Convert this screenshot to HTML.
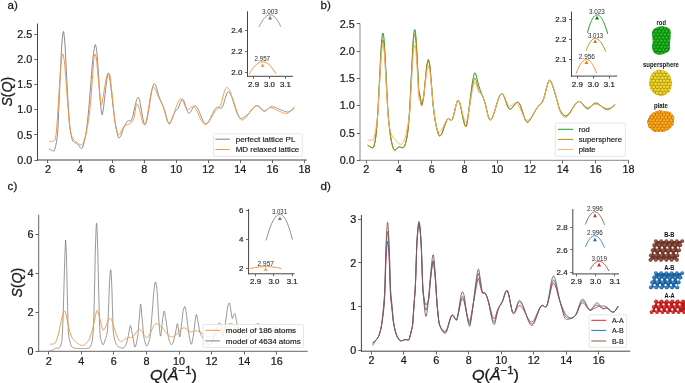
<!DOCTYPE html>
<html><head><meta charset="utf-8"><title>S(Q)</title>
<style>html,body{margin:0;padding:0;background:#fff;width:685px;height:383px;overflow:hidden}svg{display:block;opacity:0.999;will-change:transform}</style>
</head><body>
<svg width="685" height="383" viewBox="0 0 685 383" font-family='"Liberation Sans", sans-serif'>
<rect width="685" height="383" fill="#fff"/>
<text x="7.60" y="9.10" font-size="11.60" text-anchor="start" fill="#1a1a1a" font-weight="normal" font-style="normal" stroke="#1a1a1a" stroke-width="0.255">a)</text>
<text x="320.60" y="9.00" font-size="11.60" text-anchor="start" fill="#1a1a1a" font-weight="normal" font-style="normal" stroke="#1a1a1a" stroke-width="0.255">b)</text>
<text x="7.60" y="189.60" font-size="11.60" text-anchor="start" fill="#1a1a1a" font-weight="normal" font-style="normal" stroke="#1a1a1a" stroke-width="0.255">c)</text>
<text x="320.60" y="189.60" font-size="11.60" text-anchor="start" fill="#1a1a1a" font-weight="normal" font-style="normal" stroke="#1a1a1a" stroke-width="0.255">d)</text>
<line x1="37.50" y1="23.50" x2="37.50" y2="160.50" stroke="#444" stroke-width="1.00"/>
<line x1="37.00" y1="160.00" x2="306.80" y2="160.00" stroke="#444" stroke-width="1.00"/>
<line x1="47.50" y1="160.00" x2="47.50" y2="163.20" stroke="#555" stroke-width="0.90"/>
<text x="47.90" y="173.34" font-size="10.80" text-anchor="middle" fill="#1a1a1a" font-weight="normal" font-style="normal" stroke="#1a1a1a" stroke-width="0.238">2</text>
<line x1="79.50" y1="160.00" x2="79.50" y2="163.20" stroke="#555" stroke-width="0.90"/>
<text x="79.98" y="173.34" font-size="10.80" text-anchor="middle" fill="#1a1a1a" font-weight="normal" font-style="normal" stroke="#1a1a1a" stroke-width="0.238">4</text>
<line x1="112.50" y1="160.00" x2="112.50" y2="163.20" stroke="#555" stroke-width="0.90"/>
<text x="112.06" y="173.34" font-size="10.80" text-anchor="middle" fill="#1a1a1a" font-weight="normal" font-style="normal" stroke="#1a1a1a" stroke-width="0.238">6</text>
<line x1="144.50" y1="160.00" x2="144.50" y2="163.20" stroke="#555" stroke-width="0.90"/>
<text x="144.14" y="173.34" font-size="10.80" text-anchor="middle" fill="#1a1a1a" font-weight="normal" font-style="normal" stroke="#1a1a1a" stroke-width="0.238">8</text>
<line x1="176.50" y1="160.00" x2="176.50" y2="163.20" stroke="#555" stroke-width="0.90"/>
<text x="176.22" y="173.34" font-size="10.80" text-anchor="middle" fill="#1a1a1a" font-weight="normal" font-style="normal" stroke="#1a1a1a" stroke-width="0.238">10</text>
<line x1="208.50" y1="160.00" x2="208.50" y2="163.20" stroke="#555" stroke-width="0.90"/>
<text x="208.30" y="173.34" font-size="10.80" text-anchor="middle" fill="#1a1a1a" font-weight="normal" font-style="normal" stroke="#1a1a1a" stroke-width="0.238">12</text>
<line x1="240.50" y1="160.00" x2="240.50" y2="163.20" stroke="#555" stroke-width="0.90"/>
<text x="240.38" y="173.34" font-size="10.80" text-anchor="middle" fill="#1a1a1a" font-weight="normal" font-style="normal" stroke="#1a1a1a" stroke-width="0.238">14</text>
<line x1="272.50" y1="160.00" x2="272.50" y2="163.20" stroke="#555" stroke-width="0.90"/>
<text x="272.46" y="173.34" font-size="10.80" text-anchor="middle" fill="#1a1a1a" font-weight="normal" font-style="normal" stroke="#1a1a1a" stroke-width="0.238">16</text>
<line x1="304.50" y1="160.00" x2="304.50" y2="163.20" stroke="#555" stroke-width="0.90"/>
<text x="304.54" y="173.34" font-size="10.80" text-anchor="middle" fill="#1a1a1a" font-weight="normal" font-style="normal" stroke="#1a1a1a" stroke-width="0.238">18</text>
<line x1="34.30" y1="160.50" x2="37.50" y2="160.50" stroke="#555" stroke-width="0.90"/>
<text x="32.30" y="163.77" font-size="10.80" text-anchor="end" fill="#1a1a1a" font-weight="normal" font-style="normal" stroke="#1a1a1a" stroke-width="0.238">0.0</text>
<line x1="34.30" y1="134.50" x2="37.50" y2="134.50" stroke="#555" stroke-width="0.90"/>
<text x="32.30" y="138.62" font-size="10.80" text-anchor="end" fill="#1a1a1a" font-weight="normal" font-style="normal" stroke="#1a1a1a" stroke-width="0.238">0.5</text>
<line x1="34.30" y1="109.50" x2="37.50" y2="109.50" stroke="#555" stroke-width="0.90"/>
<text x="32.30" y="113.47" font-size="10.80" text-anchor="end" fill="#1a1a1a" font-weight="normal" font-style="normal" stroke="#1a1a1a" stroke-width="0.238">1.0</text>
<line x1="34.30" y1="84.50" x2="37.50" y2="84.50" stroke="#555" stroke-width="0.90"/>
<text x="32.30" y="88.32" font-size="10.80" text-anchor="end" fill="#1a1a1a" font-weight="normal" font-style="normal" stroke="#1a1a1a" stroke-width="0.238">1.5</text>
<line x1="34.30" y1="59.50" x2="37.50" y2="59.50" stroke="#555" stroke-width="0.90"/>
<text x="32.30" y="63.17" font-size="10.80" text-anchor="end" fill="#1a1a1a" font-weight="normal" font-style="normal" stroke="#1a1a1a" stroke-width="0.238">2.0</text>
<line x1="34.30" y1="34.50" x2="37.50" y2="34.50" stroke="#555" stroke-width="0.90"/>
<text x="32.30" y="38.02" font-size="10.80" text-anchor="end" fill="#1a1a1a" font-weight="normal" font-style="normal" stroke="#1a1a1a" stroke-width="0.238">2.5</text>
<path d="M49.50,149.08 L49.90,149.25 L50.30,149.46 L50.70,149.70 L51.10,149.95 L51.50,150.20 L51.90,150.45 L52.30,150.69 L52.70,150.92 L53.10,151.08 L53.50,151.10 L53.90,151.05 L54.30,150.66 L54.70,149.57 L55.10,148.21 L55.50,146.66 L55.90,144.88 L56.30,142.84 L56.70,140.53 L57.10,137.81 L57.50,134.20 L57.90,128.62 L58.30,120.65 L58.70,111.19 L59.10,102.39 L59.50,93.23 L59.90,84.08 L60.30,74.75 L60.70,66.21 L61.10,57.21 L61.50,49.34 L61.90,43.16 L62.30,38.76 L62.70,34.82 L63.10,32.11 L63.50,31.48 L63.90,33.26 L64.30,36.70 L64.70,40.92 L65.10,46.04 L65.50,53.37 L65.90,62.09 L66.30,69.77 L66.70,77.51 L67.10,85.09 L67.50,92.61 L67.90,99.82 L68.30,106.07 L68.70,112.13 L69.10,118.11 L69.50,123.33 L69.90,127.24 L70.30,129.65 L70.70,132.27 L71.10,134.68 L71.50,136.77 L71.90,138.53 L72.30,139.89 L72.70,140.80 L73.10,141.37 L73.50,141.83 L73.90,142.14 L74.30,142.38 L74.70,142.56 L75.10,142.73 L75.50,142.88 L75.90,143.03 L76.30,143.21 L76.70,143.42 L77.10,143.68 L77.50,144.01 L77.90,144.42 L78.30,144.91 L78.70,145.46 L79.10,146.05 L79.50,146.65 L79.90,147.22 L80.30,147.73 L80.70,148.14 L81.10,148.40 L81.50,148.47 L81.90,148.38 L82.30,147.85 L82.70,146.95 L83.10,145.87 L83.50,144.61 L83.90,143.19 L84.30,141.62 L84.70,139.89 L85.10,137.97 L85.50,135.84 L85.90,133.50 L86.30,130.92 L86.70,128.16 L87.10,125.01 L87.50,121.49 L87.90,117.72 L88.30,113.72 L88.70,109.48 L89.10,104.98 L89.50,100.27 L89.90,95.38 L90.30,90.32 L90.70,85.14 L91.10,79.87 L91.50,74.65 L91.90,69.36 L92.30,64.42 L92.70,60.49 L93.10,56.88 L93.50,53.66 L93.90,51.01 L94.30,48.75 L94.70,46.24 L95.10,44.80 L95.50,44.78 L95.90,46.08 L96.30,48.18 L96.70,50.68 L97.10,54.60 L97.50,60.12 L97.90,66.13 L98.30,71.88 L98.70,78.14 L99.10,84.31 L99.50,91.16 L99.90,96.81 L100.30,100.86 L100.70,105.35 L101.10,109.72 L101.50,112.86 L101.90,114.65 L102.30,114.72 L102.70,113.40 L103.10,110.87 L103.50,107.67 L103.90,104.62 L104.30,101.40 L104.70,98.00 L105.10,94.45 L105.50,90.85 L105.90,87.24 L106.30,83.82 L106.70,81.14 L107.10,78.55 L107.50,76.03 L107.90,73.85 L108.30,72.94 L108.70,73.26 L109.10,74.80 L109.50,77.28 L109.90,79.81 L110.30,82.44 L110.70,85.38 L111.10,88.86 L111.50,92.38 L111.90,95.97 L112.30,99.56 L112.70,103.08 L113.10,106.52 L113.50,109.87 L113.90,113.14 L114.30,116.30 L114.70,119.33 L115.10,122.18 L115.50,124.82 L115.90,127.12 L116.30,129.24 L116.70,131.18 L117.10,132.95 L117.50,134.53 L117.90,135.92 L118.30,137.02 L118.70,137.69 L119.10,137.85 L119.50,137.69 L119.90,137.34 L120.30,136.77 L120.70,136.02 L121.10,135.12 L121.50,134.12 L121.90,133.04 L122.30,131.91 L122.70,130.77 L123.10,129.64 L123.50,128.56 L123.90,127.56 L124.30,126.63 L124.70,125.79 L125.10,125.00 L125.50,124.26 L125.90,123.54 L126.30,122.85 L126.70,122.21 L127.10,121.65 L127.50,121.20 L127.90,120.87 L128.30,120.70 L128.70,120.67 L129.10,120.78 L129.50,120.94 L129.90,121.10 L130.30,121.14 L130.70,121.03 L131.10,120.64 L131.50,119.94 L131.90,118.96 L132.30,117.76 L132.70,116.34 L133.10,114.75 L133.50,113.04 L133.90,111.23 L134.30,109.38 L134.70,107.53 L135.10,105.71 L135.50,103.96 L135.90,102.34 L136.30,100.88 L136.70,99.62 L137.10,98.59 L137.50,97.82 L137.90,97.36 L138.30,97.25 L138.70,97.68 L139.10,98.64 L139.50,100.02 L139.90,101.75 L140.30,103.72 L140.70,105.88 L141.10,108.20 L141.50,110.60 L141.90,113.01 L142.30,115.35 L142.70,117.56 L143.10,119.57 L143.50,121.38 L143.90,122.85 L144.30,123.93 L144.70,124.51 L145.10,124.50 L145.50,124.06 L145.90,123.23 L146.30,122.06 L146.70,120.58 L147.10,118.83 L147.50,116.86 L147.90,114.69 L148.30,112.36 L148.70,109.90 L149.10,107.35 L149.50,104.75 L149.90,102.15 L150.30,99.57 L150.70,97.06 L151.10,94.66 L151.50,92.40 L151.90,90.32 L152.30,88.47 L152.70,86.85 L153.10,85.51 L153.50,84.51 L153.90,83.87 L154.30,83.65 L154.70,83.81 L155.10,84.26 L155.50,84.97 L155.90,85.89 L156.30,87.01 L156.70,88.28 L157.10,89.65 L157.50,91.10 L157.90,92.57 L158.30,94.03 L158.70,95.44 L159.10,96.76 L159.50,97.99 L159.90,99.11 L160.30,100.14 L160.70,101.12 L161.10,102.05 L161.50,102.96 L161.90,103.86 L162.30,104.75 L162.70,105.63 L163.10,106.52 L163.50,107.43 L163.90,108.41 L164.30,109.48 L164.70,110.66 L165.10,111.97 L165.50,113.40 L165.90,114.89 L166.30,116.43 L166.70,117.94 L167.10,119.39 L167.50,120.73 L167.90,121.90 L168.30,122.86 L168.70,123.60 L169.10,124.04 L169.50,124.13 L169.90,123.80 L170.30,123.11 L170.70,122.24 L171.10,121.21 L171.50,120.08 L171.90,118.94 L172.30,117.84 L172.70,116.79 L173.10,115.81 L173.50,114.87 L173.90,114.00 L174.30,113.20 L174.70,112.49 L175.10,111.86 L175.50,111.30 L175.90,110.81 L176.30,110.36 L176.70,109.95 L177.10,109.54 L177.50,109.11 L177.90,108.60 L178.30,107.96 L178.70,107.15 L179.10,106.17 L179.50,105.09 L179.90,103.97 L180.30,102.89 L180.70,101.89 L181.10,100.98 L181.50,100.20 L181.90,99.60 L182.30,99.20 L182.70,99.18 L183.10,99.50 L183.50,100.08 L183.90,100.89 L184.30,101.89 L184.70,103.05 L185.10,104.31 L185.50,105.64 L185.90,106.99 L186.30,108.31 L186.70,109.55 L187.10,110.68 L187.50,111.64 L187.90,112.39 L188.30,112.92 L188.70,113.19 L189.10,113.23 L189.50,113.07 L189.90,112.73 L190.30,112.26 L190.70,111.69 L191.10,111.04 L191.50,110.33 L191.90,109.60 L192.30,108.87 L192.70,108.16 L193.10,107.51 L193.50,106.94 L193.90,106.46 L194.30,106.11 L194.70,105.90 L195.10,105.84 L195.50,105.92 L195.90,106.14 L196.30,106.49 L196.70,106.95 L197.10,107.52 L197.50,108.17 L197.90,108.90 L198.30,109.71 L198.70,110.57 L199.10,111.48 L199.50,112.42 L199.90,113.39 L200.30,114.38 L200.70,115.37 L201.10,116.35 L201.50,117.32 L201.90,118.26 L202.30,119.15 L202.70,120.00 L203.10,120.79 L203.50,121.50 L203.90,122.13 L204.30,122.67 L204.70,123.11 L205.10,123.43 L205.50,123.63 L205.90,123.71 L206.30,123.67 L206.70,123.52 L207.10,123.26 L207.50,122.91 L207.90,122.47 L208.30,121.95 L208.70,121.36 L209.10,120.72 L209.50,120.01 L209.90,119.27 L210.30,118.48 L210.70,117.67 L211.10,116.83 L211.50,115.98 L211.90,115.13 L212.30,114.28 L212.70,113.44 L213.10,112.62 L213.50,111.83 L213.90,111.07 L214.30,110.35 L214.70,109.69 L215.10,109.09 L215.50,108.55 L215.90,108.10 L216.30,107.72 L216.70,107.44 L217.10,107.25 L217.50,107.16 L217.90,107.16 L218.30,107.24 L218.70,107.38 L219.10,107.57 L219.50,107.78 L219.90,107.98 L220.30,108.15 L220.70,108.26 L221.10,108.26 L221.50,108.10 L221.90,107.75 L222.30,107.18 L222.70,106.39 L223.10,105.40 L223.50,104.25 L223.90,102.98 L224.30,101.63 L224.70,100.23 L225.10,98.82 L225.50,97.45 L225.90,96.16 L226.30,94.97 L226.70,93.94 L227.10,93.10 L227.50,92.48 L227.90,92.09 L228.30,91.94 L228.70,91.99 L229.10,92.24 L229.50,92.63 L229.90,93.17 L230.30,93.83 L230.70,94.60 L231.10,95.48 L231.50,96.44 L231.90,97.48 L232.30,98.59 L232.70,99.76 L233.10,100.97 L233.50,102.22 L233.90,103.49 L234.30,104.78 L234.70,106.07 L235.10,107.35 L235.50,108.61 L235.90,109.84 L236.30,111.03 L236.70,112.17 L237.10,113.25 L237.50,114.25 L237.90,115.17 L238.30,116.00 L238.70,116.71 L239.10,117.32 L239.50,117.79 L239.90,118.14 L240.30,118.36 L240.70,118.46 L241.10,118.48 L241.50,118.42 L241.90,118.32 L242.30,118.17 L242.70,118.00 L243.10,117.80 L243.50,117.58 L243.90,117.34 L244.30,117.09 L244.70,116.83 L245.10,116.56 L245.50,116.29 L245.90,116.02 L246.30,115.75 L246.70,115.46 L247.10,115.14 L247.50,114.80 L247.90,114.43 L248.30,114.03 L248.70,113.61 L249.10,113.16 L249.50,112.70 L249.90,112.22 L250.30,111.73 L250.70,111.23 L251.10,110.74 L251.50,110.24 L251.90,109.75 L252.30,109.27 L252.70,108.80 L253.10,108.34 L253.50,107.91 L253.90,107.51 L254.30,107.13 L254.70,106.78 L255.10,106.47 L255.50,106.20 L255.90,105.98 L256.30,105.80 L256.70,105.68 L257.10,105.62 L257.50,105.63 L257.90,105.70 L258.30,105.86 L258.70,106.09 L259.10,106.38 L259.50,106.73 L259.90,107.13 L260.30,107.55 L260.70,108.00 L261.10,108.46 L261.50,108.91 L261.90,109.36 L262.30,109.78 L262.70,110.16 L263.10,110.50 L263.50,110.77 L263.90,110.98 L264.30,111.11 L264.70,111.16 L265.10,111.12 L265.50,110.99 L265.90,110.79 L266.30,110.52 L266.70,110.20 L267.10,109.84 L267.50,109.46 L267.90,109.05 L268.30,108.64 L268.70,108.25 L269.10,107.87 L269.50,107.53 L269.90,107.24 L270.30,107.00 L270.70,106.82 L271.10,106.72 L271.50,106.67 L271.90,106.67 L272.30,106.70 L272.70,106.75 L273.10,106.83 L273.50,106.92 L273.90,107.02 L274.30,107.14 L274.70,107.27 L275.10,107.42 L275.50,107.57 L275.90,107.73 L276.30,107.89 L276.70,108.06 L277.10,108.24 L277.50,108.42 L277.90,108.60 L278.30,108.78 L278.70,108.96 L279.10,109.14 L279.50,109.31 L279.90,109.48 L280.30,109.65 L280.70,109.80 L281.10,109.95 L281.50,110.10 L281.90,110.25 L282.30,110.41 L282.70,110.56 L283.10,110.73 L283.50,110.90 L283.90,111.06 L284.30,111.22 L284.70,111.38 L285.10,111.52 L285.50,111.65 L285.90,111.76 L286.30,111.84 L286.70,111.91 L287.10,111.94 L287.50,111.95 L287.90,111.93 L288.30,111.88 L288.70,111.80 L289.10,111.69 L289.50,111.55 L289.90,111.39 L290.30,111.20 L290.70,110.99 L291.10,110.75 L291.50,110.49 L291.90,110.21 L292.30,109.90 L292.70,109.58 L293.10,109.26 L293.50,108.96 L293.90,108.72 L294.00,108.55" fill="none" stroke="#7f7f7f" stroke-width="0.90" stroke-opacity="1.00" stroke-linejoin="round" stroke-linecap="round"/>
<path d="M49.50,141.50 L49.90,141.49 L50.30,141.48 L50.70,141.46 L51.10,141.43 L51.50,141.40 L51.90,141.36 L52.30,141.31 L52.70,141.24 L53.10,141.16 L53.50,141.05 L53.90,140.87 L54.30,140.51 L54.70,140.39 L55.10,139.58 L55.50,137.70 L55.90,135.61 L56.30,132.55 L56.70,127.95 L57.10,122.83 L57.50,116.98 L57.90,110.85 L58.30,104.60 L58.70,98.15 L59.10,91.64 L59.50,85.09 L59.90,78.99 L60.30,72.98 L60.70,67.16 L61.10,62.83 L61.50,59.88 L61.90,56.83 L62.30,54.72 L62.70,53.90 L63.10,54.51 L63.50,56.22 L63.90,58.50 L64.30,60.65 L64.70,64.27 L65.10,69.41 L65.50,74.46 L65.90,79.50 L66.30,84.74 L66.70,90.10 L67.10,95.50 L67.50,100.86 L67.90,106.11 L68.30,111.17 L68.70,116.24 L69.10,121.12 L69.50,124.70 L69.90,127.54 L70.30,130.25 L70.70,132.59 L71.10,134.37 L71.50,135.50 L71.90,136.54 L72.30,137.40 L72.70,138.14 L73.10,138.77 L73.50,139.34 L73.90,139.85 L74.30,140.31 L74.70,140.73 L75.10,141.11 L75.50,141.47 L75.90,141.81 L76.30,142.14 L76.70,142.46 L77.10,142.77 L77.50,143.08 L77.90,143.39 L78.30,143.68 L78.70,143.96 L79.10,144.22 L79.50,144.46 L79.90,144.66 L80.30,144.84 L80.70,144.96 L81.10,145.03 L81.50,145.00 L81.90,144.83 L82.30,144.48 L82.70,143.93 L83.10,143.18 L83.50,142.26 L83.90,141.21 L84.30,140.06 L84.70,138.82 L85.10,137.49 L85.50,136.04 L85.90,134.44 L86.30,132.68 L86.70,130.76 L87.10,128.68 L87.50,126.46 L87.90,124.11 L88.30,121.59 L88.70,118.88 L89.10,115.95 L89.50,112.77 L89.90,109.29 L90.30,105.56 L90.70,101.38 L91.10,96.25 L91.50,90.85 L91.90,85.42 L92.30,79.87 L92.70,74.37 L93.10,68.35 L93.50,62.83 L93.90,59.27 L94.30,56.47 L94.70,54.45 L95.10,53.94 L95.50,54.70 L95.90,56.40 L96.30,58.00 L96.70,60.72 L97.10,65.05 L97.50,69.63 L97.90,73.99 L98.30,78.50 L98.70,83.02 L99.10,87.49 L99.50,91.88 L99.90,95.37 L100.30,98.84 L100.70,102.37 L101.10,104.53 L101.50,105.06 L101.90,104.16 L102.30,101.99 L102.70,99.58 L103.10,97.34 L103.50,94.91 L103.90,92.38 L104.30,89.79 L104.70,87.20 L105.10,84.68 L105.50,82.29 L105.90,80.11 L106.30,78.10 L106.70,76.35 L107.10,75.22 L107.50,74.34 L107.90,73.69 L108.30,73.37 L108.70,73.47 L109.10,73.97 L109.50,74.73 L109.90,75.30 L110.30,77.40 L110.70,80.94 L111.10,84.68 L111.50,88.39 L111.90,92.34 L112.30,96.46 L112.70,100.61 L113.10,104.68 L113.50,108.60 L113.90,112.33 L114.30,115.86 L114.70,119.20 L115.10,122.16 L115.50,124.58 L115.90,126.84 L116.30,128.88 L116.70,130.68 L117.10,132.30 L117.50,133.59 L117.90,134.38 L118.30,134.55 L118.70,134.53 L119.10,134.34 L119.50,133.96 L119.90,133.46 L120.30,132.85 L120.70,132.17 L121.10,131.44 L121.50,130.67 L121.90,129.89 L122.30,129.11 L122.70,128.37 L123.10,127.67 L123.50,127.04 L123.90,126.50 L124.30,126.05 L124.70,125.70 L125.10,125.44 L125.50,125.24 L125.90,125.08 L126.30,124.94 L126.70,124.82 L127.10,124.71 L127.50,124.60 L127.90,124.48 L128.30,124.34 L128.70,124.19 L129.10,124.01 L129.50,123.80 L129.90,123.57 L130.30,123.31 L130.70,123.01 L131.10,122.68 L131.50,122.31 L131.90,121.89 L132.30,121.41 L132.70,120.84 L133.10,120.13 L133.50,119.32 L133.90,118.46 L134.30,116.47 L134.70,113.94 L135.10,111.54 L135.50,109.14 L135.90,106.54 L136.30,104.36 L136.70,103.52 L137.10,103.92 L137.50,104.35 L137.90,105.02 L138.30,105.91 L138.70,107.02 L139.10,108.31 L139.50,109.75 L139.90,111.30 L140.30,112.91 L140.70,114.56 L141.10,116.20 L141.50,117.80 L141.90,119.32 L142.30,120.73 L142.70,121.98 L143.10,123.05 L143.50,123.89 L143.90,124.49 L144.30,124.81 L144.70,124.79 L145.10,124.33 L145.50,123.47 L145.90,122.24 L146.30,120.69 L146.70,118.89 L147.10,116.86 L147.50,114.64 L147.90,112.27 L148.30,109.78 L148.70,107.24 L149.10,104.66 L149.50,102.12 L149.90,99.63 L150.30,97.26 L150.70,95.04 L151.10,93.01 L151.50,91.21 L151.90,89.66 L152.30,88.43 L152.70,87.57 L153.10,87.11 L153.50,87.05 L153.90,87.22 L154.30,87.61 L154.70,88.19 L155.10,88.93 L155.50,89.78 L155.90,90.72 L156.30,91.71 L156.70,92.73 L157.10,93.74 L157.50,94.72 L157.90,95.64 L158.30,96.48 L158.70,97.25 L159.10,97.97 L159.50,98.65 L159.90,99.33 L160.30,100.03 L160.70,100.76 L161.10,101.54 L161.50,102.36 L161.90,103.23 L162.30,104.16 L162.70,105.16 L163.10,106.27 L163.50,107.48 L163.90,108.80 L164.30,110.22 L164.70,111.70 L165.10,113.21 L165.50,114.71 L165.90,116.19 L166.30,117.59 L166.70,118.88 L167.10,120.04 L167.50,121.02 L167.90,121.80 L168.30,122.36 L168.70,122.68 L169.10,122.78 L169.50,122.68 L169.90,122.41 L170.30,121.99 L170.70,121.44 L171.10,120.78 L171.50,120.01 L171.90,119.16 L172.30,118.22 L172.70,117.21 L173.10,116.13 L173.50,115.01 L173.90,113.85 L174.30,112.66 L174.70,111.46 L175.10,110.25 L175.50,109.04 L175.90,107.84 L176.30,106.67 L176.70,105.54 L177.10,104.46 L177.50,103.43 L177.90,102.47 L178.30,101.59 L178.70,100.80 L179.10,100.11 L179.50,99.54 L179.90,99.08 L180.30,98.77 L180.70,98.60 L181.10,98.61 L181.50,98.80 L181.90,99.17 L182.30,99.72 L182.70,100.42 L183.10,101.24 L183.50,102.16 L183.90,103.14 L184.30,104.15 L184.70,105.16 L185.10,106.14 L185.50,107.06 L185.90,107.88 L186.30,108.58 L186.70,109.13 L187.10,109.51 L187.50,109.71 L187.90,109.75 L188.30,109.65 L188.70,109.44 L189.10,109.14 L189.50,108.79 L189.90,108.40 L190.30,108.00 L190.70,107.61 L191.10,107.24 L191.50,106.93 L191.90,106.68 L192.30,106.53 L192.70,106.47 L193.10,106.52 L193.50,106.67 L193.90,106.91 L194.30,107.25 L194.70,107.67 L195.10,108.17 L195.50,108.74 L195.90,109.37 L196.30,110.05 L196.70,110.78 L197.10,111.56 L197.50,112.36 L197.90,113.19 L198.30,114.05 L198.70,114.91 L199.10,115.78 L199.50,116.64 L199.90,117.49 L200.30,118.33 L200.70,119.14 L201.10,119.93 L201.50,120.67 L201.90,121.37 L202.30,122.01 L202.70,122.59 L203.10,123.11 L203.50,123.55 L203.90,123.91 L204.30,124.18 L204.70,124.36 L205.10,124.45 L205.50,124.45 L205.90,124.36 L206.30,124.20 L206.70,123.96 L207.10,123.66 L207.50,123.30 L207.90,122.88 L208.30,122.41 L208.70,121.90 L209.10,121.34 L209.50,120.75 L209.90,120.13 L210.30,119.48 L210.70,118.82 L211.10,118.13 L211.50,117.43 L211.90,116.73 L212.30,116.02 L212.70,115.32 L213.10,114.62 L213.50,113.93 L213.90,113.27 L214.30,112.62 L214.70,112.00 L215.10,111.41 L215.50,110.86 L215.90,110.35 L216.30,109.89 L216.70,109.47 L217.10,109.10 L217.50,108.78 L217.90,108.48 L218.30,108.19 L218.70,107.89 L219.10,107.55 L219.50,107.13 L219.90,106.58 L220.30,105.85 L220.70,104.93 L221.10,103.82 L221.50,102.53 L221.90,101.09 L222.30,99.56 L222.70,97.97 L223.10,96.35 L223.50,94.76 L223.90,93.23 L224.30,91.81 L224.70,90.53 L225.10,89.43 L225.50,88.56 L225.90,87.91 L226.30,87.55 L226.70,87.41 L227.10,87.46 L227.50,87.68 L227.90,88.03 L228.30,88.49 L228.70,89.05 L229.10,89.71 L229.50,90.45 L229.90,91.28 L230.30,92.18 L230.70,93.15 L231.10,94.18 L231.50,95.26 L231.90,96.39 L232.30,97.55 L232.70,98.76 L233.10,99.98 L233.50,101.23 L233.90,102.49 L234.30,103.76 L234.70,105.02 L235.10,106.28 L235.50,107.52 L235.90,108.75 L236.30,109.94 L236.70,111.10 L237.10,112.22 L237.50,113.29 L237.90,114.30 L238.30,115.25 L238.70,116.13 L239.10,116.94 L239.50,117.66 L239.90,118.30 L240.30,118.84 L240.70,119.28 L241.10,119.61 L241.50,119.83 L241.90,119.94 L242.30,119.97 L242.70,119.91 L243.10,119.78 L243.50,119.60 L243.90,119.36 L244.30,119.07 L244.70,118.74 L245.10,118.37 L245.50,117.96 L245.90,117.52 L246.30,117.04 L246.70,116.54 L247.10,116.02 L247.50,115.47 L247.90,114.91 L248.30,114.34 L248.70,113.76 L249.10,113.17 L249.50,112.58 L249.90,111.99 L250.30,111.41 L250.70,110.83 L251.10,110.27 L251.50,109.72 L251.90,109.19 L252.30,108.68 L252.70,108.20 L253.10,107.75 L253.50,107.33 L253.90,106.95 L254.30,106.61 L254.70,106.31 L255.10,106.06 L255.50,105.86 L255.90,105.72 L256.30,105.63 L256.70,105.62 L257.10,105.67 L257.50,105.80 L257.90,106.00 L258.30,106.26 L258.70,106.58 L259.10,106.94 L259.50,107.34 L259.90,107.76 L260.30,108.20 L260.70,108.63 L261.10,109.05 L261.50,109.46 L261.90,109.83 L262.30,110.16 L262.70,110.44 L263.10,110.66 L263.50,110.80 L263.90,110.88 L264.30,110.88 L264.70,110.81 L265.10,110.68 L265.50,110.51 L265.90,110.29 L266.30,110.04 L266.70,109.77 L267.10,109.49 L267.50,109.21 L267.90,108.93 L268.30,108.66 L268.70,108.41 L269.10,108.19 L269.50,108.02 L269.90,107.89 L270.30,107.80 L270.70,107.77 L271.10,107.78 L271.50,107.83 L271.90,107.91 L272.30,108.02 L272.70,108.15 L273.10,108.30 L273.50,108.47 L273.90,108.65 L274.30,108.84 L274.70,109.04 L275.10,109.25 L275.50,109.45 L275.90,109.66 L276.30,109.86 L276.70,110.06 L277.10,110.25 L277.50,110.42 L277.90,110.60 L278.30,110.77 L278.70,110.94 L279.10,111.12 L279.50,111.30 L279.90,111.48 L280.30,111.67 L280.70,111.86 L281.10,112.05 L281.50,112.24 L281.90,112.42 L282.30,112.59 L282.70,112.75 L283.10,112.90 L283.50,113.04 L283.90,113.16 L284.30,113.26 L284.70,113.35 L285.10,113.41 L285.50,113.44 L285.90,113.45 L286.30,113.42 L286.70,113.36 L287.10,113.25 L287.50,113.11 L287.90,112.93 L288.30,112.72 L288.70,112.47 L289.10,112.19 L289.50,111.88 L289.90,111.53 L290.30,111.16 L290.70,110.76 L291.10,110.33 L291.50,109.88 L291.90,109.40 L292.30,108.91 L292.70,108.40 L293.10,107.90 L293.50,107.44 L293.90,107.07 L294.00,106.82" fill="none" stroke="#f2984a" stroke-width="1.00" stroke-opacity="1.00" stroke-linejoin="round" stroke-linecap="round"/>
<rect x="213.4" y="133.8" width="88.9" height="22.6" rx="0.8" fill="#fff" fill-opacity="0.8" stroke="#e0e0e0" stroke-width="0.8"/>
<line x1="215.40" y1="139.20" x2="229.80" y2="139.20" stroke="#7f7f7f" stroke-width="1.00"/>
<line x1="215.40" y1="149.50" x2="229.80" y2="149.50" stroke="#f2984a" stroke-width="1.00"/>
<text x="235.70" y="141.90" font-size="7.60" text-anchor="start" fill="#1a1a1a" font-weight="normal" font-style="normal" textLength="59.70" lengthAdjust="spacingAndGlyphs" stroke="#1a1a1a" stroke-width="0.167">perfect lattice PL</text>
<text x="235.70" y="152.20" font-size="7.60" text-anchor="start" fill="#1a1a1a" font-weight="normal" font-style="normal" textLength="63.60" lengthAdjust="spacingAndGlyphs" stroke="#1a1a1a" stroke-width="0.167">MD relaxed lattice</text>
<line x1="247.50" y1="11.30" x2="247.50" y2="76.80" stroke="#444" stroke-width="1.00"/>
<line x1="247.00" y1="76.30" x2="292.90" y2="76.30" stroke="#444" stroke-width="1.00"/>
<line x1="253.50" y1="76.30" x2="253.50" y2="78.80" stroke="#555" stroke-width="0.90"/>
<text x="253.60" y="86.81" font-size="7.90" text-anchor="middle" fill="#1a1a1a" font-weight="normal" font-style="normal" stroke="#1a1a1a" stroke-width="0.174">2.9</text>
<line x1="269.50" y1="76.30" x2="269.50" y2="78.80" stroke="#555" stroke-width="0.90"/>
<text x="269.50" y="86.81" font-size="7.90" text-anchor="middle" fill="#1a1a1a" font-weight="normal" font-style="normal" stroke="#1a1a1a" stroke-width="0.174">3.0</text>
<line x1="285.50" y1="76.30" x2="285.50" y2="78.80" stroke="#555" stroke-width="0.90"/>
<text x="285.40" y="86.81" font-size="7.90" text-anchor="middle" fill="#1a1a1a" font-weight="normal" font-style="normal" stroke="#1a1a1a" stroke-width="0.174">3.1</text>
<line x1="245.00" y1="72.50" x2="247.50" y2="72.50" stroke="#555" stroke-width="0.90"/>
<text x="242.30" y="75.36" font-size="7.90" text-anchor="end" fill="#1a1a1a" font-weight="normal" font-style="normal" stroke="#1a1a1a" stroke-width="0.174">2.0</text>
<line x1="245.00" y1="51.50" x2="247.50" y2="51.50" stroke="#555" stroke-width="0.90"/>
<text x="242.30" y="54.26" font-size="7.90" text-anchor="end" fill="#1a1a1a" font-weight="normal" font-style="normal" stroke="#1a1a1a" stroke-width="0.174">2.2</text>
<line x1="245.00" y1="30.50" x2="247.50" y2="30.50" stroke="#555" stroke-width="0.90"/>
<text x="242.30" y="33.16" font-size="7.90" text-anchor="end" fill="#1a1a1a" font-weight="normal" font-style="normal" stroke="#1a1a1a" stroke-width="0.174">2.4</text>
<path d="M259.10,26.90 L259.65,25.72 L260.20,24.60 L260.75,23.54 L261.30,22.54 L261.85,21.61 L262.40,20.73 L262.95,19.91 L263.50,19.16 L264.05,18.46 L264.60,17.82 L265.15,17.25 L265.70,16.74 L266.25,16.28 L266.80,15.89 L267.35,15.56 L267.90,15.28 L268.45,15.07 L269.00,14.92 L269.55,14.83 L270.10,14.80 L270.64,14.83 L271.17,14.92 L271.71,15.07 L272.24,15.27 L272.78,15.54 L273.31,15.86 L273.85,16.25 L274.38,16.69 L274.92,17.19 L275.45,17.75 L275.99,18.37 L276.52,19.05 L277.06,19.79 L277.59,20.58 L278.12,21.44 L278.66,22.35 L279.19,23.33 L279.73,24.36 L280.26,25.45 L280.80,26.60" fill="none" stroke="#7f7f7f" stroke-width="0.90" stroke-linejoin="round"/>
<path d="M249.40,73.80 L250.06,72.64 L250.72,71.54 L251.38,70.50 L252.04,69.52 L252.70,68.59 L253.36,67.73 L254.02,66.93 L254.68,66.18 L255.34,65.50 L256.00,64.88 L256.66,64.31 L257.32,63.80 L257.98,63.36 L258.64,62.97 L259.30,62.64 L259.96,62.38 L260.62,62.17 L261.28,62.02 L261.94,61.93 L262.60,61.90 L263.26,61.93 L263.92,62.02 L264.58,62.17 L265.24,62.38 L265.90,62.64 L266.56,62.97 L267.22,63.36 L267.88,63.80 L268.54,64.31 L269.20,64.88 L269.86,65.50 L270.52,66.18 L271.18,66.93 L271.84,67.73 L272.50,68.59 L273.16,69.52 L273.82,70.50 L274.48,71.54 L275.14,72.64 L275.80,73.80" fill="none" stroke="#f08a30" stroke-width="1.00" stroke-linejoin="round"/>
<path d="M270.10,15.80 L272.10,19.40 L268.10,19.40 Z" fill="#777"/>
<path d="M262.60,63.50 L264.60,67.10 L260.60,67.10 Z" fill="#f2984a"/>
<text x="262.00" y="13.70" font-size="6.60" text-anchor="start" fill="#2a2a2a" font-weight="normal" font-style="normal" textLength="15.90" lengthAdjust="spacingAndGlyphs">3.003</text>
<text x="254.50" y="60.60" font-size="6.60" text-anchor="start" fill="#2a2a2a" font-weight="normal" font-style="normal" textLength="15.60" lengthAdjust="spacingAndGlyphs">2.957</text>
<line x1="360.00" y1="23.50" x2="360.00" y2="160.80" stroke="#888" stroke-width="1.00"/>
<line x1="359.50" y1="160.30" x2="628.70" y2="160.30" stroke="#888" stroke-width="1.00"/>
<line x1="366.50" y1="160.30" x2="366.50" y2="163.50" stroke="#555" stroke-width="0.90"/>
<text x="366.20" y="172.84" font-size="10.80" text-anchor="middle" fill="#1a1a1a" font-weight="normal" font-style="normal" stroke="#1a1a1a" stroke-width="0.238">2</text>
<line x1="398.50" y1="160.30" x2="398.50" y2="163.50" stroke="#555" stroke-width="0.90"/>
<text x="398.98" y="172.84" font-size="10.80" text-anchor="middle" fill="#1a1a1a" font-weight="normal" font-style="normal" stroke="#1a1a1a" stroke-width="0.238">4</text>
<line x1="431.50" y1="160.30" x2="431.50" y2="163.50" stroke="#555" stroke-width="0.90"/>
<text x="431.76" y="172.84" font-size="10.80" text-anchor="middle" fill="#1a1a1a" font-weight="normal" font-style="normal" stroke="#1a1a1a" stroke-width="0.238">6</text>
<line x1="464.50" y1="160.30" x2="464.50" y2="163.50" stroke="#555" stroke-width="0.90"/>
<text x="464.54" y="172.84" font-size="10.80" text-anchor="middle" fill="#1a1a1a" font-weight="normal" font-style="normal" stroke="#1a1a1a" stroke-width="0.238">8</text>
<line x1="497.50" y1="160.30" x2="497.50" y2="163.50" stroke="#555" stroke-width="0.90"/>
<text x="497.32" y="172.84" font-size="10.80" text-anchor="middle" fill="#1a1a1a" font-weight="normal" font-style="normal" stroke="#1a1a1a" stroke-width="0.238">10</text>
<line x1="530.50" y1="160.30" x2="530.50" y2="163.50" stroke="#555" stroke-width="0.90"/>
<text x="530.10" y="172.84" font-size="10.80" text-anchor="middle" fill="#1a1a1a" font-weight="normal" font-style="normal" stroke="#1a1a1a" stroke-width="0.238">12</text>
<line x1="562.50" y1="160.30" x2="562.50" y2="163.50" stroke="#555" stroke-width="0.90"/>
<text x="562.88" y="172.84" font-size="10.80" text-anchor="middle" fill="#1a1a1a" font-weight="normal" font-style="normal" stroke="#1a1a1a" stroke-width="0.238">14</text>
<line x1="595.50" y1="160.30" x2="595.50" y2="163.50" stroke="#555" stroke-width="0.90"/>
<text x="595.66" y="172.84" font-size="10.80" text-anchor="middle" fill="#1a1a1a" font-weight="normal" font-style="normal" stroke="#1a1a1a" stroke-width="0.238">16</text>
<line x1="628.50" y1="160.30" x2="628.50" y2="163.50" stroke="#555" stroke-width="0.90"/>
<text x="628.44" y="172.84" font-size="10.80" text-anchor="middle" fill="#1a1a1a" font-weight="normal" font-style="normal" stroke="#1a1a1a" stroke-width="0.238">18</text>
<line x1="356.80" y1="160.50" x2="360.00" y2="160.50" stroke="#555" stroke-width="0.90"/>
<text x="354.80" y="164.07" font-size="10.80" text-anchor="end" fill="#1a1a1a" font-weight="normal" font-style="normal" stroke="#1a1a1a" stroke-width="0.238">0.0</text>
<line x1="356.80" y1="133.50" x2="360.00" y2="133.50" stroke="#555" stroke-width="0.90"/>
<text x="354.80" y="136.77" font-size="10.80" text-anchor="end" fill="#1a1a1a" font-weight="normal" font-style="normal" stroke="#1a1a1a" stroke-width="0.238">0.5</text>
<line x1="356.80" y1="105.50" x2="360.00" y2="105.50" stroke="#555" stroke-width="0.90"/>
<text x="354.80" y="109.47" font-size="10.80" text-anchor="end" fill="#1a1a1a" font-weight="normal" font-style="normal" stroke="#1a1a1a" stroke-width="0.238">1.0</text>
<line x1="356.80" y1="78.50" x2="360.00" y2="78.50" stroke="#555" stroke-width="0.90"/>
<text x="354.80" y="82.17" font-size="10.80" text-anchor="end" fill="#1a1a1a" font-weight="normal" font-style="normal" stroke="#1a1a1a" stroke-width="0.238">1.5</text>
<line x1="356.80" y1="51.50" x2="360.00" y2="51.50" stroke="#555" stroke-width="0.90"/>
<text x="354.80" y="54.87" font-size="10.80" text-anchor="end" fill="#1a1a1a" font-weight="normal" font-style="normal" stroke="#1a1a1a" stroke-width="0.238">2.0</text>
<line x1="356.80" y1="23.50" x2="360.00" y2="23.50" stroke="#555" stroke-width="0.90"/>
<text x="354.80" y="27.57" font-size="10.80" text-anchor="end" fill="#1a1a1a" font-weight="normal" font-style="normal" stroke="#1a1a1a" stroke-width="0.238">2.5</text>
<path d="M368.00,145.42 L368.40,145.62 L368.80,145.87 L369.20,146.15 L369.60,146.42 L370.00,146.68 L370.40,146.93 L370.80,147.15 L371.20,147.37 L371.60,147.56 L372.00,147.73 L372.40,147.82 L372.80,147.77 L373.20,147.65 L373.60,147.26 L374.00,146.05 L374.40,144.40 L374.80,142.52 L375.20,140.54 L375.60,138.00 L376.00,134.87 L376.40,131.13 L376.80,126.22 L377.20,120.61 L377.60,114.63 L378.00,108.50 L378.40,100.85 L378.80,93.01 L379.20,85.06 L379.60,77.07 L380.00,69.12 L380.40,61.08 L380.80,53.30 L381.20,46.73 L381.60,41.25 L382.00,37.05 L382.40,34.26 L382.80,33.07 L383.20,33.55 L383.60,35.39 L384.00,38.93 L384.40,43.85 L384.80,49.93 L385.20,57.12 L385.60,65.08 L386.00,73.09 L386.40,81.06 L386.80,89.00 L387.20,97.00 L387.60,105.12 L388.00,111.73 L388.40,116.87 L388.80,120.99 L389.20,124.85 L389.60,128.45 L390.00,131.85 L390.40,134.98 L390.80,137.79 L391.20,140.11 L391.60,142.04 L392.00,143.84 L392.40,145.44 L392.80,146.84 L393.20,148.03 L393.60,148.99 L394.00,149.63 L394.40,149.90 L394.80,149.99 L395.20,149.90 L395.60,149.68 L396.00,149.38 L396.40,149.03 L396.80,148.65 L397.20,148.26 L397.60,147.88 L398.00,147.54 L398.40,147.25 L398.80,147.03 L399.20,146.92 L399.60,146.90 L400.00,146.99 L400.40,147.16 L400.80,147.35 L401.20,147.53 L401.60,147.65 L402.00,147.70 L402.40,147.70 L402.80,147.64 L403.20,147.52 L403.60,147.31 L404.00,146.95 L404.40,146.41 L404.80,145.54 L405.20,144.47 L405.60,143.18 L406.00,141.69 L406.40,139.99 L406.80,138.04 L407.20,135.75 L407.60,133.13 L408.00,129.84 L408.40,125.78 L408.80,121.11 L409.20,116.01 L409.60,110.58 L410.00,103.74 L410.40,95.38 L410.80,87.14 L411.20,78.94 L411.60,70.72 L412.00,62.44 L412.40,54.22 L412.80,46.85 L413.20,40.58 L413.60,35.52 L414.00,31.87 L414.40,29.96 L414.80,29.47 L415.20,30.70 L415.60,33.57 L416.00,37.90 L416.40,43.56 L416.80,50.33 L417.20,58.33 L417.60,66.48 L418.00,74.26 L418.40,83.91 L418.80,90.34 L419.20,92.30 L419.60,93.28 L420.00,95.45 L420.40,97.75 L420.80,99.90 L421.20,102.93 L421.60,104.33 L422.00,104.14 L422.40,102.85 L422.80,101.08 L423.20,99.12 L423.60,97.30 L424.00,94.19 L424.40,89.78 L424.80,85.53 L425.20,81.34 L425.60,77.17 L426.00,73.18 L426.40,68.93 L426.80,65.21 L427.20,63.28 L427.60,61.33 L428.00,59.84 L428.40,59.54 L428.80,60.38 L429.20,62.22 L429.60,64.00 L430.00,66.88 L430.40,71.31 L430.80,76.32 L431.20,81.10 L431.60,86.10 L432.00,91.19 L432.40,96.35 L432.80,101.63 L433.20,105.52 L433.60,108.97 L434.00,112.26 L434.40,115.29 L434.80,118.04 L435.20,120.52 L435.60,122.74 L436.00,124.77 L436.40,126.64 L436.80,128.38 L437.20,130.02 L437.60,131.54 L438.00,132.90 L438.40,134.06 L438.80,135.00 L439.20,135.65 L439.60,135.96 L440.00,135.97 L440.40,135.77 L440.80,135.36 L441.20,134.77 L441.60,134.04 L442.00,133.17 L442.40,132.20 L442.80,131.14 L443.20,130.02 L443.60,128.85 L444.00,127.65 L444.40,126.45 L444.80,125.26 L445.20,124.11 L445.60,123.02 L446.00,122.00 L446.40,121.08 L446.80,120.28 L447.20,119.61 L447.60,119.10 L448.00,118.77 L448.40,118.63 L448.80,118.68 L449.20,118.90 L449.60,119.24 L450.00,119.65 L450.40,120.04 L450.80,120.34 L451.20,120.46 L451.60,120.41 L452.00,120.00 L452.40,119.25 L452.80,118.21 L453.20,116.95 L453.60,115.49 L454.00,113.88 L454.40,112.17 L454.80,110.40 L455.20,108.63 L455.60,106.92 L456.00,105.31 L456.40,103.85 L456.80,102.60 L457.20,101.56 L457.60,100.81 L458.00,100.40 L458.40,100.40 L458.80,100.81 L459.20,101.58 L459.60,102.67 L460.00,103.99 L460.40,105.54 L460.80,107.27 L461.20,109.15 L461.60,111.12 L462.00,113.15 L462.40,115.17 L462.80,117.16 L463.20,119.07 L463.60,120.84 L464.00,122.44 L464.40,123.82 L464.80,124.97 L465.20,125.82 L465.60,126.36 L466.00,126.61 L466.40,126.02 L466.80,124.49 L467.20,122.28 L467.60,119.62 L468.00,116.64 L468.40,113.53 L468.80,110.27 L469.20,106.97 L469.60,103.70 L470.00,100.50 L470.40,97.34 L470.80,94.19 L471.20,91.06 L471.60,88.00 L472.00,85.06 L472.40,82.38 L472.80,80.18 L473.20,78.12 L473.60,76.32 L474.00,74.68 L474.40,73.37 L474.80,72.72 L475.20,72.95 L475.60,73.72 L476.00,74.88 L476.40,76.28 L476.80,77.83 L477.20,79.51 L477.60,81.21 L478.00,82.84 L478.40,84.35 L478.80,85.73 L479.20,87.00 L479.60,88.18 L480.00,89.32 L480.40,90.42 L480.80,91.50 L481.20,92.57 L481.60,93.63 L482.00,94.67 L482.40,95.70 L482.80,96.73 L483.20,97.74 L483.60,98.78 L484.00,99.85 L484.40,101.00 L484.80,102.26 L485.20,103.66 L485.60,105.19 L486.00,106.83 L486.40,108.56 L486.80,110.32 L487.20,112.07 L487.60,113.75 L488.00,115.32 L488.40,116.72 L488.80,117.91 L489.20,118.88 L489.60,119.54 L490.00,119.86 L490.40,119.90 L490.80,119.74 L491.20,119.39 L491.60,118.87 L492.00,118.20 L492.40,117.40 L492.80,116.49 L493.20,115.48 L493.60,114.38 L494.00,113.20 L494.40,111.96 L494.80,110.67 L495.20,109.34 L495.60,107.99 L496.00,106.63 L496.40,105.27 L496.80,103.92 L497.20,102.60 L497.60,101.32 L498.00,100.10 L498.40,98.94 L498.80,97.86 L499.20,96.87 L499.60,95.99 L500.00,95.22 L500.40,94.59 L500.80,94.10 L501.20,93.77 L501.60,93.61 L502.00,93.64 L502.40,93.86 L502.80,94.27 L503.20,94.85 L503.60,95.58 L504.00,96.45 L504.40,97.43 L504.80,98.49 L505.20,99.61 L505.60,100.77 L506.00,101.93 L506.40,103.09 L506.80,104.21 L507.20,105.27 L507.60,106.25 L508.00,107.12 L508.40,107.85 L508.80,108.44 L509.20,108.85 L509.60,109.10 L510.00,109.18 L510.40,109.13 L510.80,108.96 L511.20,108.70 L511.60,108.37 L512.00,107.98 L512.40,107.54 L512.80,107.06 L513.20,106.56 L513.60,106.03 L514.00,105.50 L514.40,104.97 L514.80,104.46 L515.20,103.97 L515.60,103.52 L516.00,103.12 L516.40,102.77 L516.80,102.50 L517.20,102.30 L517.60,102.21 L518.00,102.25 L518.40,102.44 L518.80,102.78 L519.20,103.29 L519.60,103.95 L520.00,104.75 L520.40,105.67 L520.80,106.69 L521.20,107.80 L521.60,108.98 L522.00,110.20 L522.40,111.46 L522.80,112.72 L523.20,113.98 L523.60,115.22 L524.00,116.41 L524.40,117.54 L524.80,118.58 L525.20,119.53 L525.60,120.36 L526.00,121.06 L526.40,121.61 L526.80,121.99 L527.20,122.19 L527.60,122.23 L528.00,122.11 L528.40,121.85 L528.80,121.47 L529.20,120.99 L529.60,120.43 L530.00,119.82 L530.40,119.17 L530.80,118.50 L531.20,117.83 L531.60,117.16 L532.00,116.50 L532.40,115.83 L532.80,115.15 L533.20,114.45 L533.60,113.73 L534.00,113.00 L534.40,112.27 L534.80,111.55 L535.20,110.86 L535.60,110.19 L536.00,109.55 L536.40,108.94 L536.80,108.36 L537.20,107.80 L537.60,107.26 L538.00,106.74 L538.40,106.25 L538.80,105.78 L539.20,105.35 L539.60,104.96 L540.00,104.59 L540.40,104.24 L540.80,103.89 L541.20,103.50 L541.60,103.06 L542.00,102.52 L542.40,101.86 L542.80,101.04 L543.20,100.05 L543.60,98.91 L544.00,97.65 L544.40,96.29 L544.80,94.83 L545.20,93.29 L545.60,91.67 L546.00,90.02 L546.40,88.42 L546.80,86.90 L547.20,85.49 L547.60,84.19 L548.00,83.00 L548.40,81.96 L548.80,81.11 L549.20,80.48 L549.60,80.25 L550.00,80.42 L550.40,80.85 L550.80,81.47 L551.20,82.25 L551.60,83.13 L552.00,84.08 L552.40,85.11 L552.80,86.21 L553.20,87.38 L553.60,88.63 L554.00,89.92 L554.40,91.24 L554.80,92.58 L555.20,93.94 L555.60,95.32 L556.00,96.71 L556.40,98.12 L556.80,99.54 L557.20,100.97 L557.60,102.42 L558.00,103.89 L558.40,105.35 L558.80,106.77 L559.20,108.09 L559.60,109.24 L560.00,110.21 L560.40,111.02 L560.80,111.71 L561.20,112.32 L561.60,112.89 L562.00,113.41 L562.40,113.89 L562.80,114.33 L563.20,114.72 L563.60,115.07 L564.00,115.35 L564.40,115.59 L564.80,115.75 L565.20,115.86 L565.60,115.89 L566.00,115.86 L566.40,115.75 L566.80,115.58 L567.20,115.35 L567.60,115.06 L568.00,114.72 L568.40,114.33 L568.80,113.89 L569.20,113.42 L569.60,112.91 L570.00,112.36 L570.40,111.79 L570.80,111.20 L571.20,110.59 L571.60,109.97 L572.00,109.34 L572.40,108.70 L572.80,108.06 L573.20,107.43 L573.60,106.81 L574.00,106.20 L574.40,105.61 L574.80,105.04 L575.20,104.49 L575.60,103.98 L576.00,103.51 L576.40,103.07 L576.80,102.68 L577.20,102.34 L577.60,102.05 L578.00,101.82 L578.40,101.65 L578.80,101.55 L579.20,101.53 L579.60,101.59 L580.00,101.73 L580.40,101.95 L580.80,102.24 L581.20,102.60 L581.60,103.01 L582.00,103.46 L582.40,103.96 L582.80,104.47 L583.20,105.00 L583.60,105.53 L584.00,106.06 L584.40,106.57 L584.80,107.05 L585.20,107.50 L585.60,107.90 L586.00,108.24 L586.40,108.52 L586.80,108.72 L587.20,108.83 L587.60,108.86 L588.00,108.81 L588.40,108.68 L588.80,108.49 L589.20,108.23 L589.60,107.92 L590.00,107.56 L590.40,107.18 L590.80,106.76 L591.20,106.33 L591.60,105.90 L592.00,105.46 L592.40,105.03 L592.80,104.62 L593.20,104.24 L593.60,103.90 L594.00,103.60 L594.40,103.36 L594.80,103.17 L595.20,103.05 L595.60,103.00 L596.00,103.00 L596.40,103.06 L596.80,103.16 L597.20,103.30 L597.60,103.48 L598.00,103.68 L598.40,103.92 L598.80,104.18 L599.20,104.46 L599.60,104.76 L600.00,105.08 L600.40,105.41 L600.80,105.74 L601.20,106.09 L601.60,106.43 L602.00,106.77 L602.40,107.11 L602.80,107.44 L603.20,107.76 L603.60,108.06 L604.00,108.35 L604.40,108.62 L604.80,108.86 L605.20,109.07 L605.60,109.26 L606.00,109.41 L606.40,109.52 L606.80,109.60 L607.20,109.63 L607.60,109.63 L608.00,109.58 L608.40,109.50 L608.80,109.38 L609.20,109.23 L609.60,109.04 L610.00,108.83 L610.40,108.58 L610.80,108.31 L611.20,108.01 L611.60,107.68 L612.00,107.33 L612.40,106.96 L612.80,106.57 L613.20,106.16 L613.60,105.75 L614.00,105.37 L614.40,105.05 L614.60,104.82" fill="none" stroke="#229a22" stroke-width="1.00" stroke-opacity="1.00" stroke-linejoin="round" stroke-linecap="round"/>
<path d="M368.00,145.42 L368.40,145.62 L368.80,145.87 L369.20,146.15 L369.60,146.42 L370.00,146.68 L370.40,146.93 L370.80,147.15 L371.20,147.37 L371.60,147.56 L372.00,147.73 L372.40,147.82 L372.80,147.77 L373.20,147.65 L373.60,147.26 L374.00,146.03 L374.40,144.39 L374.80,142.53 L375.20,140.54 L375.60,138.09 L376.00,135.10 L376.40,131.53 L376.80,126.96 L377.20,121.74 L377.60,116.15 L378.00,110.38 L378.40,103.25 L378.80,95.91 L379.20,88.48 L379.60,80.98 L380.00,73.54 L380.40,66.04 L380.80,58.73 L381.20,52.54 L381.60,47.39 L382.00,43.45 L382.40,40.84 L382.80,39.72 L383.20,40.17 L383.60,41.90 L384.00,45.22 L384.40,49.83 L384.80,55.53 L385.20,62.36 L385.60,69.77 L386.00,77.25 L386.40,84.73 L386.80,92.17 L387.20,99.64 L387.60,107.29 L388.00,113.48 L388.40,118.20 L388.80,122.11 L389.20,125.76 L389.60,129.16 L390.00,132.35 L390.40,135.29 L390.80,137.92 L391.20,140.15 L391.60,142.07 L392.00,143.84 L392.40,145.42 L392.80,146.82 L393.20,148.01 L393.60,148.98 L394.00,149.62 L394.40,149.89 L394.80,149.99 L395.20,149.90 L395.60,149.68 L396.00,149.38 L396.40,149.03 L396.80,148.65 L397.20,148.26 L397.60,147.88 L398.00,147.54 L398.40,147.25 L398.80,147.03 L399.20,146.92 L399.60,146.90 L400.00,146.99 L400.40,147.16 L400.80,147.35 L401.20,147.53 L401.60,147.65 L402.00,147.70 L402.40,147.70 L402.80,147.64 L403.20,147.52 L403.60,147.31 L404.00,146.95 L404.40,146.41 L404.80,145.54 L405.20,144.47 L405.60,143.18 L406.00,141.68 L406.40,139.99 L406.80,138.02 L407.20,135.72 L407.60,133.08 L408.00,129.89 L408.40,126.06 L408.80,121.68 L409.20,116.88 L409.60,111.75 L410.00,105.19 L410.40,97.14 L410.80,89.25 L411.20,81.39 L411.60,73.50 L412.00,65.58 L412.40,57.71 L412.80,50.58 L413.20,44.57 L413.60,39.70 L414.00,36.20 L414.40,34.37 L414.80,33.90 L415.20,35.08 L415.60,37.84 L416.00,41.99 L416.40,47.42 L416.80,53.92 L417.20,61.64 L417.60,69.43 L418.00,76.87 L418.40,86.16 L418.80,92.33 L419.20,94.21 L419.60,95.15 L420.00,97.25 L420.40,99.44 L420.80,101.49 L421.20,104.41 L421.60,105.76 L422.00,105.50 L422.40,104.07 L422.80,101.77 L423.20,99.38 L423.60,97.00 L424.00,93.79 L424.40,89.71 L424.80,85.68 L425.20,81.60 L425.60,77.54 L426.00,73.65 L426.40,69.50 L426.80,65.82 L427.20,63.94 L427.60,62.02 L428.00,60.54 L428.40,60.24 L428.80,61.07 L429.20,62.90 L429.60,64.63 L430.00,67.47 L430.40,71.85 L430.80,76.76 L431.20,81.46 L431.60,86.38 L432.00,91.39 L432.40,96.45 L432.80,101.62 L433.20,105.50 L433.60,108.95 L434.00,112.24 L434.40,115.27 L434.80,118.02 L435.20,120.51 L435.60,122.74 L436.00,124.77 L436.40,126.63 L436.80,128.38 L437.20,130.02 L437.60,131.54 L438.00,132.90 L438.40,134.06 L438.80,135.00 L439.20,135.65 L439.60,135.96 L440.00,135.97 L440.40,135.77 L440.80,135.36 L441.20,134.77 L441.60,134.04 L442.00,133.17 L442.40,132.20 L442.80,131.14 L443.20,130.02 L443.60,128.85 L444.00,127.65 L444.40,126.45 L444.80,125.26 L445.20,124.11 L445.60,123.02 L446.00,122.00 L446.40,121.08 L446.80,120.28 L447.20,119.61 L447.60,119.10 L448.00,118.77 L448.40,118.63 L448.80,118.68 L449.20,118.90 L449.60,119.24 L450.00,119.65 L450.40,120.04 L450.80,120.34 L451.20,120.46 L451.60,120.41 L452.00,120.00 L452.40,119.25 L452.80,118.21 L453.20,116.95 L453.60,115.49 L454.00,113.88 L454.40,112.17 L454.80,110.40 L455.20,108.63 L455.60,106.92 L456.00,105.31 L456.40,103.85 L456.80,102.60 L457.20,101.56 L457.60,100.81 L458.00,100.40 L458.40,100.40 L458.80,100.81 L459.20,101.58 L459.60,102.67 L460.00,103.99 L460.40,105.54 L460.80,107.27 L461.20,109.15 L461.60,111.12 L462.00,113.15 L462.40,115.17 L462.80,117.16 L463.20,119.07 L463.60,120.84 L464.00,122.44 L464.40,123.82 L464.80,124.97 L465.20,125.82 L465.60,126.35 L466.00,126.55 L466.40,125.99 L466.80,124.62 L467.20,122.65 L467.60,120.27 L468.00,117.61 L468.40,114.80 L468.80,111.86 L469.20,108.87 L469.60,105.92 L470.00,103.03 L470.40,100.17 L470.80,97.33 L471.20,94.51 L471.60,91.76 L472.00,89.13 L472.40,86.73 L472.80,84.71 L473.20,82.85 L473.60,81.25 L474.00,79.81 L474.40,78.66 L474.80,78.07 L475.20,78.27 L475.60,79.01 L476.00,80.12 L476.40,81.42 L476.80,82.87 L477.20,84.40 L477.60,85.89 L478.00,87.27 L478.40,88.46 L478.80,89.45 L479.20,90.28 L479.60,90.98 L480.00,91.61 L480.40,92.20 L480.80,92.79 L481.20,93.41 L481.60,94.09 L482.00,94.84 L482.40,95.68 L482.80,96.59 L483.20,97.58 L483.60,98.64 L484.00,99.76 L484.40,100.95 L484.80,102.24 L485.20,103.65 L485.60,105.18 L486.00,106.83 L486.40,108.56 L486.80,110.32 L487.20,112.07 L487.60,113.75 L488.00,115.32 L488.40,116.72 L488.80,117.91 L489.20,118.88 L489.60,119.54 L490.00,119.86 L490.40,119.90 L490.80,119.74 L491.20,119.39 L491.60,118.87 L492.00,118.20 L492.40,117.40 L492.80,116.49 L493.20,115.48 L493.60,114.38 L494.00,113.20 L494.40,111.96 L494.80,110.67 L495.20,109.34 L495.60,107.99 L496.00,106.63 L496.40,105.27 L496.80,103.92 L497.20,102.60 L497.60,101.32 L498.00,100.10 L498.40,98.94 L498.80,97.86 L499.20,96.87 L499.60,95.99 L500.00,95.22 L500.40,94.59 L500.80,94.10 L501.20,93.77 L501.60,93.61 L502.00,93.64 L502.40,93.86 L502.80,94.27 L503.20,94.85 L503.60,95.58 L504.00,96.45 L504.40,97.43 L504.80,98.49 L505.20,99.61 L505.60,100.77 L506.00,101.93 L506.40,103.09 L506.80,104.21 L507.20,105.27 L507.60,106.25 L508.00,107.12 L508.40,107.85 L508.80,108.44 L509.20,108.85 L509.60,109.10 L510.00,109.18 L510.40,109.13 L510.80,108.96 L511.20,108.70 L511.60,108.37 L512.00,107.98 L512.40,107.54 L512.80,107.06 L513.20,106.56 L513.60,106.03 L514.00,105.50 L514.40,104.97 L514.80,104.46 L515.20,103.97 L515.60,103.52 L516.00,103.12 L516.40,102.77 L516.80,102.50 L517.20,102.30 L517.60,102.21 L518.00,102.25 L518.40,102.44 L518.80,102.78 L519.20,103.29 L519.60,103.95 L520.00,104.75 L520.40,105.67 L520.80,106.69 L521.20,107.80 L521.60,108.98 L522.00,110.20 L522.40,111.46 L522.80,112.72 L523.20,113.98 L523.60,115.22 L524.00,116.41 L524.40,117.54 L524.80,118.58 L525.20,119.53 L525.60,120.36 L526.00,121.06 L526.40,121.61 L526.80,121.99 L527.20,122.19 L527.60,122.23 L528.00,122.11 L528.40,121.85 L528.80,121.47 L529.20,120.99 L529.60,120.43 L530.00,119.82 L530.40,119.17 L530.80,118.50 L531.20,117.83 L531.60,117.16 L532.00,116.50 L532.40,115.83 L532.80,115.15 L533.20,114.45 L533.60,113.73 L534.00,113.00 L534.40,112.27 L534.80,111.55 L535.20,110.86 L535.60,110.19 L536.00,109.55 L536.40,108.94 L536.80,108.36 L537.20,107.80 L537.60,107.26 L538.00,106.74 L538.40,106.25 L538.80,105.78 L539.20,105.35 L539.60,104.96 L540.00,104.59 L540.40,104.24 L540.80,103.89 L541.20,103.50 L541.60,103.06 L542.00,102.52 L542.40,101.86 L542.80,101.04 L543.20,100.05 L543.60,98.91 L544.00,97.65 L544.40,96.29 L544.80,94.83 L545.20,93.29 L545.60,91.67 L546.00,90.02 L546.40,88.42 L546.80,86.90 L547.20,85.49 L547.60,84.19 L548.00,83.00 L548.40,81.96 L548.80,81.11 L549.20,80.48 L549.60,80.25 L550.00,80.42 L550.40,80.85 L550.80,81.47 L551.20,82.25 L551.60,83.13 L552.00,84.08 L552.40,85.11 L552.80,86.21 L553.20,87.38 L553.60,88.63 L554.00,89.92 L554.40,91.24 L554.80,92.58 L555.20,93.94 L555.60,95.32 L556.00,96.71 L556.40,98.12 L556.80,99.54 L557.20,100.97 L557.60,102.42 L558.00,103.89 L558.40,105.35 L558.80,106.77 L559.20,108.09 L559.60,109.24 L560.00,110.21 L560.40,111.02 L560.80,111.71 L561.20,112.32 L561.60,112.89 L562.00,113.41 L562.40,113.89 L562.80,114.33 L563.20,114.72 L563.60,115.07 L564.00,115.35 L564.40,115.59 L564.80,115.75 L565.20,115.86 L565.60,115.89 L566.00,115.86 L566.40,115.75 L566.80,115.58 L567.20,115.35 L567.60,115.06 L568.00,114.72 L568.40,114.33 L568.80,113.89 L569.20,113.42 L569.60,112.91 L570.00,112.36 L570.40,111.79 L570.80,111.20 L571.20,110.59 L571.60,109.97 L572.00,109.34 L572.40,108.70 L572.80,108.06 L573.20,107.43 L573.60,106.81 L574.00,106.20 L574.40,105.61 L574.80,105.04 L575.20,104.49 L575.60,103.98 L576.00,103.51 L576.40,103.07 L576.80,102.68 L577.20,102.34 L577.60,102.05 L578.00,101.82 L578.40,101.65 L578.80,101.55 L579.20,101.52 L579.60,101.57 L580.00,101.69 L580.40,101.89 L580.80,102.15 L581.20,102.47 L581.60,102.84 L582.00,103.25 L582.40,103.69 L582.80,104.15 L583.20,104.62 L583.60,105.10 L584.00,105.57 L584.40,106.03 L584.80,106.46 L585.20,106.86 L585.60,107.22 L586.00,107.52 L586.40,107.77 L586.80,107.95 L587.20,108.05 L587.60,108.09 L588.00,108.06 L588.40,107.96 L588.80,107.81 L589.20,107.62 L589.60,107.38 L590.00,107.12 L590.40,106.82 L590.80,106.51 L591.20,106.19 L591.60,105.86 L592.00,105.53 L592.40,105.21 L592.80,104.90 L593.20,104.61 L593.60,104.35 L594.00,104.13 L594.40,103.94 L594.80,103.81 L595.20,103.72 L595.60,103.67 L596.00,103.68 L596.40,103.72 L596.80,103.81 L597.20,103.92 L597.60,104.06 L598.00,104.22 L598.40,104.41 L598.80,104.62 L599.20,104.84 L599.60,105.08 L600.00,105.33 L600.40,105.59 L600.80,105.86 L601.20,106.13 L601.60,106.40 L602.00,106.67 L602.40,106.94 L602.80,107.20 L603.20,107.46 L603.60,107.70 L604.00,107.93 L604.40,108.14 L604.80,108.33 L605.20,108.50 L605.60,108.65 L606.00,108.77 L606.40,108.86 L606.80,108.92 L607.20,108.95 L607.60,108.94 L608.00,108.91 L608.40,108.84 L608.80,108.75 L609.20,108.63 L609.60,108.49 L610.00,108.32 L610.40,108.12 L610.80,107.91 L611.20,107.67 L611.60,107.42 L612.00,107.14 L612.40,106.85 L612.80,106.54 L613.20,106.23 L613.60,105.91 L614.00,105.61 L614.40,105.36 L614.60,105.18" fill="none" stroke="#b8860b" stroke-width="1.00" stroke-opacity="1.00" stroke-linejoin="round" stroke-linecap="round"/>
<path d="M368.00,140.10 L368.40,140.10 L368.80,140.10 L369.20,140.10 L369.60,140.10 L370.00,140.10 L370.40,140.10 L370.80,140.10 L371.20,140.10 L371.60,140.10 L372.00,140.08 L372.40,140.03 L372.80,139.87 L373.20,139.65 L373.60,139.27 L374.00,137.97 L374.40,136.18 L374.80,134.31 L375.20,132.30 L375.60,130.14 L376.00,127.86 L376.40,125.39 L376.80,122.75 L377.20,119.90 L377.60,116.64 L378.00,112.33 L378.40,105.33 L378.80,98.13 L379.20,91.10 L379.60,84.00 L380.00,76.96 L380.40,69.87 L380.80,62.98 L381.20,57.02 L381.60,52.14 L382.00,48.40 L382.40,45.92 L382.80,44.86 L383.20,45.28 L383.60,46.93 L384.00,50.08 L384.40,54.45 L384.80,59.86 L385.20,66.40 L385.60,73.40 L386.00,80.47 L386.40,87.56 L386.80,94.60 L387.20,101.70 L387.60,109.07 L388.00,114.64 L388.40,118.43 L388.80,121.75 L389.20,124.84 L389.60,127.51 L390.00,129.71 L390.40,131.41 L390.80,132.65 L391.20,133.78 L391.60,134.71 L392.00,135.51 L392.40,136.20 L392.80,136.82 L393.20,137.38 L393.60,137.89 L394.00,138.37 L394.40,138.83 L394.80,139.28 L395.20,139.74 L395.60,140.19 L396.00,140.65 L396.40,141.11 L396.80,141.56 L397.20,142.00 L397.60,142.43 L398.00,142.82 L398.40,143.19 L398.80,143.52 L399.20,143.81 L399.60,144.04 L400.00,144.22 L400.40,144.32 L400.80,144.35 L401.20,144.27 L401.60,144.09 L402.00,143.80 L402.40,143.39 L402.80,142.89 L403.20,142.30 L403.60,141.61 L404.00,140.82 L404.40,139.88 L404.80,138.80 L405.20,137.38 L405.60,135.71 L406.00,133.89 L406.40,131.97 L406.80,130.04 L407.20,128.12 L407.60,126.21 L408.00,124.23 L408.40,122.11 L408.80,119.92 L409.20,117.62 L409.60,114.35 L410.00,108.98 L410.40,101.63 L410.80,94.50 L411.20,87.50 L411.60,80.44 L412.00,73.40 L412.40,66.43 L412.80,59.91 L413.20,54.53 L413.60,50.17 L414.00,47.03 L414.40,45.40 L414.80,44.97 L415.20,46.03 L415.60,48.50 L416.00,52.22 L416.40,57.08 L416.80,63.02 L417.20,69.90 L417.60,76.81 L418.00,83.42 L418.40,91.78 L418.80,97.34 L419.20,99.46 L419.60,100.81 L420.00,100.89 L420.40,101.07 L420.80,101.26 L421.20,101.28 L421.60,101.15 L422.00,100.86 L422.40,100.34 L422.80,99.50 L423.20,98.44 L423.60,97.59 L424.00,95.32 L424.40,91.58 L424.80,87.97 L425.20,84.47 L425.60,80.97 L426.00,77.62 L426.40,74.19 L426.80,71.11 L427.20,69.43 L427.60,67.83 L428.00,66.49 L428.40,66.13 L428.80,67.07 L429.20,68.57 L429.60,70.07 L430.00,72.32 L430.40,76.16 L430.80,80.27 L431.20,84.32 L431.60,88.61 L432.00,93.01 L432.40,97.42 L432.80,101.91 L433.20,105.34 L433.60,108.66 L434.00,111.86 L434.40,114.87 L434.80,117.71 L435.20,120.37 L435.60,122.82 L436.00,125.04 L436.40,126.98 L436.80,128.59 L437.20,129.82 L437.60,130.65 L438.00,131.27 L438.40,131.70 L438.80,131.94 L439.20,132.01 L439.60,131.92 L440.00,131.68 L440.40,131.31 L440.80,130.86 L441.20,130.35 L441.60,129.80 L442.00,129.20 L442.40,128.53 L442.80,127.81 L443.20,127.02 L443.60,126.19 L444.00,125.33 L444.40,124.45 L444.80,123.57 L445.20,122.72 L445.60,121.90 L446.00,121.13 L446.40,120.43 L446.80,119.82 L447.20,119.31 L447.60,118.92 L448.00,118.68 L448.40,118.59 L448.80,118.66 L449.20,118.89 L449.60,119.24 L450.00,119.65 L450.40,120.04 L450.80,120.34 L451.20,120.46 L451.60,120.41 L452.00,120.00 L452.40,119.25 L452.80,118.21 L453.20,116.95 L453.60,115.49 L454.00,113.88 L454.40,112.17 L454.80,110.40 L455.20,108.63 L455.60,106.92 L456.00,105.31 L456.40,103.85 L456.80,102.60 L457.20,101.56 L457.60,100.81 L458.00,100.40 L458.40,100.39 L458.80,100.72 L459.20,101.35 L459.60,102.23 L460.00,103.33 L460.40,104.62 L460.80,106.07 L461.20,107.64 L461.60,109.29 L462.00,110.99 L462.40,112.69 L462.80,114.35 L463.20,115.95 L463.60,117.43 L464.00,118.77 L464.40,119.92 L464.80,120.85 L465.20,121.54 L465.60,121.95 L466.00,122.04 L466.40,121.61 L466.80,120.65 L467.20,119.26 L467.60,117.54 L468.00,115.61 L468.40,113.49 L468.80,111.24 L469.20,108.93 L469.60,106.60 L470.00,104.25 L470.40,101.86 L470.80,99.40 L471.20,96.89 L471.60,94.40 L472.00,92.03 L472.40,89.82 L472.80,87.95 L473.20,86.27 L473.60,84.82 L474.00,83.54 L474.40,82.53 L474.80,82.01 L475.20,82.18 L475.60,82.91 L476.00,83.98 L476.40,85.20 L476.80,86.56 L477.20,87.95 L477.60,89.28 L478.00,90.45 L478.40,91.38 L478.80,92.03 L479.20,92.53 L479.60,92.90 L480.00,93.20 L480.40,93.46 L480.80,93.74 L481.20,94.05 L481.60,94.45 L482.00,94.96 L482.40,95.62 L482.80,96.44 L483.20,97.40 L483.60,98.48 L484.00,99.65 L484.40,100.89 L484.80,102.21 L485.20,103.64 L485.60,105.18 L486.00,106.83 L486.40,108.56 L486.80,110.32 L487.20,112.07 L487.60,113.75 L488.00,115.32 L488.40,116.72 L488.80,117.91 L489.20,118.88 L489.60,119.54 L490.00,119.86 L490.40,119.90 L490.80,119.74 L491.20,119.39 L491.60,118.87 L492.00,118.20 L492.40,117.40 L492.80,116.49 L493.20,115.48 L493.60,114.38 L494.00,113.20 L494.40,111.96 L494.80,110.67 L495.20,109.34 L495.60,107.99 L496.00,106.63 L496.40,105.27 L496.80,103.92 L497.20,102.60 L497.60,101.32 L498.00,100.10 L498.40,98.94 L498.80,97.86 L499.20,96.87 L499.60,95.99 L500.00,95.22 L500.40,94.59 L500.80,94.10 L501.20,93.76 L501.60,93.59 L502.00,93.59 L502.40,93.76 L502.80,94.09 L503.20,94.57 L503.60,95.17 L504.00,95.88 L504.40,96.68 L504.80,97.55 L505.20,98.47 L505.60,99.42 L506.00,100.38 L506.40,101.33 L506.80,102.25 L507.20,103.12 L507.60,103.92 L508.00,104.63 L508.40,105.23 L508.80,105.71 L509.20,106.05 L509.60,106.24 L510.00,106.30 L510.40,106.24 L510.80,106.08 L511.20,105.84 L511.60,105.54 L512.00,105.20 L512.40,104.83 L512.80,104.46 L513.20,104.08 L513.60,103.72 L514.00,103.40 L514.40,103.13 L514.80,102.93 L515.20,102.80 L515.60,102.76 L516.00,102.83 L516.40,103.00 L516.80,103.27 L517.20,103.64 L517.60,104.09 L518.00,104.63 L518.40,105.24 L518.80,105.92 L519.20,106.66 L519.60,107.44 L520.00,108.26 L520.40,109.11 L520.80,109.99 L521.20,110.88 L521.60,111.77 L522.00,112.67 L522.40,113.55 L522.80,114.42 L523.20,115.26 L523.60,116.06 L524.00,116.82 L524.40,117.52 L524.80,118.17 L525.20,118.75 L525.60,119.25 L526.00,119.66 L526.40,119.98 L526.80,120.20 L527.20,120.32 L527.60,120.34 L528.00,120.26 L528.40,120.10 L528.80,119.86 L529.20,119.56 L529.60,119.21 L530.00,118.81 L530.40,118.38 L530.80,117.92 L531.20,117.45 L531.60,116.95 L532.00,116.43 L532.40,115.88 L532.80,115.27 L533.20,114.60 L533.60,113.89 L534.00,113.15 L534.40,112.39 L534.80,111.64 L535.20,110.91 L535.60,110.22 L536.00,109.56 L536.40,108.95 L536.80,108.36 L537.20,107.80 L537.60,107.26 L538.00,106.74 L538.40,106.25 L538.80,105.78 L539.20,105.35 L539.60,104.96 L540.00,104.59 L540.40,104.24 L540.80,103.89 L541.20,103.50 L541.60,103.06 L542.00,102.52 L542.40,101.86 L542.80,101.04 L543.20,100.05 L543.60,98.91 L544.00,97.65 L544.40,96.29 L544.80,94.83 L545.20,93.29 L545.60,91.67 L546.00,90.02 L546.40,88.42 L546.80,86.90 L547.20,85.49 L547.60,84.19 L548.00,83.00 L548.40,81.96 L548.80,81.11 L549.20,80.48 L549.60,80.25 L550.00,80.42 L550.40,80.85 L550.80,81.47 L551.20,82.25 L551.60,83.13 L552.00,84.08 L552.40,85.11 L552.80,86.21 L553.20,87.38 L553.60,88.63 L554.00,89.92 L554.40,91.24 L554.80,92.57 L555.20,93.92 L555.60,95.27 L556.00,96.65 L556.40,98.06 L556.80,99.51 L557.20,101.00 L557.60,102.57 L558.00,104.22 L558.40,105.91 L558.80,107.57 L559.20,109.12 L559.60,110.52 L560.00,111.60 L560.40,112.49 L560.80,113.22 L561.20,113.86 L561.60,114.43 L562.00,114.95 L562.40,115.44 L562.80,115.87 L563.20,116.26 L563.60,116.60 L564.00,116.88 L564.40,117.10 L564.80,117.26 L565.20,117.36 L565.60,117.39 L566.00,117.34 L566.40,117.23 L566.80,117.04 L567.20,116.79 L567.60,116.47 L568.00,116.09 L568.40,115.66 L568.80,115.18 L569.20,114.65 L569.60,114.09 L570.00,113.49 L570.40,112.86 L570.80,112.21 L571.20,111.54 L571.60,110.85 L572.00,110.15 L572.40,109.45 L572.80,108.75 L573.20,108.05 L573.60,107.36 L574.00,106.69 L574.40,106.04 L574.80,105.41 L575.20,104.81 L575.60,104.25 L576.00,103.72 L576.40,103.24 L576.80,102.81 L577.20,102.43 L577.60,102.11 L578.00,101.86 L578.40,101.67 L578.80,101.56 L579.20,101.52 L579.60,101.55 L580.00,101.66 L580.40,101.83 L580.80,102.06 L581.20,102.34 L581.60,102.67 L582.00,103.03 L582.40,103.42 L582.80,103.82 L583.20,104.24 L583.60,104.66 L584.00,105.08 L584.40,105.48 L584.80,105.86 L585.20,106.22 L585.60,106.53 L586.00,106.80 L586.40,107.02 L586.80,107.18 L587.20,107.28 L587.60,107.31 L588.00,107.30 L588.40,107.23 L588.80,107.13 L589.20,106.99 L589.60,106.83 L590.00,106.65 L590.40,106.44 L590.80,106.23 L591.20,106.00 L591.60,105.77 L592.00,105.54 L592.40,105.32 L592.80,105.10 L593.20,104.91 L593.60,104.73 L594.00,104.57 L594.40,104.44 L594.80,104.34 L595.20,104.28 L595.60,104.25 L596.00,104.26 L596.40,104.29 L596.80,104.36 L597.20,104.44 L597.60,104.55 L598.00,104.67 L598.40,104.82 L598.80,104.97 L599.20,105.14 L599.60,105.32 L600.00,105.51 L600.40,105.71 L600.80,105.91 L601.20,106.12 L601.60,106.33 L602.00,106.53 L602.40,106.74 L602.80,106.94 L603.20,107.13 L603.60,107.31 L604.00,107.49 L604.40,107.65 L604.80,107.79 L605.20,107.92 L605.60,108.03 L606.00,108.13 L606.40,108.19 L606.80,108.24 L607.20,108.26 L607.60,108.26 L608.00,108.24 L608.40,108.20 L608.80,108.14 L609.20,108.06 L609.60,107.96 L610.00,107.85 L610.40,107.72 L610.80,107.58 L611.20,107.42 L611.60,107.25 L612.00,107.06 L612.40,106.86 L612.80,106.66 L613.20,106.44 L613.60,106.22 L614.00,106.02 L614.40,105.84 L614.60,105.72" fill="none" stroke="#f7ad6a" stroke-width="1.00" stroke-opacity="1.00" stroke-linejoin="round" stroke-linecap="round"/>
<rect x="555.4" y="123.1" width="69.9" height="33.2" rx="0.8" fill="#fff" fill-opacity="0.8" stroke="#e0e0e0" stroke-width="0.8"/>
<line x1="558.00" y1="129.30" x2="573.10" y2="129.30" stroke="#229a22" stroke-width="1.00"/>
<line x1="558.00" y1="139.40" x2="573.10" y2="139.40" stroke="#b8860b" stroke-width="1.00"/>
<line x1="558.00" y1="149.40" x2="573.10" y2="149.40" stroke="#f7ad6a" stroke-width="1.00"/>
<text x="578.70" y="132.00" font-size="7.60" text-anchor="start" fill="#1a1a1a" font-weight="normal" font-style="normal" textLength="11.00" lengthAdjust="spacingAndGlyphs" stroke="#1a1a1a" stroke-width="0.167">rod</text>
<text x="578.70" y="142.10" font-size="7.60" text-anchor="start" fill="#1a1a1a" font-weight="normal" font-style="normal" textLength="43.30" lengthAdjust="spacingAndGlyphs" stroke="#1a1a1a" stroke-width="0.167">supersphere</text>
<text x="578.70" y="152.10" font-size="7.60" text-anchor="start" fill="#1a1a1a" font-weight="normal" font-style="normal" textLength="17.00" lengthAdjust="spacingAndGlyphs" stroke="#1a1a1a" stroke-width="0.167">plate</text>
<line x1="571.50" y1="11.50" x2="571.50" y2="76.60" stroke="#444" stroke-width="1.00"/>
<line x1="571.00" y1="76.10" x2="617.30" y2="76.10" stroke="#444" stroke-width="1.00"/>
<line x1="577.50" y1="76.10" x2="577.50" y2="78.60" stroke="#555" stroke-width="0.90"/>
<text x="577.30" y="86.61" font-size="7.90" text-anchor="middle" fill="#1a1a1a" font-weight="normal" font-style="normal" stroke="#1a1a1a" stroke-width="0.174">2.9</text>
<line x1="593.50" y1="76.10" x2="593.50" y2="78.60" stroke="#555" stroke-width="0.90"/>
<text x="593.30" y="86.61" font-size="7.90" text-anchor="middle" fill="#1a1a1a" font-weight="normal" font-style="normal" stroke="#1a1a1a" stroke-width="0.174">3.0</text>
<line x1="609.50" y1="76.10" x2="609.50" y2="78.60" stroke="#555" stroke-width="0.90"/>
<text x="609.30" y="86.61" font-size="7.90" text-anchor="middle" fill="#1a1a1a" font-weight="normal" font-style="normal" stroke="#1a1a1a" stroke-width="0.174">3.1</text>
<line x1="569.00" y1="59.50" x2="571.50" y2="59.50" stroke="#555" stroke-width="0.90"/>
<text x="566.30" y="62.16" font-size="7.90" text-anchor="end" fill="#1a1a1a" font-weight="normal" font-style="normal" stroke="#1a1a1a" stroke-width="0.174">2.1</text>
<line x1="569.00" y1="39.50" x2="571.50" y2="39.50" stroke="#555" stroke-width="0.90"/>
<text x="566.30" y="42.16" font-size="7.90" text-anchor="end" fill="#1a1a1a" font-weight="normal" font-style="normal" stroke="#1a1a1a" stroke-width="0.174">2.2</text>
<line x1="569.00" y1="19.50" x2="571.50" y2="19.50" stroke="#555" stroke-width="0.90"/>
<text x="566.30" y="22.16" font-size="7.90" text-anchor="end" fill="#1a1a1a" font-weight="normal" font-style="normal" stroke="#1a1a1a" stroke-width="0.174">2.3</text>
<path d="M587.40,32.80 L587.88,31.04 L588.36,29.38 L588.84,27.80 L589.32,26.32 L589.80,24.92 L590.28,23.62 L590.76,22.41 L591.24,21.28 L591.72,20.25 L592.20,19.30 L592.68,18.45 L593.16,17.68 L593.64,17.00 L594.12,16.42 L594.60,15.93 L595.08,15.52 L595.56,15.21 L596.04,14.98 L596.52,14.85 L597.00,14.80 L597.53,14.85 L598.07,14.99 L598.61,15.23 L599.14,15.56 L599.67,15.99 L600.21,16.51 L600.75,17.13 L601.28,17.84 L601.82,18.65 L602.35,19.55 L602.88,20.55 L603.42,21.64 L603.96,22.83 L604.49,24.11 L605.03,25.49 L605.56,26.96 L606.10,28.53 L606.63,30.19 L607.17,31.95 L607.70,33.80" fill="none" stroke="#229a22" stroke-width="1.00" stroke-linejoin="round"/>
<path d="M586.10,50.70 L586.55,49.51 L587.00,48.38 L587.45,47.31 L587.90,46.31 L588.35,45.36 L588.80,44.48 L589.25,43.65 L589.70,42.89 L590.15,42.19 L590.60,41.55 L591.05,40.97 L591.50,40.45 L591.95,39.99 L592.40,39.60 L592.85,39.26 L593.30,38.99 L593.75,38.77 L594.20,38.62 L594.65,38.53 L595.10,38.50 L595.63,38.53 L596.17,38.63 L596.71,38.79 L597.24,39.02 L597.77,39.31 L598.31,39.67 L598.85,40.09 L599.38,40.58 L599.91,41.13 L600.45,41.75 L600.99,42.43 L601.52,43.18 L602.05,43.99 L602.59,44.87 L603.12,45.81 L603.66,46.82 L604.19,47.89 L604.73,49.03 L605.26,50.23 L605.80,51.50" fill="none" stroke="#b8860b" stroke-width="1.00" stroke-linejoin="round"/>
<path d="M576.30,73.20 L576.80,71.85 L577.31,70.58 L577.81,69.37 L578.32,68.23 L578.82,67.16 L579.33,66.16 L579.83,65.23 L580.34,64.37 L580.84,63.57 L581.35,62.85 L581.86,62.19 L582.36,61.61 L582.87,61.09 L583.37,60.64 L583.88,60.26 L584.38,59.95 L584.88,59.71 L585.39,59.54 L585.89,59.43 L586.40,59.40 L586.91,59.43 L587.42,59.54 L587.93,59.71 L588.44,59.95 L588.95,60.26 L589.46,60.64 L589.97,61.09 L590.48,61.61 L590.99,62.19 L591.50,62.85 L592.01,63.57 L592.52,64.37 L593.03,65.23 L593.54,66.16 L594.05,67.16 L594.56,68.23 L595.07,69.37 L595.58,70.58 L596.09,71.85 L596.60,73.20" fill="none" stroke="#f58a2a" stroke-width="1.00" stroke-linejoin="round"/>
<path d="M597.00,15.80 L599.00,19.40 L595.00,19.40 Z" fill="#0a7a0a"/>
<path d="M595.20,39.40 L597.20,43.00 L593.20,43.00 Z" fill="#b8860b"/>
<path d="M586.40,60.30 L588.40,63.90 L584.40,63.90 Z" fill="#f57d10"/>
<text x="589.10" y="13.50" font-size="6.60" text-anchor="start" fill="#2a2a2a" font-weight="normal" font-style="normal" textLength="15.80" lengthAdjust="spacingAndGlyphs">3.023</text>
<text x="587.90" y="37.50" font-size="6.60" text-anchor="start" fill="#2a2a2a" font-weight="normal" font-style="normal" textLength="15.40" lengthAdjust="spacingAndGlyphs">3.013</text>
<text x="578.80" y="58.70" font-size="6.60" text-anchor="start" fill="#2a2a2a" font-weight="normal" font-style="normal" textLength="16.10" lengthAdjust="spacingAndGlyphs">2.956</text>
<line x1="38.70" y1="214.80" x2="38.70" y2="351.80" stroke="#666" stroke-width="1.00"/>
<line x1="38.20" y1="351.30" x2="307.70" y2="351.30" stroke="#666" stroke-width="1.00"/>
<line x1="48.50" y1="351.30" x2="48.50" y2="354.50" stroke="#555" stroke-width="0.90"/>
<text x="48.70" y="364.64" font-size="10.80" text-anchor="middle" fill="#1a1a1a" font-weight="normal" font-style="normal" stroke="#1a1a1a" stroke-width="0.238">2</text>
<line x1="81.50" y1="351.30" x2="81.50" y2="354.50" stroke="#555" stroke-width="0.90"/>
<text x="81.28" y="364.64" font-size="10.80" text-anchor="middle" fill="#1a1a1a" font-weight="normal" font-style="normal" stroke="#1a1a1a" stroke-width="0.238">4</text>
<line x1="113.50" y1="351.30" x2="113.50" y2="354.50" stroke="#555" stroke-width="0.90"/>
<text x="113.86" y="364.64" font-size="10.80" text-anchor="middle" fill="#1a1a1a" font-weight="normal" font-style="normal" stroke="#1a1a1a" stroke-width="0.238">6</text>
<line x1="146.50" y1="351.30" x2="146.50" y2="354.50" stroke="#555" stroke-width="0.90"/>
<text x="146.44" y="364.64" font-size="10.80" text-anchor="middle" fill="#1a1a1a" font-weight="normal" font-style="normal" stroke="#1a1a1a" stroke-width="0.238">8</text>
<line x1="179.50" y1="351.30" x2="179.50" y2="354.50" stroke="#555" stroke-width="0.90"/>
<text x="179.02" y="364.64" font-size="10.80" text-anchor="middle" fill="#1a1a1a" font-weight="normal" font-style="normal" stroke="#1a1a1a" stroke-width="0.238">10</text>
<line x1="211.50" y1="351.30" x2="211.50" y2="354.50" stroke="#555" stroke-width="0.90"/>
<text x="211.60" y="364.64" font-size="10.80" text-anchor="middle" fill="#1a1a1a" font-weight="normal" font-style="normal" stroke="#1a1a1a" stroke-width="0.238">12</text>
<line x1="244.50" y1="351.30" x2="244.50" y2="354.50" stroke="#555" stroke-width="0.90"/>
<text x="244.18" y="364.64" font-size="10.80" text-anchor="middle" fill="#1a1a1a" font-weight="normal" font-style="normal" stroke="#1a1a1a" stroke-width="0.238">14</text>
<line x1="276.50" y1="351.30" x2="276.50" y2="354.50" stroke="#555" stroke-width="0.90"/>
<text x="276.76" y="364.64" font-size="10.80" text-anchor="middle" fill="#1a1a1a" font-weight="normal" font-style="normal" stroke="#1a1a1a" stroke-width="0.238">16</text>
<line x1="35.50" y1="351.50" x2="38.70" y2="351.50" stroke="#555" stroke-width="0.90"/>
<text x="33.50" y="355.07" font-size="10.80" text-anchor="end" fill="#1a1a1a" font-weight="normal" font-style="normal" stroke="#1a1a1a" stroke-width="0.238">0</text>
<line x1="35.50" y1="312.50" x2="38.70" y2="312.50" stroke="#555" stroke-width="0.90"/>
<text x="33.50" y="316.17" font-size="10.80" text-anchor="end" fill="#1a1a1a" font-weight="normal" font-style="normal" stroke="#1a1a1a" stroke-width="0.238">2</text>
<line x1="35.50" y1="273.50" x2="38.70" y2="273.50" stroke="#555" stroke-width="0.90"/>
<text x="33.50" y="277.27" font-size="10.80" text-anchor="end" fill="#1a1a1a" font-weight="normal" font-style="normal" stroke="#1a1a1a" stroke-width="0.238">4</text>
<line x1="35.50" y1="234.50" x2="38.70" y2="234.50" stroke="#555" stroke-width="0.90"/>
<text x="33.50" y="238.37" font-size="10.80" text-anchor="end" fill="#1a1a1a" font-weight="normal" font-style="normal" stroke="#1a1a1a" stroke-width="0.238">6</text>
<path d="M48.80,351.14 L49.20,351.08 L49.60,350.99 L50.00,350.89 L50.40,350.78 L50.80,350.65 L51.20,350.52 L51.60,350.37 L52.00,350.21 L52.40,350.04 L52.80,349.86 L53.20,349.65 L53.60,349.41 L54.00,349.15 L54.40,348.88 L54.80,348.62 L55.20,348.40 L55.60,348.23 L56.00,348.13 L56.40,348.10 L56.80,348.12 L57.20,348.18 L57.60,348.26 L58.00,348.32 L58.40,348.33 L58.80,348.25 L59.20,348.02 L59.60,347.55 L60.00,346.89 L60.40,345.99 L60.80,344.85 L61.20,343.99 L61.60,342.55 L62.00,340.10 L62.40,334.00 L62.80,324.95 L63.20,314.28 L63.60,299.84 L64.00,285.45 L64.40,270.84 L64.80,257.47 L65.20,246.72 L65.60,240.00 L66.00,244.93 L66.40,254.82 L66.80,271.87 L67.20,289.70 L67.60,306.23 L68.00,321.82 L68.40,332.30 L68.80,336.14 L69.20,338.59 L69.60,339.93 L70.00,341.79 L70.40,343.44 L70.80,344.93 L71.20,346.08 L71.60,346.56 L72.00,347.04 L72.40,347.36 L72.80,347.58 L73.20,347.74 L73.60,347.88 L74.00,347.99 L74.40,348.07 L74.80,348.14 L75.20,348.20 L75.60,348.25 L76.00,348.29 L76.40,348.32 L76.80,348.36 L77.20,348.39 L77.60,348.41 L78.00,348.44 L78.40,348.46 L78.80,348.47 L79.20,348.48 L79.60,348.49 L80.00,348.50 L80.40,348.50 L80.80,348.50 L81.20,348.50 L81.60,348.50 L82.00,348.50 L82.40,348.50 L82.80,348.50 L83.20,348.50 L83.60,348.50 L84.00,348.50 L84.40,348.50 L84.80,348.50 L85.20,348.49 L85.60,348.48 L86.00,348.47 L86.40,348.45 L86.80,348.42 L87.20,348.39 L87.60,348.35 L88.00,348.30 L88.40,348.23 L88.80,348.15 L89.20,348.01 L89.60,347.77 L90.00,347.38 L90.40,346.74 L90.80,345.80 L91.20,344.58 L91.60,343.20 L92.00,341.66 L92.40,339.37 L92.80,336.06 L93.20,331.76 L93.60,325.15 L94.00,311.18 L94.40,294.09 L94.80,276.22 L95.20,256.43 L95.60,242.09 L96.00,230.79 L96.40,223.15 L96.80,223.45 L97.20,232.68 L97.60,245.00 L98.00,259.85 L98.40,277.51 L98.80,293.76 L99.20,310.23 L99.60,325.03 L100.00,333.60 L100.40,336.95 L100.80,339.34 L101.20,340.66 L101.60,341.87 L102.00,343.04 L102.40,343.94 L102.80,344.60 L103.20,344.94 L103.60,344.46 L104.00,343.27 L104.40,342.09 L104.80,340.85 L105.20,339.61 L105.60,338.39 L106.00,337.10 L106.40,335.80 L106.80,334.77 L107.20,332.80 L107.60,328.93 L108.00,321.36 L108.40,312.25 L108.80,301.56 L109.20,289.99 L109.60,281.25 L110.00,274.42 L110.40,269.80 L110.80,269.75 L111.20,274.19 L111.60,281.12 L112.00,291.70 L112.40,306.76 L112.80,319.36 L113.20,330.21 L113.60,334.42 L114.00,336.93 L114.40,338.66 L114.80,340.30 L115.20,341.71 L115.60,342.87 L116.00,343.81 L116.40,344.55 L116.80,345.15 L117.20,345.63 L117.60,346.03 L118.00,346.37 L118.40,346.67 L118.80,346.92 L119.20,347.13 L119.60,347.32 L120.00,347.47 L120.40,347.61 L120.80,347.74 L121.20,347.85 L121.60,347.95 L122.00,348.03 L122.40,348.09 L122.80,348.10 L123.20,348.05 L123.60,347.91 L124.00,347.64 L124.40,347.23 L124.80,346.69 L125.20,346.02 L125.60,345.25 L126.00,344.36 L126.40,343.31 L126.80,342.07 L127.20,340.62 L127.60,338.97 L128.00,337.15 L128.40,335.19 L128.80,333.11 L129.20,331.04 L129.60,328.69 L130.00,326.38 L130.40,325.60 L130.80,326.21 L131.20,328.12 L131.60,330.34 L132.00,332.35 L132.40,334.52 L132.80,336.78 L133.20,339.05 L133.60,341.26 L134.00,343.52 L134.40,345.70 L134.80,346.95 L135.20,346.84 L135.60,346.02 L136.00,344.81 L136.40,343.23 L136.80,341.34 L137.20,339.24 L137.60,337.38 L138.00,333.83 L138.40,328.69 L138.80,323.65 L139.20,318.89 L139.60,314.29 L140.00,308.51 L140.40,304.36 L140.80,304.26 L141.20,307.87 L141.60,313.24 L142.00,317.42 L142.40,321.83 L142.80,326.24 L143.20,331.03 L143.60,335.26 L144.00,337.79 L144.40,339.49 L144.80,341.35 L145.20,342.96 L145.60,344.29 L146.00,345.29 L146.40,345.91 L146.80,346.04 L147.20,345.80 L147.60,345.26 L148.00,344.47 L148.40,343.45 L148.80,342.16 L149.20,340.67 L149.60,339.45 L150.00,337.07 L150.40,333.32 L150.80,328.78 L151.20,324.19 L151.60,319.53 L152.00,314.65 L152.40,309.62 L152.80,304.52 L153.20,299.22 L153.60,293.80 L154.00,290.09 L154.40,287.21 L154.80,284.19 L155.20,282.29 L155.60,281.85 L156.00,283.02 L156.40,285.36 L156.80,288.38 L157.20,292.08 L157.60,298.38 L158.00,306.25 L158.40,313.93 L158.80,320.00 L159.20,324.71 L159.60,329.69 L160.00,333.64 L160.40,335.97 L160.80,335.92 L161.20,333.30 L161.60,328.71 L162.00,324.99 L162.40,321.06 L162.80,318.38 L163.20,315.47 L163.60,312.68 L164.00,311.21 L164.40,311.19 L164.80,312.55 L165.20,315.24 L165.60,317.73 L166.00,320.30 L166.40,323.10 L166.80,326.08 L167.20,329.10 L167.60,332.11 L168.00,335.05 L168.40,337.19 L168.80,338.69 L169.20,340.22 L169.60,341.51 L170.00,342.61 L170.40,343.49 L170.80,344.16 L171.20,344.56 L171.60,344.65 L172.00,344.38 L172.40,343.83 L172.80,343.07 L173.20,342.10 L173.60,340.95 L174.00,339.60 L174.40,338.08 L174.80,336.21 L175.20,334.21 L175.60,332.11 L176.00,330.01 L176.40,328.07 L176.80,325.38 L177.20,323.74 L177.60,323.81 L178.00,325.83 L178.40,329.09 L178.80,331.35 L179.20,335.12 L179.60,337.00 L180.00,336.11 L180.40,333.81 L180.80,330.25 L181.20,327.15 L181.60,323.90 L182.00,320.53 L182.40,317.18 L182.80,313.35 L183.20,310.50 L183.60,309.23 L184.00,307.83 L184.40,306.69 L184.80,306.34 L185.20,307.33 L185.60,309.28 L186.00,311.39 L186.40,313.47 L186.80,316.78 L187.20,320.54 L187.60,324.06 L188.00,327.76 L188.40,330.94 L188.80,333.47 L189.20,336.00 L189.60,338.25 L190.00,340.33 L190.40,342.14 L190.80,343.53 L191.20,344.29 L191.60,344.04 L192.00,342.73 L192.40,340.87 L192.80,338.72 L193.20,336.35 L193.60,333.99 L194.00,330.59 L194.40,327.10 L194.80,323.50 L195.20,320.34 L195.60,317.68 L196.00,315.32 L196.40,314.40 L196.80,315.13 L197.20,317.28 L197.60,319.37 L198.00,321.45 L198.40,323.81 L198.80,326.23 L199.20,328.64 L199.60,331.04 L200.00,332.58 L200.40,333.54 L200.80,334.49 L201.20,335.26 L201.60,335.93 L202.00,336.57 L202.40,337.22 L202.80,337.87 L203.20,338.54 L203.60,339.21 L204.00,339.86 L204.40,340.48 L204.80,341.05 L205.20,341.58 L205.60,342.06 L206.00,342.51 L206.40,342.93 L206.80,343.33 L207.20,343.71 L207.60,344.06 L208.00,344.36 L208.40,344.62 L208.80,344.80 L209.20,344.90 L209.60,344.88 L210.00,344.74 L210.40,344.44 L210.80,344.01 L211.20,343.44 L211.60,342.77 L212.00,342.02 L212.40,341.20 L212.80,340.30 L213.20,339.30 L213.60,338.18 L214.00,336.94 L214.40,335.59 L214.80,334.19 L215.20,332.78 L215.60,331.42 L216.00,330.12 L216.40,328.89 L216.80,327.74 L217.20,326.65 L217.60,325.66 L218.00,324.77 L218.40,324.01 L218.80,323.43 L219.20,323.00 L219.60,322.87 L220.00,323.20 L220.40,323.82 L220.80,324.27 L221.20,326.69 L221.60,329.50 L222.00,332.48 L222.40,334.97 L222.80,335.57 L223.20,334.84 L223.60,333.35 L224.00,331.76 L224.40,329.99 L224.80,328.00 L225.20,325.15 L225.60,322.09 L226.00,319.01 L226.40,315.91 L226.80,312.93 L227.20,310.03 L227.60,307.02 L228.00,305.28 L228.40,304.38 L228.80,303.52 L229.20,302.78 L229.60,303.16 L230.00,305.14 L230.40,307.41 L230.80,309.62 L231.20,312.22 L231.60,315.51 L232.00,318.03 L232.40,318.64 L232.80,317.19 L233.20,316.02 L233.60,315.21 L234.00,314.47 L234.40,313.84 L234.80,313.41 L235.20,314.64 L235.60,316.55 L236.00,318.26 L236.40,320.17 L236.80,322.23 L237.20,324.36 L237.60,326.51 L238.00,328.65 L238.40,330.76 L238.80,332.76 L239.20,334.61 L239.60,336.28 L240.00,337.67 L240.40,338.90 L240.80,339.98 L241.20,340.97 L241.60,341.86 L242.00,342.67 L242.40,343.36 L242.80,343.93 L243.20,344.36 L243.60,344.63 L244.00,344.73 L244.40,344.67 L244.80,344.46 L245.20,344.12 L245.60,343.67 L246.00,343.14 L246.40,342.55 L246.80,341.92 L247.20,341.28 L247.60,340.65 L248.00,340.01 L248.40,339.39 L248.80,338.75 L249.20,338.10 L249.60,337.43 L250.00,336.74 L250.40,336.03 L250.80,335.29 L251.20,334.53 L251.60,333.73 L252.00,332.89 L252.40,331.99 L252.80,331.03 L253.20,330.03 L253.60,329.04 L254.00,328.10 L254.40,327.24 L254.80,326.50 L255.20,325.86 L255.60,325.30 L256.00,324.81 L256.40,324.38 L256.80,324.01 L257.20,323.72 L257.60,323.53 L258.00,323.47 L258.40,323.58 L258.80,323.88 L259.20,324.37 L259.60,325.03 L260.00,325.81 L260.40,326.68 L260.80,327.62 L261.20,328.63 L261.60,329.72 L262.00,330.89 L262.40,332.12 L262.80,333.38 L263.20,334.61 L263.60,335.80 L264.00,336.93 L264.40,338.01 L264.80,339.04 L265.20,340.02 L265.60,340.91 L266.00,341.66 L266.40,342.22 L266.80,342.56 L267.20,342.68 L267.60,342.60 L268.00,342.37 L268.40,342.02 L268.80,341.58 L269.20,341.06 L269.60,340.46 L270.00,339.74 L270.40,338.86 L270.80,337.79 L271.20,336.53 L271.60,335.11 L272.00,333.61 L272.40,332.09 L272.80,330.63 L273.20,329.30 L273.60,328.16 L274.00,327.25 L274.40,326.69 L274.80,326.56 L275.20,326.82 L275.60,327.29 L276.00,327.95 L276.40,328.77 L276.80,329.72 L277.20,330.78 L277.60,331.95 L278.00,333.17 L278.40,334.33 L278.80,335.44 L279.20,336.16 L279.60,336.25 L280.00,336.21 L280.40,335.99 L280.80,335.63 L281.20,335.18 L281.60,334.69 L282.00,334.19 L282.40,333.71 L282.80,333.26 L283.20,332.84 L283.60,332.44 L284.00,332.04 L284.40,331.66 L284.80,331.29 L285.20,330.95 L285.60,330.66 L286.00,330.42 L286.40,330.27 L286.80,330.23 L287.20,330.32 L287.60,330.56 L288.00,330.96 L288.40,331.49 L288.80,332.10 L289.20,332.74 L289.60,333.37 L290.00,333.92 L290.40,334.35 L290.80,334.65 L291.20,334.79 L291.60,334.80 L292.00,334.70 L292.40,334.51 L292.80,334.24 L293.20,333.93 L293.60,333.60 L294.00,333.33" fill="none" stroke="#7f7f7f" stroke-width="0.80" stroke-opacity="1.00" stroke-linejoin="round" stroke-linecap="round"/>
<path d="M50.50,344.19 L50.90,344.18 L51.30,344.16 L51.70,344.13 L52.10,344.09 L52.50,344.04 L52.90,343.98 L53.30,343.90 L53.70,343.80 L54.10,343.66 L54.50,343.44 L54.90,343.10 L55.30,342.59 L55.70,341.92 L56.10,341.11 L56.50,340.17 L56.90,339.14 L57.30,338.02 L57.70,336.79 L58.10,335.45 L58.50,333.97 L58.90,332.34 L59.30,330.56 L59.70,328.61 L60.10,326.54 L60.50,324.42 L60.90,322.33 L61.30,320.38 L61.70,318.59 L62.10,316.97 L62.50,315.51 L62.90,314.19 L63.30,313.03 L63.70,312.06 L64.10,311.32 L64.50,310.91 L64.90,311.11 L65.30,312.15 L65.70,313.50 L66.10,314.98 L66.50,316.71 L66.90,318.65 L67.30,320.67 L67.70,322.66 L68.10,324.58 L68.50,326.40 L68.90,328.13 L69.30,329.77 L69.70,331.31 L70.10,332.73 L70.50,334.01 L70.90,335.12 L71.30,336.07 L71.70,336.88 L72.10,337.59 L72.50,338.21 L72.90,338.78 L73.30,339.31 L73.70,339.79 L74.10,340.24 L74.50,340.66 L74.90,341.05 L75.30,341.41 L75.70,341.75 L76.10,342.08 L76.50,342.39 L76.90,342.70 L77.30,343.00 L77.70,343.30 L78.10,343.60 L78.50,343.89 L78.90,344.16 L79.30,344.43 L79.70,344.67 L80.10,344.89 L80.50,345.08 L80.90,345.24 L81.30,345.37 L81.70,345.47 L82.10,345.51 L82.50,345.52 L82.90,345.47 L83.30,345.36 L83.70,345.21 L84.10,345.00 L84.50,344.75 L84.90,344.45 L85.30,344.12 L85.70,343.75 L86.10,343.35 L86.50,342.92 L86.90,342.47 L87.30,341.99 L87.70,341.49 L88.10,340.94 L88.50,340.33 L88.90,339.64 L89.30,338.84 L89.70,337.95 L90.10,336.96 L90.50,335.88 L90.90,334.72 L91.30,333.49 L91.70,332.19 L92.10,330.81 L92.50,329.33 L92.90,327.70 L93.30,325.92 L93.70,324.01 L94.10,322.01 L94.50,320.01 L94.90,318.07 L95.30,316.22 L95.70,314.52 L96.10,312.96 L96.50,311.35 L96.90,310.43 L97.30,310.73 L97.70,311.45 L98.10,312.47 L98.50,313.65 L98.90,315.00 L99.30,316.45 L99.70,317.96 L100.10,319.52 L100.50,321.16 L100.90,322.88 L101.30,324.63 L101.70,326.31 L102.10,327.87 L102.50,329.22 L102.90,330.08 L103.30,330.24 L103.70,330.11 L104.10,329.80 L104.50,329.28 L104.90,328.59 L105.30,327.76 L105.70,326.83 L106.10,325.83 L106.50,324.78 L106.90,323.72 L107.30,322.67 L107.70,321.67 L108.10,320.74 L108.50,319.91 L108.90,319.21 L109.30,318.67 L109.70,318.33 L110.10,318.20 L110.50,318.30 L110.90,318.67 L111.30,319.27 L111.70,320.09 L112.10,321.10 L112.50,322.26 L112.90,323.54 L113.30,324.90 L113.70,326.30 L114.10,327.70 L114.50,329.07 L114.90,330.38 L115.30,331.60 L115.70,332.72 L116.10,333.76 L116.50,334.76 L116.90,335.73 L117.30,336.69 L117.70,337.62 L118.10,338.51 L118.50,339.33 L118.90,340.05 L119.30,340.64 L119.70,341.08 L120.10,341.37 L120.50,341.51 L120.90,341.53 L121.30,341.46 L121.70,341.32 L122.10,341.14 L122.50,340.92 L122.90,340.66 L123.30,340.39 L123.70,340.09 L124.10,339.79 L124.50,339.49 L124.90,339.19 L125.30,338.90 L125.70,338.63 L126.10,338.38 L126.50,338.17 L126.90,337.99 L127.30,337.85 L127.70,337.75 L128.10,337.67 L128.50,337.62 L128.90,337.58 L129.30,337.55 L129.70,337.52 L130.10,337.49 L130.50,337.46 L130.90,337.43 L131.30,337.38 L131.70,337.31 L132.10,337.20 L132.50,337.03 L132.90,336.77 L133.30,336.43 L133.70,336.01 L134.10,335.52 L134.50,334.96 L134.90,334.36 L135.30,333.73 L135.70,333.09 L136.10,332.45 L136.50,331.83 L136.90,331.24 L137.30,330.69 L137.70,330.21 L138.10,329.81 L138.50,329.50 L138.90,329.29 L139.30,329.21 L139.70,329.25 L140.10,329.42 L140.50,329.71 L140.90,330.10 L141.30,330.59 L141.70,331.16 L142.10,331.78 L142.50,332.45 L142.90,333.14 L143.30,333.83 L143.70,334.52 L144.10,335.18 L144.50,335.79 L144.90,336.34 L145.30,336.80 L145.70,337.17 L146.10,337.43 L146.50,337.57 L146.90,337.57 L147.30,337.44 L147.70,337.17 L148.10,336.80 L148.50,336.31 L148.90,335.73 L149.30,335.07 L149.70,334.34 L150.10,333.55 L150.50,332.72 L150.90,331.86 L151.30,330.98 L151.70,330.10 L152.10,329.22 L152.50,328.37 L152.90,327.55 L153.30,326.77 L153.70,326.06 L154.10,325.42 L154.50,324.86 L154.90,324.40 L155.30,324.04 L155.70,323.80 L156.10,323.66 L156.50,323.62 L156.90,323.65 L157.30,323.75 L157.70,323.89 L158.10,324.08 L158.50,324.30 L158.90,324.56 L159.30,324.86 L159.70,325.18 L160.10,325.53 L160.50,325.91 L160.90,326.31 L161.30,326.73 L161.70,327.17 L162.10,327.63 L162.50,328.10 L162.90,328.58 L163.30,329.07 L163.70,329.56 L164.10,330.06 L164.50,330.56 L164.90,331.06 L165.30,331.55 L165.70,332.04 L166.10,332.52 L166.50,332.98 L166.90,333.44 L167.30,333.87 L167.70,334.29 L168.10,334.69 L168.50,335.06 L168.90,335.40 L169.30,335.72 L169.70,336.01 L170.10,336.26 L170.50,336.47 L170.90,336.65 L171.30,336.78 L171.70,336.87 L172.10,336.92 L172.50,336.91 L172.90,336.84 L173.30,336.73 L173.70,336.56 L174.10,336.35 L174.50,336.08 L174.90,335.78 L175.30,335.45 L175.70,335.08 L176.10,334.68 L176.50,334.27 L176.90,333.83 L177.30,333.38 L177.70,332.92 L178.10,332.46 L178.50,331.99 L178.90,331.53 L179.30,331.08 L179.70,330.64 L180.10,330.22 L180.50,329.82 L180.90,329.44 L181.30,329.10 L181.70,328.79 L182.10,328.52 L182.50,328.29 L182.90,328.11 L183.30,327.98 L183.70,327.92 L184.10,327.91 L184.50,327.98 L184.90,328.11 L185.30,328.30 L185.70,328.54 L186.10,328.83 L186.50,329.15 L186.90,329.50 L187.30,329.85 L187.70,330.20 L188.10,330.55 L188.50,330.87 L188.90,331.16 L189.30,331.40 L189.70,331.60 L190.10,331.73 L190.50,331.81 L190.90,331.83 L191.30,331.81 L191.70,331.77 L192.10,331.69 L192.50,331.61 L192.90,331.51 L193.30,331.40 L193.70,331.30 L194.10,331.19 L194.50,331.09 L194.90,331.01 L195.30,330.93 L195.70,330.88 L196.10,330.85 L196.50,330.85 L196.90,330.87 L197.30,330.93 L197.70,331.01 L198.10,331.12 L198.50,331.26 L198.90,331.42 L199.30,331.60 L199.70,331.79 L200.10,332.01 L200.50,332.24 L200.90,332.49 L201.30,332.74 L201.70,333.01 L202.10,333.28 L202.50,333.55 L202.90,333.83 L203.30,334.11 L203.70,334.39 L204.10,334.66 L204.50,334.93 L204.90,335.19 L205.30,335.44 L205.70,335.67 L206.10,335.90 L206.50,336.11 L206.90,336.30 L207.30,336.47 L207.70,336.61 L208.10,336.74 L208.50,336.83 L208.90,336.90 L209.30,336.94 L209.70,336.95 L210.10,336.93 L210.50,336.87 L210.90,336.79 L211.30,336.68 L211.70,336.54 L212.10,336.38 L212.50,336.20 L212.90,336.01 L213.30,335.80 L213.70,335.57 L214.10,335.34 L214.50,335.10 L214.90,334.85 L215.30,334.60 L215.70,334.35 L216.10,334.10 L216.50,333.86 L216.90,333.62 L217.30,333.39 L217.70,333.17 L218.10,332.96 L218.50,332.76 L218.90,332.56 L219.30,332.36 L219.70,332.16 L220.10,331.97 L220.50,331.76 L220.90,331.55 L221.30,331.33 L221.70,331.10 L222.10,330.86 L222.50,330.59 L222.90,330.29 L223.30,329.96 L223.70,329.58 L224.10,329.17 L224.50,328.72 L224.90,328.24 L225.30,327.75 L225.70,327.24 L226.10,326.73 L226.50,326.23 L226.90,325.75 L227.30,325.29 L227.70,324.86 L228.10,324.47 L228.50,324.13 L228.90,323.85 L229.30,323.63 L229.70,323.49 L230.10,323.41 L230.50,323.40 L230.90,323.45 L231.30,323.55 L231.70,323.70 L232.10,323.89 L232.50,324.12 L232.90,324.38 L233.30,324.68 L233.70,325.00 L234.10,325.36 L234.50,325.74 L234.90,326.14 L235.30,326.56 L235.70,327.00 L236.10,327.45 L236.50,327.91 L236.90,328.38 L237.30,328.86 L237.70,329.34 L238.10,329.82 L238.50,330.30 L238.90,330.77 L239.30,331.24 L239.70,331.69 L240.10,332.13 L240.50,332.56 L240.90,332.96 L241.30,333.35 L241.70,333.71 L242.10,334.04 L242.50,334.35 L242.90,334.62 L243.30,334.86 L243.70,335.06 L244.10,335.22 L244.50,335.33 L244.90,335.40 L245.30,335.43 L245.70,335.42 L246.10,335.37 L246.50,335.28 L246.90,335.16 L247.30,335.01 L247.70,334.83 L248.10,334.63 L248.50,334.41 L248.90,334.17 L249.30,333.91 L249.70,333.64 L250.10,333.36 L250.50,333.07 L250.90,332.78 L251.30,332.49 L251.70,332.20 L252.10,331.91 L252.50,331.63 L252.90,331.36 L253.30,331.10 L253.70,330.85 L254.10,330.62 L254.50,330.42 L254.90,330.23 L255.30,330.08 L255.70,329.95 L256.10,329.85 L256.50,329.78 L256.90,329.74 L257.30,329.72 L257.70,329.72 L258.10,329.73 L258.50,329.74 L258.90,329.76 L259.30,329.78 L259.70,329.81 L260.10,329.83 L260.50,329.86 L260.90,329.88 L261.30,329.91 L261.70,329.93 L262.10,329.96 L262.50,329.97 L262.90,329.99 L263.30,330.01 L263.70,330.02 L264.10,330.03 L264.50,330.04 L264.90,330.06 L265.30,330.06 L265.70,330.07 L266.10,330.08 L266.50,330.09 L266.90,330.10 L267.30,330.11 L267.70,330.11 L268.10,330.12 L268.50,330.13 L268.90,330.14 L269.30,330.14 L269.70,330.15 L270.10,330.16 L270.50,330.17 L270.90,330.18 L271.30,330.19 L271.70,330.20 L272.10,330.21 L272.50,330.22 L272.90,330.23 L273.30,330.25 L273.70,330.26 L274.10,330.28 L274.50,330.30 L274.90,330.32 L275.30,330.36 L275.70,330.40 L276.10,330.46 L276.50,330.52 L276.90,330.59 L277.30,330.67 L277.70,330.76 L278.10,330.86 L278.50,330.96 L278.90,331.06 L279.30,331.17 L279.70,331.28 L280.10,331.39 L280.50,331.50 L280.90,331.61 L281.30,331.72 L281.70,331.83 L282.10,331.93 L282.50,332.03 L282.90,332.13 L283.30,332.22 L283.70,332.30 L284.10,332.37 L284.50,332.43 L284.90,332.49 L285.30,332.53 L285.70,332.56 L286.10,332.58 L286.50,332.58 L286.90,332.58 L287.30,332.57 L287.70,332.55 L288.10,332.53 L288.50,332.49 L288.90,332.45 L289.30,332.41 L289.70,332.35 L290.10,332.29 L290.50,332.23 L290.90,332.16 L291.30,332.08 L291.70,331.99 L292.10,331.90 L292.50,331.81 L292.90,331.70 L293.30,331.60 L293.70,331.48 L294.10,331.36 L294.50,331.24 L294.90,331.12 L295.30,331.01 L295.70,330.92 L295.80,330.85" fill="none" stroke="#f2984a" stroke-width="1.00" stroke-opacity="1.00" stroke-linejoin="round" stroke-linecap="round"/>
<rect x="203.2" y="324.5" width="100.3" height="22.9" rx="0.8" fill="#fff" fill-opacity="0.8" stroke="#e0e0e0" stroke-width="0.8"/>
<line x1="205.40" y1="330.30" x2="220.10" y2="330.30" stroke="#f2984a" stroke-width="1.00"/>
<line x1="205.40" y1="340.90" x2="220.10" y2="340.90" stroke="#7f7f7f" stroke-width="1.00"/>
<text x="225.80" y="333.00" font-size="7.60" text-anchor="start" fill="#1a1a1a" font-weight="normal" font-style="normal" textLength="70.30" lengthAdjust="spacingAndGlyphs" stroke="#1a1a1a" stroke-width="0.167">model of 186 atoms</text>
<text x="225.80" y="343.60" font-size="7.60" text-anchor="start" fill="#1a1a1a" font-weight="normal" font-style="normal" textLength="74.90" lengthAdjust="spacingAndGlyphs" stroke="#1a1a1a" stroke-width="0.167">model of 4634 atoms</text>
<line x1="248.60" y1="209.00" x2="248.60" y2="274.30" stroke="#444" stroke-width="1.00"/>
<line x1="248.10" y1="273.80" x2="294.60" y2="273.80" stroke="#444" stroke-width="1.00"/>
<line x1="255.50" y1="273.80" x2="255.50" y2="276.30" stroke="#555" stroke-width="0.90"/>
<text x="255.60" y="284.31" font-size="7.90" text-anchor="middle" fill="#1a1a1a" font-weight="normal" font-style="normal" stroke="#1a1a1a" stroke-width="0.174">2.9</text>
<line x1="273.50" y1="273.80" x2="273.50" y2="276.30" stroke="#555" stroke-width="0.90"/>
<text x="273.90" y="284.31" font-size="7.90" text-anchor="middle" fill="#1a1a1a" font-weight="normal" font-style="normal" stroke="#1a1a1a" stroke-width="0.174">3.0</text>
<line x1="292.50" y1="273.80" x2="292.50" y2="276.30" stroke="#555" stroke-width="0.90"/>
<text x="292.20" y="284.31" font-size="7.90" text-anchor="middle" fill="#1a1a1a" font-weight="normal" font-style="normal" stroke="#1a1a1a" stroke-width="0.174">3.1</text>
<line x1="246.10" y1="268.50" x2="248.60" y2="268.50" stroke="#555" stroke-width="0.90"/>
<text x="243.40" y="271.36" font-size="7.90" text-anchor="end" fill="#1a1a1a" font-weight="normal" font-style="normal" stroke="#1a1a1a" stroke-width="0.174">2</text>
<line x1="246.10" y1="239.50" x2="248.60" y2="239.50" stroke="#555" stroke-width="0.90"/>
<text x="243.40" y="242.16" font-size="7.90" text-anchor="end" fill="#1a1a1a" font-weight="normal" font-style="normal" stroke="#1a1a1a" stroke-width="0.174">4</text>
<line x1="246.10" y1="210.50" x2="248.60" y2="210.50" stroke="#555" stroke-width="0.90"/>
<text x="243.40" y="212.96" font-size="7.90" text-anchor="end" fill="#1a1a1a" font-weight="normal" font-style="normal" stroke="#1a1a1a" stroke-width="0.174">6</text>
<path d="M266.10,240.40 L266.79,237.87 L267.48,235.46 L268.17,233.19 L268.86,231.04 L269.55,229.03 L270.24,227.14 L270.93,225.39 L271.62,223.76 L272.31,222.27 L273.00,220.90 L273.69,219.66 L274.38,218.56 L275.07,217.59 L275.76,216.74 L276.45,216.03 L277.14,215.44 L277.83,214.99 L278.52,214.66 L279.21,214.47 L279.90,214.40 L280.52,214.46 L281.15,214.65 L281.77,214.96 L282.40,215.40 L283.02,215.97 L283.65,216.66 L284.27,217.47 L284.90,218.42 L285.52,219.48 L286.15,220.68 L286.77,221.99 L287.40,223.44 L288.02,225.00 L288.65,226.70 L289.27,228.52 L289.90,230.46 L290.52,232.53 L291.15,234.73 L291.77,237.05 L292.40,239.50" fill="none" stroke="#7f7f7f" stroke-width="0.90" stroke-linejoin="round"/>
<path d="M250.10,268.60 L250.88,268.41 L251.66,268.22 L252.44,268.05 L253.22,267.88 L254.00,267.73 L254.78,267.58 L255.56,267.45 L256.34,267.32 L257.12,267.21 L257.90,267.10 L258.68,267.00 L259.46,266.92 L260.24,266.85 L261.02,266.78 L261.80,266.73 L262.58,266.68 L263.36,266.65 L264.14,266.62 L264.92,266.61 L265.70,266.60 L266.49,266.61 L267.27,266.62 L268.06,266.65 L268.84,266.68 L269.62,266.73 L270.41,266.78 L271.19,266.85 L271.98,266.92 L272.76,267.00 L273.55,267.10 L274.33,267.21 L275.12,267.32 L275.90,267.45 L276.69,267.58 L277.47,267.73 L278.26,267.88 L279.04,268.05 L279.83,268.22 L280.61,268.41 L281.40,268.60" fill="none" stroke="#f08a30" stroke-width="1.00" stroke-linejoin="round"/>
<path d="M279.90,216.50 L281.90,220.10 L277.90,220.10 Z" fill="#777"/>
<path d="M265.70,267.20 L267.70,270.80 L263.70,270.80 Z" fill="#f2984a"/>
<text x="272.00" y="214.30" font-size="6.60" text-anchor="start" fill="#2a2a2a" font-weight="normal" font-style="normal" textLength="15.00" lengthAdjust="spacingAndGlyphs">3.031</text>
<text x="257.60" y="265.60" font-size="6.60" text-anchor="start" fill="#2a2a2a" font-weight="normal" font-style="normal" textLength="16.30" lengthAdjust="spacingAndGlyphs">2.957</text>
<line x1="361.40" y1="215.00" x2="361.40" y2="351.70" stroke="#444" stroke-width="1.00"/>
<line x1="360.90" y1="351.20" x2="630.20" y2="351.20" stroke="#444" stroke-width="1.00"/>
<line x1="371.50" y1="351.20" x2="371.50" y2="354.40" stroke="#555" stroke-width="0.90"/>
<text x="371.40" y="364.04" font-size="10.80" text-anchor="middle" fill="#1a1a1a" font-weight="normal" font-style="normal" stroke="#1a1a1a" stroke-width="0.238">2</text>
<line x1="403.50" y1="351.20" x2="403.50" y2="354.40" stroke="#555" stroke-width="0.90"/>
<text x="403.88" y="364.04" font-size="10.80" text-anchor="middle" fill="#1a1a1a" font-weight="normal" font-style="normal" stroke="#1a1a1a" stroke-width="0.238">4</text>
<line x1="436.50" y1="351.20" x2="436.50" y2="354.40" stroke="#555" stroke-width="0.90"/>
<text x="436.36" y="364.04" font-size="10.80" text-anchor="middle" fill="#1a1a1a" font-weight="normal" font-style="normal" stroke="#1a1a1a" stroke-width="0.238">6</text>
<line x1="468.50" y1="351.20" x2="468.50" y2="354.40" stroke="#555" stroke-width="0.90"/>
<text x="468.84" y="364.04" font-size="10.80" text-anchor="middle" fill="#1a1a1a" font-weight="normal" font-style="normal" stroke="#1a1a1a" stroke-width="0.238">8</text>
<line x1="501.50" y1="351.20" x2="501.50" y2="354.40" stroke="#555" stroke-width="0.90"/>
<text x="501.32" y="364.04" font-size="10.80" text-anchor="middle" fill="#1a1a1a" font-weight="normal" font-style="normal" stroke="#1a1a1a" stroke-width="0.238">10</text>
<line x1="533.50" y1="351.20" x2="533.50" y2="354.40" stroke="#555" stroke-width="0.90"/>
<text x="533.80" y="364.04" font-size="10.80" text-anchor="middle" fill="#1a1a1a" font-weight="normal" font-style="normal" stroke="#1a1a1a" stroke-width="0.238">12</text>
<line x1="566.50" y1="351.20" x2="566.50" y2="354.40" stroke="#555" stroke-width="0.90"/>
<text x="566.28" y="364.04" font-size="10.80" text-anchor="middle" fill="#1a1a1a" font-weight="normal" font-style="normal" stroke="#1a1a1a" stroke-width="0.238">14</text>
<line x1="598.50" y1="351.20" x2="598.50" y2="354.40" stroke="#555" stroke-width="0.90"/>
<text x="598.76" y="364.04" font-size="10.80" text-anchor="middle" fill="#1a1a1a" font-weight="normal" font-style="normal" stroke="#1a1a1a" stroke-width="0.238">16</text>
<line x1="358.20" y1="350.50" x2="361.40" y2="350.50" stroke="#555" stroke-width="0.90"/>
<text x="356.20" y="354.27" font-size="10.80" text-anchor="end" fill="#1a1a1a" font-weight="normal" font-style="normal" stroke="#1a1a1a" stroke-width="0.238">0</text>
<line x1="358.20" y1="306.50" x2="361.40" y2="306.50" stroke="#555" stroke-width="0.90"/>
<text x="356.20" y="310.47" font-size="10.80" text-anchor="end" fill="#1a1a1a" font-weight="normal" font-style="normal" stroke="#1a1a1a" stroke-width="0.238">1</text>
<line x1="358.20" y1="262.50" x2="361.40" y2="262.50" stroke="#555" stroke-width="0.90"/>
<text x="356.20" y="266.67" font-size="10.80" text-anchor="end" fill="#1a1a1a" font-weight="normal" font-style="normal" stroke="#1a1a1a" stroke-width="0.238">2</text>
<line x1="358.20" y1="219.50" x2="361.40" y2="219.50" stroke="#555" stroke-width="0.90"/>
<text x="356.20" y="222.87" font-size="10.80" text-anchor="end" fill="#1a1a1a" font-weight="normal" font-style="normal" stroke="#1a1a1a" stroke-width="0.238">3</text>
<path d="M373.00,345.05 L373.40,344.32 L373.80,343.62 L374.20,342.85 L374.60,342.10 L375.00,341.41 L375.40,340.79 L375.80,340.25 L376.20,339.76 L376.60,339.31 L377.00,338.86 L377.40,338.36 L377.80,337.78 L378.20,337.09 L378.60,336.27 L379.00,335.29 L379.40,334.17 L379.80,332.90 L380.20,331.48 L380.60,329.91 L381.00,328.16 L381.40,326.21 L381.80,324.00 L382.20,321.48 L382.60,318.66 L383.00,315.54 L383.40,312.24 L383.80,308.82 L384.20,304.28 L384.60,298.65 L385.00,289.98 L385.40,277.17 L385.80,264.32 L386.20,256.54 L386.60,249.98 L387.00,244.61 L387.40,241.44 L387.80,241.45 L388.20,244.68 L388.60,250.09 L389.00,256.61 L389.40,264.11 L389.80,276.17 L390.20,288.33 L390.60,297.04 L391.00,301.47 L391.40,304.38 L391.80,307.84 L392.20,311.46 L392.60,314.92 L393.00,318.55 L393.40,321.49 L393.80,323.73 L394.20,325.95 L394.60,327.94 L395.00,329.73 L395.40,331.35 L395.80,332.79 L396.20,334.06 L396.60,335.16 L397.00,336.12 L397.40,336.95 L397.80,337.70 L398.20,338.38 L398.60,339.00 L399.00,339.54 L399.40,339.99 L399.80,340.35 L400.20,340.60 L400.60,340.74 L401.00,340.79 L401.40,340.76 L401.80,340.69 L402.20,340.58 L402.60,340.46 L403.00,340.31 L403.40,340.16 L403.80,340.02 L404.20,339.88 L404.60,339.76 L405.00,339.66 L405.40,339.60 L405.80,339.58 L406.20,339.60 L406.60,339.66 L407.00,339.75 L407.40,339.85 L407.80,339.93 L408.20,339.91 L408.60,339.75 L409.00,339.71 L409.40,338.54 L409.80,336.90 L410.20,335.40 L410.60,333.83 L411.00,332.25 L411.40,330.58 L411.80,328.98 L412.20,327.47 L412.60,324.73 L413.00,320.06 L413.40,313.73 L413.80,308.24 L414.20,302.60 L414.60,297.06 L415.00,291.99 L415.40,285.39 L415.80,275.31 L416.20,262.68 L416.60,249.62 L417.00,240.89 L417.40,235.37 L417.80,230.36 L418.20,226.27 L418.60,223.51 L419.00,222.50 L419.40,223.55 L419.80,226.40 L420.20,230.56 L420.60,235.55 L421.00,240.89 L421.40,248.92 L421.80,260.81 L422.20,273.03 L422.60,283.85 L423.00,290.33 L423.40,293.63 L423.80,296.34 L424.20,298.82 L424.60,301.02 L425.00,302.78 L425.40,304.00 L425.80,304.61 L426.20,304.61 L426.60,304.31 L427.00,303.74 L427.40,302.92 L427.80,301.81 L428.20,300.62 L428.60,299.58 L429.00,296.62 L429.40,291.83 L429.80,287.44 L430.20,283.04 L430.60,279.37 L431.00,275.71 L431.40,272.32 L431.80,269.00 L432.20,265.75 L432.60,263.41 L433.00,262.17 L433.40,262.27 L433.80,264.20 L434.20,267.47 L434.60,271.83 L435.00,275.75 L435.40,280.14 L435.80,286.17 L436.20,291.95 L436.60,297.79 L437.00,303.67 L437.40,307.89 L437.80,311.99 L438.20,315.99 L438.60,319.74 L439.00,322.80 L439.40,324.41 L439.80,325.13 L440.20,326.18 L440.60,327.05 L441.00,327.79 L441.40,328.44 L441.80,329.03 L442.20,329.56 L442.60,330.03 L443.00,330.43 L443.40,330.77 L443.80,331.04 L444.20,331.25 L444.60,331.37 L445.00,331.40 L445.40,331.29 L445.80,330.99 L446.20,330.50 L446.60,329.79 L447.00,328.89 L447.40,327.82 L447.80,326.61 L448.20,325.32 L448.60,323.96 L449.00,322.58 L449.40,321.22 L449.80,319.90 L450.20,318.67 L450.60,317.57 L451.00,316.62 L451.40,315.87 L451.80,315.35 L452.20,315.06 L452.60,315.06 L453.00,315.35 L453.40,315.84 L453.80,316.49 L454.20,317.25 L454.60,318.04 L455.00,318.78 L455.40,319.38 L455.80,319.81 L456.20,320.04 L456.60,319.89 L457.00,319.12 L457.40,317.89 L457.80,316.35 L458.20,314.67 L458.60,312.83 L459.00,310.90 L459.40,308.94 L459.80,306.96 L460.20,305.02 L460.60,303.11 L461.00,301.42 L461.40,300.42 L461.80,299.57 L462.20,298.98 L462.60,298.75 L463.00,299.03 L463.40,299.75 L463.80,300.75 L464.20,301.92 L464.60,303.50 L465.00,305.49 L465.40,307.48 L465.80,309.46 L466.20,311.35 L466.60,313.13 L467.00,314.82 L467.40,316.41 L467.80,317.88 L468.20,319.15 L468.60,320.24 L469.00,321.05 L469.40,321.56 L469.80,321.66 L470.20,320.70 L470.60,318.94 L471.00,316.80 L471.40,314.61 L471.80,312.32 L472.20,309.99 L472.60,307.69 L473.00,305.42 L473.40,303.16 L473.80,300.89 L474.20,298.61 L474.60,296.36 L475.00,294.13 L475.40,291.91 L475.80,289.69 L476.20,287.46 L476.60,285.27 L477.00,283.21 L477.40,281.20 L477.80,279.48 L478.20,278.41 L478.60,278.47 L479.00,279.89 L479.40,282.07 L479.80,283.85 L480.20,285.66 L480.60,287.38 L481.00,288.94 L481.40,290.29 L481.80,291.48 L482.20,292.40 L482.60,292.76 L483.00,292.90 L483.40,292.93 L483.80,292.88 L484.20,292.83 L484.60,292.88 L485.00,293.07 L485.40,293.50 L485.80,294.19 L486.20,295.05 L486.60,296.05 L487.00,297.14 L487.40,298.27 L487.80,299.46 L488.20,300.72 L488.60,302.07 L489.00,303.52 L489.40,305.05 L489.80,306.63 L490.20,308.23 L490.60,309.82 L491.00,311.37 L491.40,312.86 L491.80,314.24 L492.20,315.48 L492.60,316.56 L493.00,317.44 L493.40,318.09 L493.80,318.51 L494.20,318.65 L494.60,318.38 L495.00,317.63 L495.40,316.59 L495.80,315.39 L496.20,314.07 L496.60,312.72 L497.00,311.43 L497.40,310.28 L497.80,309.29 L498.20,308.44 L498.60,307.71 L499.00,307.05 L499.40,306.42 L499.80,305.81 L500.20,305.22 L500.60,304.63 L501.00,304.03 L501.40,303.39 L501.80,302.67 L502.20,301.85 L502.60,300.89 L503.00,299.80 L503.40,298.60 L503.80,297.33 L504.20,296.03 L504.60,294.75 L505.00,293.56 L505.40,292.50 L505.80,291.62 L506.20,290.96 L506.60,290.55 L507.00,290.47 L507.40,290.84 L507.80,291.67 L508.20,292.86 L508.60,294.35 L509.00,296.04 L509.40,297.92 L509.80,299.93 L510.20,302.00 L510.60,304.07 L511.00,306.08 L511.40,307.96 L511.80,309.65 L512.20,311.14 L512.60,312.33 L513.00,313.16 L513.40,313.54 L513.80,313.53 L514.20,313.34 L514.60,312.94 L515.00,312.37 L515.40,311.68 L515.80,310.90 L516.20,310.07 L516.60,309.23 L517.00,308.40 L517.40,307.62 L517.80,306.93 L518.20,306.35 L518.60,305.92 L519.00,305.64 L519.40,305.52 L519.80,305.55 L520.20,305.69 L520.60,305.93 L521.00,306.26 L521.40,306.66 L521.80,307.13 L522.20,307.66 L522.60,308.25 L523.00,308.89 L523.40,309.57 L523.80,310.28 L524.20,311.02 L524.60,311.78 L525.00,312.56 L525.40,313.35 L525.80,314.14 L526.20,314.93 L526.60,315.71 L527.00,316.47 L527.40,317.20 L527.80,317.91 L528.20,318.58 L528.60,319.20 L529.00,319.77 L529.40,320.29 L529.80,320.75 L530.20,321.13 L530.60,321.44 L531.00,321.66 L531.40,321.80 L531.80,321.82 L532.20,321.74 L532.60,321.55 L533.00,321.23 L533.40,320.81 L533.80,320.29 L534.20,319.69 L534.60,319.00 L535.00,318.24 L535.40,317.43 L535.80,316.57 L536.20,315.68 L536.60,314.76 L537.00,313.83 L537.40,312.90 L537.80,311.97 L538.20,311.07 L538.60,310.19 L539.00,309.36 L539.40,308.57 L539.80,307.85 L540.20,307.20 L540.60,306.63 L541.00,306.16 L541.40,305.80 L541.80,305.55 L542.20,305.42 L542.60,305.42 L543.00,305.53 L543.40,305.75 L543.80,306.03 L544.20,306.34 L544.60,306.64 L545.00,306.90 L545.40,307.05 L545.80,307.05 L546.20,306.86 L546.60,306.38 L547.00,305.58 L547.40,304.51 L547.80,303.23 L548.20,301.73 L548.60,300.08 L549.00,298.31 L549.40,296.46 L549.80,294.58 L550.20,292.71 L550.60,290.89 L551.00,289.17 L551.40,287.60 L551.80,286.20 L552.20,285.03 L552.60,284.09 L553.00,283.45 L553.40,283.15 L553.80,283.20 L554.20,283.52 L554.60,284.07 L555.00,284.84 L555.40,285.81 L555.80,286.94 L556.20,288.21 L556.60,289.58 L557.00,291.04 L557.40,292.54 L557.80,294.06 L558.20,295.58 L558.60,297.06 L559.00,298.49 L559.40,299.82 L559.80,301.07 L560.20,302.22 L560.60,303.29 L561.00,304.32 L561.40,305.33 L561.80,306.33 L562.20,307.31 L562.60,308.28 L563.00,309.22 L563.40,310.13 L563.80,310.99 L564.20,311.81 L564.60,312.57 L565.00,313.26 L565.40,313.88 L565.80,314.43 L566.20,314.93 L566.60,315.37 L567.00,315.78 L567.40,316.17 L567.80,316.53 L568.20,316.88 L568.60,317.19 L569.00,317.47 L569.40,317.70 L569.80,317.89 L570.20,318.03 L570.60,318.10 L571.00,318.13 L571.40,318.09 L571.80,318.00 L572.20,317.86 L572.60,317.69 L573.00,317.47 L573.40,317.23 L573.80,316.97 L574.20,316.68 L574.60,316.36 L575.00,315.99 L575.40,315.55 L575.80,315.02 L576.20,314.39 L576.60,313.67 L577.00,312.86 L577.40,311.98 L577.80,311.06 L578.20,310.10 L578.60,309.14 L579.00,308.18 L579.40,307.24 L579.80,306.35 L580.20,305.52 L580.60,304.77 L581.00,304.12 L581.40,303.59 L581.80,303.19 L582.20,302.93 L582.60,302.82 L583.00,302.85 L583.40,303.00 L583.80,303.25 L584.20,303.59 L584.60,304.01 L585.00,304.49 L585.40,305.02 L585.80,305.58 L586.20,306.16 L586.60,306.74 L587.00,307.32 L587.40,307.88 L587.80,308.41 L588.20,308.89 L588.60,309.31 L589.00,309.65 L589.40,309.91 L589.80,310.09 L590.20,310.17 L590.60,310.18 L591.00,310.12 L591.40,310.01 L591.80,309.85 L592.20,309.67 L592.60,309.45 L593.00,309.22 L593.40,308.98 L593.80,308.73 L594.20,308.48 L594.60,308.24 L595.00,308.01 L595.40,307.80 L595.80,307.61 L596.20,307.43 L596.60,307.27 L597.00,307.11 L597.40,306.95 L597.80,306.80 L598.20,306.66 L598.60,306.53 L599.00,306.42 L599.40,306.33 L599.80,306.25 L600.20,306.19 L600.60,306.15 L601.00,306.11 L601.40,306.07 L601.80,306.05 L602.20,306.03 L602.60,306.02 L603.00,306.03 L603.40,306.06 L603.80,306.11 L604.20,306.18 L604.60,306.27 L605.00,306.38 L605.40,306.50 L605.80,306.63 L606.20,306.80 L606.60,307.00 L607.00,307.25 L607.40,307.54 L607.80,307.88 L608.20,308.25 L608.60,308.66 L609.00,309.08 L609.40,309.51 L609.80,309.93 L610.20,310.35 L610.60,310.74 L611.00,311.11 L611.40,311.44 L611.80,311.71 L612.20,311.93 L612.60,312.08 L613.00,312.15 L613.40,312.13 L613.80,312.01 L614.20,311.79 L614.60,311.48 L615.00,311.08 L615.40,310.59 L615.80,310.03 L616.20,309.40 L616.60,308.73 L617.00,308.04 L617.40,307.40 L617.80,306.84 L617.90,306.52" fill="none" stroke="#d62728" stroke-width="0.90" stroke-opacity="1.00" stroke-linejoin="round" stroke-linecap="round"/>
<path d="M373.00,343.61 L373.40,343.25 L373.80,342.79 L374.20,342.28 L374.60,341.75 L375.00,341.23 L375.40,340.73 L375.80,340.26 L376.20,339.82 L376.60,339.37 L377.00,338.91 L377.40,338.40 L377.80,337.81 L378.20,337.11 L378.60,336.29 L379.00,335.33 L379.40,334.21 L379.80,332.94 L380.20,331.51 L380.60,329.89 L381.00,328.08 L381.40,326.04 L381.80,323.59 L382.20,320.73 L382.60,317.53 L383.00,314.02 L383.40,310.36 L383.80,306.48 L384.20,301.44 L384.60,295.20 L385.00,285.58 L385.40,271.35 L385.80,257.08 L386.20,248.45 L386.60,241.16 L387.00,235.21 L387.40,231.69 L387.80,231.70 L388.20,235.28 L388.60,241.29 L389.00,248.53 L389.40,256.85 L389.80,270.24 L390.20,283.74 L390.60,293.41 L391.00,298.30 L391.40,301.54 L391.80,305.51 L392.20,309.67 L392.60,313.69 L393.00,318.38 L393.40,321.76 L393.80,323.82 L394.20,326.03 L394.60,328.08 L395.00,329.88 L395.40,331.48 L395.80,332.89 L396.20,334.13 L396.60,335.20 L397.00,336.14 L397.40,336.96 L397.80,337.71 L398.20,338.38 L398.60,339.00 L399.00,339.54 L399.40,339.99 L399.80,340.35 L400.20,340.60 L400.60,340.74 L401.00,340.79 L401.40,340.76 L401.80,340.69 L402.20,340.58 L402.60,340.46 L403.00,340.31 L403.40,340.16 L403.80,340.02 L404.20,339.88 L404.60,339.76 L405.00,339.66 L405.40,339.60 L405.80,339.58 L406.20,339.60 L406.60,339.66 L407.00,339.75 L407.40,339.85 L407.80,339.93 L408.20,339.91 L408.60,339.75 L409.00,339.71 L409.40,338.54 L409.80,336.90 L410.20,335.40 L410.60,333.83 L411.00,332.25 L411.40,330.58 L411.80,328.97 L412.20,327.47 L412.60,324.73 L413.00,320.11 L413.40,313.84 L413.80,308.43 L414.20,302.85 L414.60,297.37 L415.00,292.39 L415.40,285.89 L415.80,275.95 L416.20,263.51 L416.60,250.63 L417.00,242.03 L417.40,236.59 L417.80,231.65 L418.20,227.62 L418.60,224.90 L419.00,223.90 L419.40,224.94 L419.80,227.74 L420.20,231.84 L420.60,236.76 L421.00,242.03 L421.40,249.80 L421.80,261.13 L422.20,273.08 L422.60,283.81 L423.00,290.76 L423.40,294.90 L423.80,298.47 L424.20,301.83 L424.60,304.84 L425.00,307.33 L425.40,309.14 L425.80,310.08 L426.20,309.96 L426.60,309.05 L427.00,307.62 L427.40,305.81 L427.80,303.70 L428.20,301.35 L428.60,299.27 L429.00,295.62 L429.40,290.76 L429.80,286.50 L430.20,282.06 L430.60,278.28 L431.00,274.51 L431.40,271.02 L431.80,267.58 L432.20,264.21 L432.60,261.85 L433.00,260.57 L433.40,260.68 L433.80,262.67 L434.20,266.03 L434.60,270.52 L435.00,274.53 L435.40,279.06 L435.80,285.41 L436.20,291.43 L436.60,297.57 L437.00,303.75 L437.40,307.95 L437.80,312.00 L438.20,315.97 L438.60,319.65 L439.00,322.65 L439.40,324.32 L439.80,325.22 L440.20,326.38 L440.60,327.34 L441.00,328.17 L441.40,328.92 L441.80,329.60 L442.20,330.21 L442.60,330.75 L443.00,331.22 L443.40,331.62 L443.80,331.94 L444.20,332.18 L444.60,332.34 L445.00,332.37 L445.40,332.26 L445.80,331.96 L446.20,331.43 L446.60,330.68 L447.00,329.73 L447.40,328.59 L447.80,327.32 L448.20,325.95 L448.60,324.51 L449.00,323.05 L449.40,321.61 L449.80,320.21 L450.20,318.91 L450.60,317.74 L451.00,316.74 L451.40,315.95 L451.80,315.38 L452.20,315.07 L452.60,315.07 L453.00,315.35 L453.40,315.84 L453.80,316.49 L454.20,317.25 L454.60,318.04 L455.00,318.78 L455.40,319.38 L455.80,319.80 L456.20,320.04 L456.60,319.90 L457.00,319.03 L457.40,317.62 L457.80,315.87 L458.20,313.97 L458.60,311.91 L459.00,309.76 L459.40,307.57 L459.80,305.38 L460.20,303.23 L460.60,301.07 L461.00,299.17 L461.40,298.11 L461.80,297.17 L462.20,296.51 L462.60,296.23 L463.00,296.55 L463.40,297.36 L463.80,298.48 L464.20,299.75 L464.60,301.56 L465.00,304.07 L465.40,306.44 L465.80,308.83 L466.20,311.14 L466.60,313.33 L467.00,315.41 L467.40,317.39 L467.80,319.22 L468.20,320.86 L468.60,322.27 L469.00,323.35 L469.40,324.05 L469.80,324.20 L470.20,323.13 L470.60,321.19 L471.00,318.83 L471.40,316.37 L471.80,313.80 L472.20,311.15 L472.60,308.46 L473.00,305.72 L473.40,302.90 L473.80,300.02 L474.20,297.13 L474.60,294.27 L475.00,291.49 L475.40,288.80 L475.80,286.18 L476.20,283.62 L476.60,281.16 L477.00,278.81 L477.40,276.57 L477.80,274.65 L478.20,273.62 L478.60,273.67 L479.00,274.99 L479.40,277.42 L479.80,279.59 L480.20,281.77 L480.60,284.02 L481.00,286.24 L481.40,288.32 L481.80,290.54 L482.20,292.41 L482.60,292.83 L483.00,292.77 L483.40,292.89 L483.80,292.87 L484.20,292.83 L484.60,292.87 L485.00,293.07 L485.40,293.49 L485.80,294.16 L486.20,295.02 L486.60,296.03 L487.00,297.13 L487.40,298.31 L487.80,299.58 L488.20,300.96 L488.60,302.47 L489.00,304.12 L489.40,305.87 L489.80,307.71 L490.20,309.58 L490.60,311.45 L491.00,313.28 L491.40,315.04 L491.80,316.68 L492.20,318.16 L492.60,319.45 L493.00,320.52 L493.40,321.34 L493.80,321.86 L494.20,322.07 L494.60,321.74 L495.00,320.79 L495.40,319.43 L495.80,317.92 L496.20,316.27 L496.60,314.59 L497.00,312.99 L497.40,311.55 L497.80,310.29 L498.20,309.22 L498.60,308.27 L499.00,307.43 L499.40,306.65 L499.80,305.93 L500.20,305.26 L500.60,304.62 L501.00,304.00 L501.40,303.37 L501.80,302.66 L502.20,301.84 L502.60,300.89 L503.00,299.80 L503.40,298.60 L503.80,297.33 L504.20,296.03 L504.60,294.75 L505.00,293.56 L505.40,292.50 L505.80,291.62 L506.20,290.96 L506.60,290.55 L507.00,290.47 L507.40,290.84 L507.80,291.67 L508.20,292.86 L508.60,294.35 L509.00,296.04 L509.40,297.92 L509.80,299.93 L510.20,302.00 L510.60,304.07 L511.00,306.08 L511.40,307.96 L511.80,309.65 L512.20,311.14 L512.60,312.33 L513.00,313.16 L513.40,313.53 L513.80,313.46 L514.20,313.10 L514.60,312.50 L515.00,311.70 L515.40,310.72 L515.80,309.62 L516.20,308.45 L516.60,307.25 L517.00,306.08 L517.40,304.98 L517.80,304.00 L518.20,303.19 L518.60,302.57 L519.00,302.18 L519.40,302.01 L519.80,302.04 L520.20,302.22 L520.60,302.55 L521.00,302.99 L521.40,303.53 L521.80,304.17 L522.20,304.88 L522.60,305.68 L523.00,306.53 L523.40,307.45 L523.80,308.41 L524.20,309.41 L524.60,310.44 L525.00,311.49 L525.40,312.55 L525.80,313.62 L526.20,314.68 L526.60,315.72 L527.00,316.75 L527.40,317.74 L527.80,318.69 L528.20,319.59 L528.60,320.43 L529.00,321.20 L529.40,321.90 L529.80,322.51 L530.20,323.03 L530.60,323.45 L531.00,323.75 L531.40,323.93 L531.80,323.98 L532.20,323.90 L532.60,323.68 L533.00,323.33 L533.40,322.86 L533.80,322.27 L534.20,321.58 L534.60,320.81 L535.00,319.95 L535.40,319.03 L535.80,318.06 L536.20,317.05 L536.60,316.02 L537.00,314.96 L537.40,313.91 L537.80,312.86 L538.20,311.84 L538.60,310.84 L539.00,309.90 L539.40,309.01 L539.80,308.20 L540.20,307.46 L540.60,306.82 L541.00,306.29 L541.40,305.88 L541.80,305.59 L542.20,305.44 L542.60,305.43 L543.00,305.54 L543.40,305.75 L543.80,306.03 L544.20,306.34 L544.60,306.64 L545.00,306.90 L545.40,307.04 L545.80,307.02 L546.20,306.83 L546.60,306.29 L547.00,305.39 L547.40,304.18 L547.80,302.72 L548.20,301.05 L548.60,299.19 L549.00,297.20 L549.40,295.13 L549.80,293.02 L550.20,290.92 L550.60,288.89 L551.00,286.96 L551.40,285.19 L551.80,283.63 L552.20,282.28 L552.60,281.22 L553.00,280.49 L553.40,280.16 L553.80,280.23 L554.20,280.61 L554.60,281.27 L555.00,282.15 L555.40,283.26 L555.80,284.56 L556.20,286.01 L556.60,287.58 L557.00,289.25 L557.40,290.98 L557.80,292.73 L558.20,294.48 L558.60,296.19 L559.00,297.83 L559.40,299.38 L559.80,300.83 L560.20,302.18 L560.60,303.47 L561.00,304.73 L561.40,305.98 L561.80,307.24 L562.20,308.49 L562.60,309.73 L563.00,310.93 L563.40,312.08 L563.80,313.16 L564.20,314.14 L564.60,315.01 L565.00,315.75 L565.40,316.35 L565.80,316.81 L566.20,317.15 L566.60,317.39 L567.00,317.57 L567.40,317.72 L567.80,317.84 L568.20,317.95 L568.60,318.05 L569.00,318.14 L569.40,318.21 L569.80,318.26 L570.20,318.30 L570.60,318.31 L571.00,318.29 L571.40,318.23 L571.80,318.13 L572.20,317.98 L572.60,317.80 L573.00,317.57 L573.40,317.31 L573.80,317.03 L574.20,316.72 L574.60,316.37 L575.00,315.97 L575.40,315.48 L575.80,314.88 L576.20,314.17 L576.60,313.34 L577.00,312.41 L577.40,311.40 L577.80,310.33 L578.20,309.23 L578.60,308.11 L579.00,306.99 L579.40,305.90 L579.80,304.87 L580.20,303.90 L580.60,303.03 L581.00,302.27 L581.40,301.66 L581.80,301.19 L582.20,300.89 L582.60,300.77 L583.00,300.81 L583.40,301.00 L583.80,301.33 L584.20,301.76 L584.60,302.30 L585.00,302.91 L585.40,303.58 L585.80,304.29 L586.20,305.03 L586.60,305.77 L587.00,306.51 L587.40,307.22 L587.80,307.89 L588.20,308.50 L588.60,309.04 L589.00,309.47 L589.40,309.80 L589.80,310.00 L590.20,310.06 L590.60,309.98 L591.00,309.77 L591.40,309.43 L591.80,309.01 L592.20,308.52 L592.60,308.01 L593.00,307.50 L593.40,307.02 L593.80,306.60 L594.20,306.25 L594.60,305.96 L595.00,305.72 L595.40,305.52 L595.80,305.35 L596.20,305.22 L596.60,305.14 L597.00,305.11 L597.40,305.15 L597.80,305.25 L598.20,305.41 L598.60,305.62 L599.00,305.86 L599.40,306.12 L599.80,306.38 L600.20,306.66 L600.60,306.94 L601.00,307.24 L601.40,307.54 L601.80,307.82 L602.20,308.06 L602.60,308.24 L603.00,308.36 L603.40,308.40 L603.80,308.39 L604.20,308.33 L604.60,308.26 L605.00,308.18 L605.40,308.12 L605.80,308.09 L606.20,308.10 L606.60,308.16 L607.00,308.28 L607.40,308.46 L607.80,308.69 L608.20,308.96 L608.60,309.26 L609.00,309.59 L609.40,309.93 L609.80,310.28 L610.20,310.63 L610.60,310.96 L611.00,311.27 L611.40,311.55 L611.80,311.79 L612.20,311.98 L612.60,312.10 L613.00,312.16 L613.40,312.13 L613.80,312.00 L614.20,311.78 L614.60,311.46 L615.00,311.05 L615.40,310.56 L615.80,309.99 L616.20,309.36 L616.60,308.69 L617.00,308.01 L617.40,307.38 L617.80,306.83 L617.90,306.51" fill="none" stroke="#1f77b4" stroke-width="0.90" stroke-opacity="1.00" stroke-linejoin="round" stroke-linecap="round"/>
<path d="M373.00,342.16 L373.40,342.02 L373.80,341.83 L374.20,341.59 L374.60,341.31 L375.00,341.01 L375.40,340.68 L375.80,340.32 L376.20,339.93 L376.60,339.49 L377.00,339.01 L377.40,338.47 L377.80,337.85 L378.20,337.14 L378.60,336.31 L379.00,335.35 L379.40,334.25 L379.80,332.98 L380.20,331.53 L380.60,329.87 L381.00,328.05 L381.40,325.93 L381.80,323.24 L382.20,320.05 L382.60,316.48 L383.00,312.59 L383.40,308.60 L383.80,304.28 L384.20,298.77 L384.60,291.96 L385.00,281.44 L385.40,265.89 L385.80,250.29 L386.20,240.86 L386.60,232.89 L387.00,226.38 L387.40,222.54 L387.80,222.55 L388.20,226.46 L388.60,233.03 L389.00,240.94 L389.40,250.04 L389.80,264.67 L390.20,279.43 L390.60,290.00 L391.00,295.33 L391.40,298.88 L391.80,303.31 L392.20,307.89 L392.60,312.53 L393.00,318.16 L393.40,321.90 L393.80,323.94 L394.20,326.13 L394.60,328.18 L395.00,330.00 L395.40,331.58 L395.80,332.97 L396.20,334.18 L396.60,335.23 L397.00,336.15 L397.40,336.97 L397.80,337.71 L398.20,338.38 L398.60,339.00 L399.00,339.54 L399.40,339.99 L399.80,340.35 L400.20,340.60 L400.60,340.74 L401.00,340.79 L401.40,340.76 L401.80,340.69 L402.20,340.58 L402.60,340.46 L403.00,340.31 L403.40,340.16 L403.80,340.02 L404.20,339.88 L404.60,339.76 L405.00,339.66 L405.40,339.60 L405.80,339.58 L406.20,339.60 L406.60,339.66 L407.00,339.75 L407.40,339.85 L407.80,339.93 L408.20,339.91 L408.60,339.75 L409.00,339.71 L409.40,338.54 L409.80,336.90 L410.20,335.40 L410.60,333.83 L411.00,332.25 L411.40,330.58 L411.80,328.99 L412.20,327.48 L412.60,324.72 L413.00,320.02 L413.40,313.64 L413.80,308.10 L414.20,302.39 L414.60,296.82 L415.00,291.68 L415.40,285.00 L415.80,274.80 L416.20,262.03 L416.60,248.83 L417.00,240.00 L417.40,234.42 L417.80,229.35 L418.20,225.21 L418.60,222.42 L419.00,221.40 L419.40,222.47 L419.80,225.34 L420.20,229.55 L420.60,234.60 L421.00,240.00 L421.40,247.81 L421.80,258.92 L422.20,271.13 L422.60,282.23 L423.00,290.00 L423.40,295.32 L423.80,300.13 L424.20,304.83 L424.60,309.17 L425.00,312.54 L425.40,314.95 L425.80,316.23 L426.20,316.23 L426.60,314.97 L427.00,312.59 L427.40,309.31 L427.80,305.87 L428.20,302.24 L428.60,298.77 L429.00,294.18 L429.40,288.84 L429.80,283.89 L430.20,278.65 L430.60,274.46 L431.00,270.27 L431.40,266.32 L431.80,262.41 L432.20,258.70 L432.60,256.19 L433.00,254.79 L433.40,254.91 L433.80,257.12 L434.20,260.85 L434.60,265.72 L435.00,270.06 L435.40,275.40 L435.80,282.64 L436.20,289.53 L436.60,296.90 L437.00,303.51 L437.40,308.31 L437.80,312.16 L438.20,316.08 L438.60,319.65 L439.00,322.52 L439.40,324.24 L439.80,325.32 L440.20,326.57 L440.60,327.62 L441.00,328.55 L441.40,329.40 L441.80,330.16 L442.20,330.85 L442.60,331.47 L443.00,332.01 L443.40,332.46 L443.80,332.83 L444.20,333.12 L444.60,333.30 L445.00,333.35 L445.40,333.24 L445.80,332.92 L446.20,332.37 L446.60,331.58 L447.00,330.57 L447.40,329.37 L447.80,328.03 L448.20,326.58 L448.60,325.06 L449.00,323.52 L449.40,322.00 L449.80,320.53 L450.20,319.15 L450.60,317.92 L451.00,316.86 L451.40,316.02 L451.80,315.41 L452.20,315.08 L452.60,315.07 L453.00,315.36 L453.40,315.84 L453.80,316.50 L454.20,317.25 L454.60,318.04 L455.00,318.77 L455.40,319.37 L455.80,319.80 L456.20,320.06 L456.60,319.96 L457.00,318.91 L457.40,317.18 L457.80,315.04 L458.20,312.74 L458.60,310.30 L459.00,307.76 L459.40,305.18 L459.80,302.59 L460.20,300.07 L460.60,297.46 L461.00,295.20 L461.40,294.03 L461.80,292.93 L462.20,292.13 L462.60,291.77 L463.00,292.16 L463.40,293.14 L463.80,294.46 L464.20,295.84 L464.60,297.99 L465.00,301.30 L465.40,304.24 L465.80,307.23 L466.20,310.02 L466.60,312.72 L467.00,315.30 L467.40,317.74 L467.80,320.00 L468.20,322.11 L468.60,323.90 L469.00,325.30 L469.40,326.20 L469.80,326.26 L470.20,325.18 L470.60,323.08 L471.00,320.53 L471.40,317.83 L471.80,315.04 L472.20,312.11 L472.60,309.08 L473.00,305.92 L473.40,302.62 L473.80,299.20 L474.20,295.73 L474.60,292.33 L475.00,289.05 L475.40,285.93 L475.80,282.96 L476.20,280.10 L476.60,277.39 L477.00,274.78 L477.40,272.31 L477.80,270.21 L478.20,269.23 L478.60,269.28 L479.00,270.56 L479.40,273.16 L479.80,275.70 L480.20,278.22 L480.60,280.93 L481.00,283.74 L481.40,286.48 L481.80,289.81 L482.20,292.30 L482.60,293.16 L483.00,292.71 L483.40,292.85 L483.80,292.86 L484.20,292.82 L484.60,292.87 L485.00,293.06 L485.40,293.48 L485.80,294.14 L486.20,295.00 L486.60,296.01 L487.00,297.13 L487.40,298.34 L487.80,299.67 L488.20,301.13 L488.60,302.76 L489.00,304.55 L489.40,306.47 L489.80,308.49 L490.20,310.56 L490.60,312.63 L491.00,314.67 L491.40,316.63 L491.80,318.47 L492.20,320.13 L492.60,321.58 L493.00,322.80 L493.40,323.74 L493.80,324.34 L494.20,324.61 L494.60,324.25 L495.00,323.13 L495.40,321.54 L495.80,319.77 L496.20,317.89 L496.60,315.97 L497.00,314.14 L497.40,312.45 L497.80,311.03 L498.20,309.78 L498.60,308.69 L499.00,307.70 L499.40,306.81 L499.80,306.01 L500.20,305.28 L500.60,304.62 L501.00,303.99 L501.40,303.35 L501.80,302.65 L502.20,301.84 L502.60,300.89 L503.00,299.80 L503.40,298.60 L503.80,297.33 L504.20,296.03 L504.60,294.75 L505.00,293.56 L505.40,292.50 L505.80,291.62 L506.20,290.96 L506.60,290.55 L507.00,290.47 L507.40,290.84 L507.80,291.67 L508.20,292.86 L508.60,294.35 L509.00,296.04 L509.40,297.92 L509.80,299.93 L510.20,302.00 L510.60,304.07 L511.00,306.08 L511.40,307.96 L511.80,309.65 L512.20,311.14 L512.60,312.33 L513.00,313.16 L513.40,313.54 L513.80,313.44 L514.20,313.01 L514.60,312.31 L515.00,311.40 L515.40,310.29 L515.80,309.05 L516.20,307.73 L516.60,306.37 L517.00,305.05 L517.40,303.81 L517.80,302.70 L518.20,301.78 L518.60,301.07 L519.00,300.62 L519.40,300.45 L519.80,300.48 L520.20,300.70 L520.60,301.07 L521.00,301.57 L521.40,302.18 L521.80,302.91 L522.20,303.72 L522.60,304.62 L523.00,305.60 L523.40,306.64 L523.80,307.73 L524.20,308.87 L524.60,310.04 L525.00,311.24 L525.40,312.45 L525.80,313.66 L526.20,314.86 L526.60,316.05 L527.00,317.22 L527.40,318.35 L527.80,319.43 L528.20,320.45 L528.60,321.41 L529.00,322.29 L529.40,323.08 L529.80,323.78 L530.20,324.37 L530.60,324.84 L531.00,325.19 L531.40,325.40 L531.80,325.46 L532.20,325.38 L532.60,325.14 L533.00,324.76 L533.40,324.25 L533.80,323.62 L534.20,322.88 L534.60,322.04 L535.00,321.12 L535.40,320.13 L535.80,319.08 L536.20,317.99 L536.60,316.87 L537.00,315.74 L537.40,314.60 L537.80,313.47 L538.20,312.36 L538.60,311.29 L539.00,310.27 L539.40,309.31 L539.80,308.43 L540.20,307.64 L540.60,306.95 L541.00,306.38 L541.40,305.93 L541.80,305.62 L542.20,305.46 L542.60,305.43 L543.00,305.54 L543.40,305.75 L543.80,306.03 L544.20,306.34 L544.60,306.64 L545.00,306.89 L545.40,307.03 L545.80,306.99 L546.20,306.80 L546.60,306.19 L547.00,305.13 L547.40,303.72 L547.80,302.00 L548.20,300.06 L548.60,297.92 L549.00,295.62 L549.40,293.23 L549.80,290.79 L550.20,288.37 L550.60,286.01 L551.00,283.79 L551.40,281.74 L551.80,279.91 L552.20,278.33 L552.60,277.09 L553.00,276.24 L553.40,275.86 L553.80,275.96 L554.20,276.43 L554.60,277.23 L555.00,278.32 L555.40,279.65 L555.80,281.19 L556.20,282.92 L556.60,284.79 L557.00,286.78 L557.40,288.83 L557.80,290.91 L558.20,292.99 L558.60,295.02 L559.00,296.97 L559.40,298.80 L559.80,300.51 L560.20,302.11 L560.60,303.64 L561.00,305.14 L561.40,306.64 L561.80,308.16 L562.20,309.67 L562.60,311.17 L563.00,312.61 L563.40,313.98 L563.80,315.26 L564.20,316.40 L564.60,317.39 L565.00,318.20 L565.40,318.82 L565.80,319.24 L566.20,319.48 L566.60,319.58 L567.00,319.59 L567.40,319.55 L567.80,319.48 L568.20,319.39 L568.60,319.28 L569.00,319.16 L569.40,319.03 L569.80,318.89 L570.20,318.75 L570.60,318.60 L571.00,318.45 L571.40,318.29 L571.80,318.12 L572.20,317.93 L572.60,317.73 L573.00,317.51 L573.40,317.26 L573.80,317.00 L574.20,316.70 L574.60,316.35 L575.00,315.93 L575.40,315.42 L575.80,314.77 L576.20,313.99 L576.60,313.08 L577.00,312.06 L577.40,310.95 L577.80,309.77 L578.20,308.55 L578.60,307.31 L579.00,306.08 L579.40,304.88 L579.80,303.73 L580.20,302.67 L580.60,301.70 L581.00,300.86 L581.40,300.18 L581.80,299.66 L582.20,299.34 L582.60,299.20 L583.00,299.26 L583.40,299.48 L583.80,299.86 L584.20,300.37 L584.60,300.99 L585.00,301.70 L585.40,302.48 L585.80,303.31 L586.20,304.17 L586.60,305.03 L587.00,305.89 L587.40,306.72 L587.80,307.50 L588.20,308.21 L588.60,308.83 L589.00,309.34 L589.40,309.72 L589.80,309.97 L590.20,310.06 L590.60,310.01 L591.00,309.83 L591.40,309.53 L591.80,309.12 L592.20,308.63 L592.60,308.08 L593.00,307.48 L593.40,306.85 L593.80,306.21 L594.20,305.58 L594.60,304.97 L595.00,304.40 L595.40,303.89 L595.80,303.46 L596.20,303.13 L596.60,302.91 L597.00,302.82 L597.40,302.86 L597.80,303.03 L598.20,303.32 L598.60,303.72 L599.00,304.20 L599.40,304.74 L599.80,305.32 L600.20,305.93 L600.60,306.53 L601.00,307.10 L601.40,307.63 L601.80,308.09 L602.20,308.46 L602.60,308.73 L603.00,308.88 L603.40,308.91 L603.80,308.85 L604.20,308.71 L604.60,308.52 L605.00,308.34 L605.40,308.17 L605.80,308.07 L606.20,308.03 L606.60,308.08 L607.00,308.19 L607.40,308.37 L607.80,308.60 L608.20,308.88 L608.60,309.19 L609.00,309.53 L609.40,309.88 L609.80,310.23 L610.20,310.59 L610.60,310.93 L611.00,311.25 L611.40,311.53 L611.80,311.78 L612.20,311.97 L612.60,312.10 L613.00,312.16 L613.40,312.13 L613.80,312.00 L614.20,311.78 L614.60,311.46 L615.00,311.05 L615.40,310.56 L615.80,309.99 L616.20,309.36 L616.60,308.69 L617.00,308.01 L617.40,307.38 L617.80,306.83 L617.90,306.51" fill="none" stroke="#8c564b" stroke-width="0.90" stroke-opacity="1.00" stroke-linejoin="round" stroke-linecap="round"/>
<rect x="589.1" y="314.9" width="37.6" height="32.5" rx="0.8" fill="#fff" fill-opacity="0.8" stroke="#e0e0e0" stroke-width="0.8"/>
<line x1="591.30" y1="320.30" x2="606.30" y2="320.30" stroke="#d62728" stroke-width="1.00"/>
<line x1="591.30" y1="330.40" x2="606.30" y2="330.40" stroke="#1f77b4" stroke-width="1.00"/>
<line x1="591.30" y1="341.00" x2="606.30" y2="341.00" stroke="#8c564b" stroke-width="1.00"/>
<text x="611.90" y="323.00" font-size="7.60" text-anchor="start" fill="#1a1a1a" font-weight="normal" font-style="normal" textLength="11.80" lengthAdjust="spacingAndGlyphs" stroke="#1a1a1a" stroke-width="0.167">A-A</text>
<text x="611.90" y="333.10" font-size="7.60" text-anchor="start" fill="#1a1a1a" font-weight="normal" font-style="normal" textLength="11.80" lengthAdjust="spacingAndGlyphs" stroke="#1a1a1a" stroke-width="0.167">A-B</text>
<text x="611.90" y="343.70" font-size="7.60" text-anchor="start" fill="#1a1a1a" font-weight="normal" font-style="normal" textLength="11.80" lengthAdjust="spacingAndGlyphs" stroke="#1a1a1a" stroke-width="0.167">B-B</text>
<line x1="572.80" y1="209.00" x2="572.80" y2="274.40" stroke="#444" stroke-width="1.00"/>
<line x1="572.30" y1="273.90" x2="619.00" y2="273.90" stroke="#444" stroke-width="1.00"/>
<line x1="576.50" y1="273.90" x2="576.50" y2="276.40" stroke="#555" stroke-width="0.90"/>
<text x="576.30" y="284.41" font-size="7.90" text-anchor="middle" fill="#1a1a1a" font-weight="normal" font-style="normal" stroke="#1a1a1a" stroke-width="0.174">2.9</text>
<line x1="595.50" y1="273.90" x2="595.50" y2="276.40" stroke="#555" stroke-width="0.90"/>
<text x="595.60" y="284.41" font-size="7.90" text-anchor="middle" fill="#1a1a1a" font-weight="normal" font-style="normal" stroke="#1a1a1a" stroke-width="0.174">3.0</text>
<line x1="614.50" y1="273.90" x2="614.50" y2="276.40" stroke="#555" stroke-width="0.90"/>
<text x="614.90" y="284.41" font-size="7.90" text-anchor="middle" fill="#1a1a1a" font-weight="normal" font-style="normal" stroke="#1a1a1a" stroke-width="0.174">3.1</text>
<line x1="570.30" y1="272.50" x2="572.80" y2="272.50" stroke="#555" stroke-width="0.90"/>
<text x="567.60" y="275.36" font-size="7.90" text-anchor="end" fill="#1a1a1a" font-weight="normal" font-style="normal" stroke="#1a1a1a" stroke-width="0.174">2.4</text>
<line x1="570.30" y1="249.50" x2="572.80" y2="249.50" stroke="#555" stroke-width="0.90"/>
<text x="567.60" y="252.56" font-size="7.90" text-anchor="end" fill="#1a1a1a" font-weight="normal" font-style="normal" stroke="#1a1a1a" stroke-width="0.174">2.6</text>
<line x1="570.30" y1="227.50" x2="572.80" y2="227.50" stroke="#555" stroke-width="0.90"/>
<text x="567.60" y="229.76" font-size="7.90" text-anchor="end" fill="#1a1a1a" font-weight="normal" font-style="normal" stroke="#1a1a1a" stroke-width="0.174">2.8</text>
<path d="M585.40,224.40 L585.88,223.18 L586.35,222.03 L586.82,220.93 L587.30,219.90 L587.77,218.93 L588.25,218.03 L588.73,217.18 L589.20,216.40 L589.67,215.68 L590.15,215.03 L590.62,214.43 L591.10,213.90 L591.57,213.43 L592.05,213.03 L592.52,212.68 L593.00,212.40 L593.48,212.18 L593.95,212.03 L594.42,211.93 L594.90,211.90 L595.38,211.93 L595.86,212.03 L596.34,212.19 L596.82,212.42 L597.30,212.71 L597.78,213.06 L598.26,213.48 L598.74,213.96 L599.22,214.51 L599.70,215.12 L600.18,215.80 L600.66,216.54 L601.14,217.35 L601.62,218.22 L602.10,219.16 L602.58,220.16 L603.06,221.22 L603.54,222.35 L604.02,223.54 L604.50,224.80" fill="none" stroke="#8c564b" stroke-width="0.90" stroke-linejoin="round"/>
<path d="M585.40,246.90 L585.87,245.81 L586.33,244.77 L586.79,243.79 L587.26,242.87 L587.73,242.00 L588.19,241.19 L588.65,240.43 L589.12,239.73 L589.59,239.09 L590.05,238.50 L590.51,237.97 L590.98,237.49 L591.45,237.07 L591.91,236.71 L592.38,236.40 L592.84,236.15 L593.31,235.95 L593.77,235.81 L594.24,235.73 L594.70,235.70 L595.19,235.73 L595.68,235.82 L596.17,235.97 L596.66,236.18 L597.15,236.44 L597.64,236.77 L598.13,237.16 L598.62,237.60 L599.11,238.11 L599.60,238.67 L600.09,239.30 L600.58,239.98 L601.07,240.73 L601.56,241.53 L602.05,242.39 L602.54,243.32 L603.03,244.30 L603.52,245.34 L604.01,246.44 L604.50,247.60" fill="none" stroke="#1f77b4" stroke-width="0.90" stroke-linejoin="round"/>
<path d="M590.10,269.50 L590.55,268.70 L591.00,267.94 L591.45,267.22 L591.90,266.55 L592.35,265.91 L592.80,265.32 L593.25,264.76 L593.70,264.25 L594.15,263.78 L594.60,263.35 L595.05,262.96 L595.50,262.61 L595.95,262.30 L596.40,262.04 L596.85,261.81 L597.30,261.63 L597.75,261.48 L598.20,261.38 L598.65,261.32 L599.10,261.30 L599.59,261.32 L600.08,261.40 L600.57,261.52 L601.06,261.69 L601.55,261.91 L602.04,262.18 L602.53,262.50 L603.02,262.87 L603.51,263.28 L604.00,263.75 L604.49,264.26 L604.98,264.83 L605.47,265.44 L605.96,266.10 L606.45,266.81 L606.94,267.57 L607.43,268.38 L607.92,269.24 L608.41,270.14 L608.90,271.10" fill="none" stroke="#d62728" stroke-width="0.90" stroke-linejoin="round"/>
<path d="M595.00,213.60 L597.00,217.20 L593.00,217.20 Z" fill="#8c564b"/>
<path d="M594.90,237.60 L596.90,241.20 L592.90,241.20 Z" fill="#1f77b4"/>
<path d="M599.10,262.80 L601.10,266.40 L597.10,266.40 Z" fill="#d62728"/>
<text x="587.00" y="210.90" font-size="6.60" text-anchor="start" fill="#2a2a2a" font-weight="normal" font-style="normal" textLength="15.90" lengthAdjust="spacingAndGlyphs">2.996</text>
<text x="587.00" y="234.80" font-size="6.60" text-anchor="start" fill="#2a2a2a" font-weight="normal" font-style="normal" textLength="15.90" lengthAdjust="spacingAndGlyphs">2.996</text>
<text x="591.40" y="260.70" font-size="6.60" text-anchor="start" fill="#2a2a2a" font-weight="normal" font-style="normal" textLength="15.60" lengthAdjust="spacingAndGlyphs">3.019</text>
<text transform="translate(11.60,91.70) rotate(-90)" font-size="14.6" text-anchor="middle" fill="#1a1a1a" stroke="#1a1a1a" stroke-width="0.3" textLength="29.8" lengthAdjust="spacingAndGlyphs"><tspan font-style="italic">S</tspan>(<tspan font-style="italic">Q</tspan>)</text>
<text transform="translate(21.70,282.60) rotate(-90)" font-size="14.6" text-anchor="middle" fill="#1a1a1a" stroke="#1a1a1a" stroke-width="0.3" textLength="29.8" lengthAdjust="spacingAndGlyphs"><tspan font-style="italic">S</tspan>(<tspan font-style="italic">Q</tspan>)</text>
<text x="173.40" y="379.60" font-size="14.6" text-anchor="middle" fill="#1a1a1a" stroke="#1a1a1a" stroke-width="0.3" textLength="47" lengthAdjust="spacingAndGlyphs"><tspan font-style="italic">Q</tspan>(<tspan font-style="italic">Å</tspan><tspan font-size="10.2" dy="-5.2">−1</tspan><tspan dy="5.2">)</tspan></text>
<text x="495.50" y="379.60" font-size="14.6" text-anchor="middle" fill="#1a1a1a" stroke="#1a1a1a" stroke-width="0.3" textLength="47" lengthAdjust="spacingAndGlyphs"><tspan font-style="italic">Q</tspan>(<tspan font-style="italic">Å</tspan><tspan font-size="10.2" dy="-5.2">−1</tspan><tspan dy="5.2">)</tspan></text>
<defs><radialGradient id="gG" cx="0.45" cy="0.42" r="0.58"><stop offset="0" stop-color="#34c234"/><stop offset="0.7" stop-color="#14a214"/><stop offset="1" stop-color="#0a780a"/></radialGradient><radialGradient id="gY" cx="0.45" cy="0.42" r="0.58"><stop offset="0" stop-color="#f8e448"/><stop offset="0.7" stop-color="#e6c81e"/><stop offset="1" stop-color="#9c860e"/></radialGradient><radialGradient id="gO" cx="0.45" cy="0.42" r="0.58"><stop offset="0" stop-color="#ffb838"/><stop offset="0.7" stop-color="#f29a0e"/><stop offset="1" stop-color="#a86000"/></radialGradient><radialGradient id="gBr" cx="0.45" cy="0.42" r="0.58"><stop offset="0" stop-color="#a4624f"/><stop offset="0.7" stop-color="#7e4436"/><stop offset="1" stop-color="#4c2419"/></radialGradient><radialGradient id="gBl" cx="0.45" cy="0.42" r="0.58"><stop offset="0" stop-color="#4a96d6"/><stop offset="0.7" stop-color="#2470b2"/><stop offset="1" stop-color="#13497c"/></radialGradient><radialGradient id="gR" cx="0.45" cy="0.42" r="0.58"><stop offset="0" stop-color="#ec4a4a"/><stop offset="0.7" stop-color="#cf2222"/><stop offset="1" stop-color="#8a1010"/></radialGradient></defs><text x="656.60" y="25.10" font-size="7.00" font-weight="bold" fill="#111" textLength="9.40" lengthAdjust="spacingAndGlyphs">rod</text><clipPath id="cR"><path d="M653.20,30.00 C653.83,29.03 654.87,28.57 656.00,28.00 C657.13,27.43 658.67,26.87 660.00,26.60 C661.33,26.33 662.67,26.17 664.00,26.40 C665.33,26.63 666.92,27.15 668.00,28.00 C669.08,28.85 670.15,29.22 670.50,31.50 C670.85,33.78 670.27,38.67 670.10,41.70 C669.93,44.73 670.12,47.92 669.50,49.70 C668.88,51.48 668.10,51.58 666.40,52.40 C664.70,53.22 661.37,54.60 659.30,54.60 C657.23,54.60 655.18,53.65 654.00,52.40 C652.82,51.15 652.38,48.88 652.20,47.10 C652.02,45.32 652.90,43.92 652.90,41.70 C652.90,39.48 652.15,35.75 652.20,33.80 C652.25,31.85 652.57,30.97 653.20,30.00 Z"/></clipPath><path d="M653.20,30.00 C653.83,29.03 654.87,28.57 656.00,28.00 C657.13,27.43 658.67,26.87 660.00,26.60 C661.33,26.33 662.67,26.17 664.00,26.40 C665.33,26.63 666.92,27.15 668.00,28.00 C669.08,28.85 670.15,29.22 670.50,31.50 C670.85,33.78 670.27,38.67 670.10,41.70 C669.93,44.73 670.12,47.92 669.50,49.70 C668.88,51.48 668.10,51.58 666.40,52.40 C664.70,53.22 661.37,54.60 659.30,54.60 C657.23,54.60 655.18,53.65 654.00,52.40 C652.82,51.15 652.38,48.88 652.20,47.10 C652.02,45.32 652.90,43.92 652.90,41.70 C652.90,39.48 652.15,35.75 652.20,33.80 C652.25,31.85 652.57,30.97 653.20,30.00 Z" fill="#0c880c"/><g clip-path="url(#cR)"><circle cx="647.10" cy="28.40" r="1.80" fill="url(#gG)"/><circle cx="650.70" cy="28.40" r="1.80" fill="url(#gG)"/><circle cx="654.30" cy="28.40" r="1.80" fill="url(#gG)"/><circle cx="657.90" cy="28.40" r="1.80" fill="url(#gG)"/><circle cx="661.50" cy="28.40" r="1.80" fill="url(#gG)"/><circle cx="665.10" cy="28.40" r="1.80" fill="url(#gG)"/><circle cx="668.70" cy="28.40" r="1.80" fill="url(#gG)"/><circle cx="648.90" cy="31.50" r="1.80" fill="url(#gG)"/><circle cx="652.50" cy="31.50" r="1.80" fill="url(#gG)"/><circle cx="656.10" cy="31.50" r="1.80" fill="url(#gG)"/><circle cx="659.70" cy="31.50" r="1.80" fill="url(#gG)"/><circle cx="663.30" cy="31.50" r="1.80" fill="url(#gG)"/><circle cx="666.90" cy="31.50" r="1.80" fill="url(#gG)"/><circle cx="670.50" cy="31.50" r="1.80" fill="url(#gG)"/><circle cx="647.10" cy="34.60" r="1.80" fill="url(#gG)"/><circle cx="650.70" cy="34.60" r="1.80" fill="url(#gG)"/><circle cx="654.30" cy="34.60" r="1.80" fill="url(#gG)"/><circle cx="657.90" cy="34.60" r="1.80" fill="url(#gG)"/><circle cx="661.50" cy="34.60" r="1.80" fill="url(#gG)"/><circle cx="665.10" cy="34.60" r="1.80" fill="url(#gG)"/><circle cx="668.70" cy="34.60" r="1.80" fill="url(#gG)"/><circle cx="648.90" cy="37.70" r="1.80" fill="url(#gG)"/><circle cx="652.50" cy="37.70" r="1.80" fill="url(#gG)"/><circle cx="656.10" cy="37.70" r="1.80" fill="url(#gG)"/><circle cx="659.70" cy="37.70" r="1.80" fill="url(#gG)"/><circle cx="663.30" cy="37.70" r="1.80" fill="url(#gG)"/><circle cx="666.90" cy="37.70" r="1.80" fill="url(#gG)"/><circle cx="670.50" cy="37.70" r="1.80" fill="url(#gG)"/><circle cx="647.10" cy="40.80" r="1.80" fill="url(#gG)"/><circle cx="650.70" cy="40.80" r="1.80" fill="url(#gG)"/><circle cx="654.30" cy="40.80" r="1.80" fill="url(#gG)"/><circle cx="657.90" cy="40.80" r="1.80" fill="url(#gG)"/><circle cx="661.50" cy="40.80" r="1.80" fill="url(#gG)"/><circle cx="665.10" cy="40.80" r="1.80" fill="url(#gG)"/><circle cx="668.70" cy="40.80" r="1.80" fill="url(#gG)"/><circle cx="648.90" cy="43.90" r="1.80" fill="url(#gG)"/><circle cx="652.50" cy="43.90" r="1.80" fill="url(#gG)"/><circle cx="656.10" cy="43.90" r="1.80" fill="url(#gG)"/><circle cx="659.70" cy="43.90" r="1.80" fill="url(#gG)"/><circle cx="663.30" cy="43.90" r="1.80" fill="url(#gG)"/><circle cx="666.90" cy="43.90" r="1.80" fill="url(#gG)"/><circle cx="670.50" cy="43.90" r="1.80" fill="url(#gG)"/><circle cx="647.10" cy="47.00" r="1.80" fill="url(#gG)"/><circle cx="650.70" cy="47.00" r="1.80" fill="url(#gG)"/><circle cx="654.30" cy="47.00" r="1.80" fill="url(#gG)"/><circle cx="657.90" cy="47.00" r="1.80" fill="url(#gG)"/><circle cx="661.50" cy="47.00" r="1.80" fill="url(#gG)"/><circle cx="665.10" cy="47.00" r="1.80" fill="url(#gG)"/><circle cx="668.70" cy="47.00" r="1.80" fill="url(#gG)"/><circle cx="648.90" cy="50.10" r="1.80" fill="url(#gG)"/><circle cx="652.50" cy="50.10" r="1.80" fill="url(#gG)"/><circle cx="656.10" cy="50.10" r="1.80" fill="url(#gG)"/><circle cx="659.70" cy="50.10" r="1.80" fill="url(#gG)"/><circle cx="663.30" cy="50.10" r="1.80" fill="url(#gG)"/><circle cx="666.90" cy="50.10" r="1.80" fill="url(#gG)"/><circle cx="670.50" cy="50.10" r="1.80" fill="url(#gG)"/><circle cx="647.10" cy="53.20" r="1.80" fill="url(#gG)"/><circle cx="650.70" cy="53.20" r="1.80" fill="url(#gG)"/><circle cx="654.30" cy="53.20" r="1.80" fill="url(#gG)"/><circle cx="657.90" cy="53.20" r="1.80" fill="url(#gG)"/><circle cx="661.50" cy="53.20" r="1.80" fill="url(#gG)"/><circle cx="665.10" cy="53.20" r="1.80" fill="url(#gG)"/><circle cx="668.70" cy="53.20" r="1.80" fill="url(#gG)"/><circle cx="648.90" cy="56.30" r="1.80" fill="url(#gG)"/><circle cx="652.50" cy="56.30" r="1.80" fill="url(#gG)"/><circle cx="656.10" cy="56.30" r="1.80" fill="url(#gG)"/><circle cx="659.70" cy="56.30" r="1.80" fill="url(#gG)"/><circle cx="663.30" cy="56.30" r="1.80" fill="url(#gG)"/><circle cx="666.90" cy="56.30" r="1.80" fill="url(#gG)"/><circle cx="670.50" cy="56.30" r="1.80" fill="url(#gG)"/></g><text x="642.90" y="67.40" font-size="7.00" font-weight="bold" fill="#111" textLength="36.00" lengthAdjust="spacingAndGlyphs">supersphere</text><clipPath id="cS"><path d="M660.10,70.00 C662.02,70.08 664.60,70.68 666.30,71.80 C668.00,72.92 669.40,74.70 670.30,76.70 C671.20,78.70 671.77,81.43 671.70,83.80 C671.63,86.17 670.95,89.13 669.90,90.90 C668.85,92.67 667.03,93.58 665.40,94.40 C663.77,95.22 662.02,96.02 660.10,95.80 C658.18,95.58 655.53,94.37 653.90,93.10 C652.27,91.83 651.05,89.90 650.30,88.20 C649.55,86.50 649.32,84.90 649.40,82.90 C649.48,80.90 649.90,78.13 650.80,76.20 C651.70,74.27 653.25,72.33 654.80,71.30 C656.35,70.27 658.18,69.92 660.10,70.00 Z"/></clipPath><path d="M660.10,70.00 C662.02,70.08 664.60,70.68 666.30,71.80 C668.00,72.92 669.40,74.70 670.30,76.70 C671.20,78.70 671.77,81.43 671.70,83.80 C671.63,86.17 670.95,89.13 669.90,90.90 C668.85,92.67 667.03,93.58 665.40,94.40 C663.77,95.22 662.02,96.02 660.10,95.80 C658.18,95.58 655.53,94.37 653.90,93.10 C652.27,91.83 651.05,89.90 650.30,88.20 C649.55,86.50 649.32,84.90 649.40,82.90 C649.48,80.90 649.90,78.13 650.80,76.20 C651.70,74.27 653.25,72.33 654.80,71.30 C656.35,70.27 658.18,69.92 660.10,70.00 Z" fill="#b89c10"/><g clip-path="url(#cS)"><circle cx="645.00" cy="72.00" r="1.75" fill="url(#gY)"/><circle cx="648.50" cy="72.00" r="1.75" fill="url(#gY)"/><circle cx="652.00" cy="72.00" r="1.75" fill="url(#gY)"/><circle cx="655.50" cy="72.00" r="1.75" fill="url(#gY)"/><circle cx="659.00" cy="72.00" r="1.75" fill="url(#gY)"/><circle cx="662.50" cy="72.00" r="1.75" fill="url(#gY)"/><circle cx="666.00" cy="72.00" r="1.75" fill="url(#gY)"/><circle cx="669.50" cy="72.00" r="1.75" fill="url(#gY)"/><circle cx="673.00" cy="72.00" r="1.75" fill="url(#gY)"/><circle cx="646.75" cy="75.00" r="1.75" fill="url(#gY)"/><circle cx="650.25" cy="75.00" r="1.75" fill="url(#gY)"/><circle cx="653.75" cy="75.00" r="1.75" fill="url(#gY)"/><circle cx="657.25" cy="75.00" r="1.75" fill="url(#gY)"/><circle cx="660.75" cy="75.00" r="1.75" fill="url(#gY)"/><circle cx="664.25" cy="75.00" r="1.75" fill="url(#gY)"/><circle cx="667.75" cy="75.00" r="1.75" fill="url(#gY)"/><circle cx="671.25" cy="75.00" r="1.75" fill="url(#gY)"/><circle cx="645.00" cy="78.00" r="1.75" fill="url(#gY)"/><circle cx="648.50" cy="78.00" r="1.75" fill="url(#gY)"/><circle cx="652.00" cy="78.00" r="1.75" fill="url(#gY)"/><circle cx="655.50" cy="78.00" r="1.75" fill="url(#gY)"/><circle cx="659.00" cy="78.00" r="1.75" fill="url(#gY)"/><circle cx="662.50" cy="78.00" r="1.75" fill="url(#gY)"/><circle cx="666.00" cy="78.00" r="1.75" fill="url(#gY)"/><circle cx="669.50" cy="78.00" r="1.75" fill="url(#gY)"/><circle cx="673.00" cy="78.00" r="1.75" fill="url(#gY)"/><circle cx="646.75" cy="81.00" r="1.75" fill="url(#gY)"/><circle cx="650.25" cy="81.00" r="1.75" fill="url(#gY)"/><circle cx="653.75" cy="81.00" r="1.75" fill="url(#gY)"/><circle cx="657.25" cy="81.00" r="1.75" fill="url(#gY)"/><circle cx="660.75" cy="81.00" r="1.75" fill="url(#gY)"/><circle cx="664.25" cy="81.00" r="1.75" fill="url(#gY)"/><circle cx="667.75" cy="81.00" r="1.75" fill="url(#gY)"/><circle cx="671.25" cy="81.00" r="1.75" fill="url(#gY)"/><circle cx="645.00" cy="84.00" r="1.75" fill="url(#gY)"/><circle cx="648.50" cy="84.00" r="1.75" fill="url(#gY)"/><circle cx="652.00" cy="84.00" r="1.75" fill="url(#gY)"/><circle cx="655.50" cy="84.00" r="1.75" fill="url(#gY)"/><circle cx="659.00" cy="84.00" r="1.75" fill="url(#gY)"/><circle cx="662.50" cy="84.00" r="1.75" fill="url(#gY)"/><circle cx="666.00" cy="84.00" r="1.75" fill="url(#gY)"/><circle cx="669.50" cy="84.00" r="1.75" fill="url(#gY)"/><circle cx="673.00" cy="84.00" r="1.75" fill="url(#gY)"/><circle cx="646.75" cy="87.00" r="1.75" fill="url(#gY)"/><circle cx="650.25" cy="87.00" r="1.75" fill="url(#gY)"/><circle cx="653.75" cy="87.00" r="1.75" fill="url(#gY)"/><circle cx="657.25" cy="87.00" r="1.75" fill="url(#gY)"/><circle cx="660.75" cy="87.00" r="1.75" fill="url(#gY)"/><circle cx="664.25" cy="87.00" r="1.75" fill="url(#gY)"/><circle cx="667.75" cy="87.00" r="1.75" fill="url(#gY)"/><circle cx="671.25" cy="87.00" r="1.75" fill="url(#gY)"/><circle cx="645.00" cy="90.00" r="1.75" fill="url(#gY)"/><circle cx="648.50" cy="90.00" r="1.75" fill="url(#gY)"/><circle cx="652.00" cy="90.00" r="1.75" fill="url(#gY)"/><circle cx="655.50" cy="90.00" r="1.75" fill="url(#gY)"/><circle cx="659.00" cy="90.00" r="1.75" fill="url(#gY)"/><circle cx="662.50" cy="90.00" r="1.75" fill="url(#gY)"/><circle cx="666.00" cy="90.00" r="1.75" fill="url(#gY)"/><circle cx="669.50" cy="90.00" r="1.75" fill="url(#gY)"/><circle cx="673.00" cy="90.00" r="1.75" fill="url(#gY)"/><circle cx="646.75" cy="93.00" r="1.75" fill="url(#gY)"/><circle cx="650.25" cy="93.00" r="1.75" fill="url(#gY)"/><circle cx="653.75" cy="93.00" r="1.75" fill="url(#gY)"/><circle cx="657.25" cy="93.00" r="1.75" fill="url(#gY)"/><circle cx="660.75" cy="93.00" r="1.75" fill="url(#gY)"/><circle cx="664.25" cy="93.00" r="1.75" fill="url(#gY)"/><circle cx="667.75" cy="93.00" r="1.75" fill="url(#gY)"/><circle cx="671.25" cy="93.00" r="1.75" fill="url(#gY)"/><circle cx="645.00" cy="96.00" r="1.75" fill="url(#gY)"/><circle cx="648.50" cy="96.00" r="1.75" fill="url(#gY)"/><circle cx="652.00" cy="96.00" r="1.75" fill="url(#gY)"/><circle cx="655.50" cy="96.00" r="1.75" fill="url(#gY)"/><circle cx="659.00" cy="96.00" r="1.75" fill="url(#gY)"/><circle cx="662.50" cy="96.00" r="1.75" fill="url(#gY)"/><circle cx="666.00" cy="96.00" r="1.75" fill="url(#gY)"/><circle cx="669.50" cy="96.00" r="1.75" fill="url(#gY)"/><circle cx="673.00" cy="96.00" r="1.75" fill="url(#gY)"/></g><text x="653.90" y="107.80" font-size="7.00" font-weight="bold" fill="#111" textLength="13.90" lengthAdjust="spacingAndGlyphs">plate</text><clipPath id="cP"><path d="M654.20,111.90 L659.70,110.30 L669.90,111.90 L674.20,116.60 L673.80,124.00 L669.90,128.70 L663.60,131.90 L654.20,131.90 L648.70,127.20 L647.10,121.70 L649.90,115.40 Z"/></clipPath><path d="M654.20,111.90 L659.70,110.30 L669.90,111.90 L674.20,116.60 L673.80,124.00 L669.90,128.70 L663.60,131.90 L654.20,131.90 L648.70,127.20 L647.10,121.70 L649.90,115.40 Z" fill="#c87806"/><g clip-path="url(#cP)"><circle cx="645.00" cy="112.00" r="1.75" fill="url(#gO)"/><circle cx="648.50" cy="112.00" r="1.75" fill="url(#gO)"/><circle cx="652.00" cy="112.00" r="1.75" fill="url(#gO)"/><circle cx="655.50" cy="112.00" r="1.75" fill="url(#gO)"/><circle cx="659.00" cy="112.00" r="1.75" fill="url(#gO)"/><circle cx="662.50" cy="112.00" r="1.75" fill="url(#gO)"/><circle cx="666.00" cy="112.00" r="1.75" fill="url(#gO)"/><circle cx="669.50" cy="112.00" r="1.75" fill="url(#gO)"/><circle cx="673.00" cy="112.00" r="1.75" fill="url(#gO)"/><circle cx="643.25" cy="114.80" r="1.75" fill="url(#gO)"/><circle cx="646.75" cy="114.80" r="1.75" fill="url(#gO)"/><circle cx="650.25" cy="114.80" r="1.75" fill="url(#gO)"/><circle cx="653.75" cy="114.80" r="1.75" fill="url(#gO)"/><circle cx="657.25" cy="114.80" r="1.75" fill="url(#gO)"/><circle cx="660.75" cy="114.80" r="1.75" fill="url(#gO)"/><circle cx="664.25" cy="114.80" r="1.75" fill="url(#gO)"/><circle cx="667.75" cy="114.80" r="1.75" fill="url(#gO)"/><circle cx="671.25" cy="114.80" r="1.75" fill="url(#gO)"/><circle cx="674.75" cy="114.80" r="1.75" fill="url(#gO)"/><circle cx="645.00" cy="117.60" r="1.75" fill="url(#gO)"/><circle cx="648.50" cy="117.60" r="1.75" fill="url(#gO)"/><circle cx="652.00" cy="117.60" r="1.75" fill="url(#gO)"/><circle cx="655.50" cy="117.60" r="1.75" fill="url(#gO)"/><circle cx="659.00" cy="117.60" r="1.75" fill="url(#gO)"/><circle cx="662.50" cy="117.60" r="1.75" fill="url(#gO)"/><circle cx="666.00" cy="117.60" r="1.75" fill="url(#gO)"/><circle cx="669.50" cy="117.60" r="1.75" fill="url(#gO)"/><circle cx="673.00" cy="117.60" r="1.75" fill="url(#gO)"/><circle cx="643.25" cy="120.40" r="1.75" fill="url(#gO)"/><circle cx="646.75" cy="120.40" r="1.75" fill="url(#gO)"/><circle cx="650.25" cy="120.40" r="1.75" fill="url(#gO)"/><circle cx="653.75" cy="120.40" r="1.75" fill="url(#gO)"/><circle cx="657.25" cy="120.40" r="1.75" fill="url(#gO)"/><circle cx="660.75" cy="120.40" r="1.75" fill="url(#gO)"/><circle cx="664.25" cy="120.40" r="1.75" fill="url(#gO)"/><circle cx="667.75" cy="120.40" r="1.75" fill="url(#gO)"/><circle cx="671.25" cy="120.40" r="1.75" fill="url(#gO)"/><circle cx="674.75" cy="120.40" r="1.75" fill="url(#gO)"/><circle cx="645.00" cy="123.20" r="1.75" fill="url(#gO)"/><circle cx="648.50" cy="123.20" r="1.75" fill="url(#gO)"/><circle cx="652.00" cy="123.20" r="1.75" fill="url(#gO)"/><circle cx="655.50" cy="123.20" r="1.75" fill="url(#gO)"/><circle cx="659.00" cy="123.20" r="1.75" fill="url(#gO)"/><circle cx="662.50" cy="123.20" r="1.75" fill="url(#gO)"/><circle cx="666.00" cy="123.20" r="1.75" fill="url(#gO)"/><circle cx="669.50" cy="123.20" r="1.75" fill="url(#gO)"/><circle cx="673.00" cy="123.20" r="1.75" fill="url(#gO)"/><circle cx="643.25" cy="126.00" r="1.75" fill="url(#gO)"/><circle cx="646.75" cy="126.00" r="1.75" fill="url(#gO)"/><circle cx="650.25" cy="126.00" r="1.75" fill="url(#gO)"/><circle cx="653.75" cy="126.00" r="1.75" fill="url(#gO)"/><circle cx="657.25" cy="126.00" r="1.75" fill="url(#gO)"/><circle cx="660.75" cy="126.00" r="1.75" fill="url(#gO)"/><circle cx="664.25" cy="126.00" r="1.75" fill="url(#gO)"/><circle cx="667.75" cy="126.00" r="1.75" fill="url(#gO)"/><circle cx="671.25" cy="126.00" r="1.75" fill="url(#gO)"/><circle cx="674.75" cy="126.00" r="1.75" fill="url(#gO)"/><circle cx="645.00" cy="128.80" r="1.75" fill="url(#gO)"/><circle cx="648.50" cy="128.80" r="1.75" fill="url(#gO)"/><circle cx="652.00" cy="128.80" r="1.75" fill="url(#gO)"/><circle cx="655.50" cy="128.80" r="1.75" fill="url(#gO)"/><circle cx="659.00" cy="128.80" r="1.75" fill="url(#gO)"/><circle cx="662.50" cy="128.80" r="1.75" fill="url(#gO)"/><circle cx="666.00" cy="128.80" r="1.75" fill="url(#gO)"/><circle cx="669.50" cy="128.80" r="1.75" fill="url(#gO)"/><circle cx="673.00" cy="128.80" r="1.75" fill="url(#gO)"/><circle cx="643.25" cy="131.60" r="1.75" fill="url(#gO)"/><circle cx="646.75" cy="131.60" r="1.75" fill="url(#gO)"/><circle cx="650.25" cy="131.60" r="1.75" fill="url(#gO)"/><circle cx="653.75" cy="131.60" r="1.75" fill="url(#gO)"/><circle cx="657.25" cy="131.60" r="1.75" fill="url(#gO)"/><circle cx="660.75" cy="131.60" r="1.75" fill="url(#gO)"/><circle cx="664.25" cy="131.60" r="1.75" fill="url(#gO)"/><circle cx="667.75" cy="131.60" r="1.75" fill="url(#gO)"/><circle cx="671.25" cy="131.60" r="1.75" fill="url(#gO)"/><circle cx="674.75" cy="131.60" r="1.75" fill="url(#gO)"/></g><text x="664.20" y="236.90" font-size="6.40" font-weight="bold" fill="#111" textLength="10.20" lengthAdjust="spacingAndGlyphs">B-B</text><path d="M655.80,241.10 L654.10,245.10 L652.70,250.30 L650.90,255.40 L650.50,259.80 L676.85,259.80 L677.25,255.40 L679.05,250.30 L680.45,245.10 L682.15,241.10 Z" fill="#70392c"/><circle cx="655.80" cy="241.10" r="1.95" fill="url(#gBr)"/><circle cx="661.07" cy="241.10" r="1.95" fill="url(#gBr)"/><circle cx="666.34" cy="241.10" r="1.95" fill="url(#gBr)"/><circle cx="671.61" cy="241.10" r="1.95" fill="url(#gBr)"/><circle cx="676.88" cy="241.10" r="1.95" fill="url(#gBr)"/><circle cx="682.15" cy="241.10" r="1.95" fill="url(#gBr)"/><circle cx="654.10" cy="245.10" r="1.95" fill="url(#gBr)"/><circle cx="659.37" cy="245.10" r="1.95" fill="url(#gBr)"/><circle cx="664.64" cy="245.10" r="1.95" fill="url(#gBr)"/><circle cx="669.91" cy="245.10" r="1.95" fill="url(#gBr)"/><circle cx="675.18" cy="245.10" r="1.95" fill="url(#gBr)"/><circle cx="680.45" cy="245.10" r="1.95" fill="url(#gBr)"/><circle cx="652.70" cy="250.30" r="1.95" fill="url(#gBr)"/><circle cx="657.97" cy="250.30" r="1.95" fill="url(#gBr)"/><circle cx="663.24" cy="250.30" r="1.95" fill="url(#gBr)"/><circle cx="668.51" cy="250.30" r="1.95" fill="url(#gBr)"/><circle cx="673.78" cy="250.30" r="1.95" fill="url(#gBr)"/><circle cx="679.05" cy="250.30" r="1.95" fill="url(#gBr)"/><circle cx="650.90" cy="255.40" r="1.95" fill="url(#gBr)"/><circle cx="656.17" cy="255.40" r="1.95" fill="url(#gBr)"/><circle cx="661.44" cy="255.40" r="1.95" fill="url(#gBr)"/><circle cx="666.71" cy="255.40" r="1.95" fill="url(#gBr)"/><circle cx="671.98" cy="255.40" r="1.95" fill="url(#gBr)"/><circle cx="677.25" cy="255.40" r="1.95" fill="url(#gBr)"/><circle cx="650.50" cy="259.80" r="1.95" fill="url(#gBr)"/><circle cx="655.77" cy="259.80" r="1.95" fill="url(#gBr)"/><circle cx="661.04" cy="259.80" r="1.95" fill="url(#gBr)"/><circle cx="666.31" cy="259.80" r="1.95" fill="url(#gBr)"/><circle cx="671.58" cy="259.80" r="1.95" fill="url(#gBr)"/><circle cx="676.85" cy="259.80" r="1.95" fill="url(#gBr)"/><circle cx="656.70" cy="247.70" r="1.15" fill="#fff"/><circle cx="662.00" cy="247.70" r="1.15" fill="#fff"/><circle cx="667.30" cy="247.70" r="1.15" fill="#fff"/><circle cx="672.60" cy="247.70" r="1.15" fill="#fff"/><circle cx="677.90" cy="247.70" r="1.15" fill="#fff"/><circle cx="654.50" cy="253.20" r="1.15" fill="#fff"/><circle cx="660.00" cy="253.20" r="1.15" fill="#fff"/><circle cx="665.50" cy="253.20" r="1.15" fill="#fff"/><circle cx="670.70" cy="253.20" r="1.15" fill="#fff"/><circle cx="676.00" cy="253.20" r="1.15" fill="#fff"/><text x="664.20" y="270.00" font-size="6.40" font-weight="bold" fill="#111" textLength="10.20" lengthAdjust="spacingAndGlyphs">A-B</text><path d="M655.80,273.10 L654.10,277.50 L652.30,282.30 L650.90,287.40 L677.25,287.40 L678.65,282.30 L680.45,277.50 L682.15,273.10 Z" fill="#1f64a0"/><circle cx="655.80" cy="273.10" r="1.95" fill="url(#gBl)"/><circle cx="661.07" cy="273.10" r="1.95" fill="url(#gBl)"/><circle cx="666.34" cy="273.10" r="1.95" fill="url(#gBl)"/><circle cx="671.61" cy="273.10" r="1.95" fill="url(#gBl)"/><circle cx="676.88" cy="273.10" r="1.95" fill="url(#gBl)"/><circle cx="682.15" cy="273.10" r="1.95" fill="url(#gBl)"/><circle cx="654.10" cy="277.50" r="1.95" fill="url(#gBl)"/><circle cx="659.37" cy="277.50" r="1.95" fill="url(#gBl)"/><circle cx="664.64" cy="277.50" r="1.95" fill="url(#gBl)"/><circle cx="669.91" cy="277.50" r="1.95" fill="url(#gBl)"/><circle cx="675.18" cy="277.50" r="1.95" fill="url(#gBl)"/><circle cx="680.45" cy="277.50" r="1.95" fill="url(#gBl)"/><circle cx="652.30" cy="282.30" r="1.95" fill="url(#gBl)"/><circle cx="657.57" cy="282.30" r="1.95" fill="url(#gBl)"/><circle cx="662.84" cy="282.30" r="1.95" fill="url(#gBl)"/><circle cx="668.11" cy="282.30" r="1.95" fill="url(#gBl)"/><circle cx="673.38" cy="282.30" r="1.95" fill="url(#gBl)"/><circle cx="678.65" cy="282.30" r="1.95" fill="url(#gBl)"/><circle cx="650.90" cy="287.40" r="1.95" fill="url(#gBl)"/><circle cx="656.17" cy="287.40" r="1.95" fill="url(#gBl)"/><circle cx="661.44" cy="287.40" r="1.95" fill="url(#gBl)"/><circle cx="666.71" cy="287.40" r="1.95" fill="url(#gBl)"/><circle cx="671.98" cy="287.40" r="1.95" fill="url(#gBl)"/><circle cx="677.25" cy="287.40" r="1.95" fill="url(#gBl)"/><circle cx="656.70" cy="279.70" r="1.15" fill="#fff"/><circle cx="662.00" cy="279.70" r="1.15" fill="#fff"/><circle cx="667.30" cy="279.70" r="1.15" fill="#fff"/><circle cx="672.60" cy="279.70" r="1.15" fill="#fff"/><circle cx="677.90" cy="279.70" r="1.15" fill="#fff"/><circle cx="654.50" cy="285.20" r="1.15" fill="#fff"/><circle cx="660.00" cy="285.20" r="1.15" fill="#fff"/><circle cx="665.50" cy="285.20" r="1.15" fill="#fff"/><circle cx="670.90" cy="285.20" r="1.15" fill="#fff"/><circle cx="676.30" cy="285.20" r="1.15" fill="#fff"/><text x="664.50" y="297.90" font-size="6.40" font-weight="bold" fill="#111" textLength="10.20" lengthAdjust="spacingAndGlyphs">A-A</text><path d="M656.00,301.50 L653.80,307.00 L651.60,312.10 L684.00,312.10 L686.20,307.00 L688.40,301.50 Z" fill="#bb1c1c"/><circle cx="656.00" cy="301.50" r="1.95" fill="url(#gR)"/><circle cx="661.40" cy="301.50" r="1.95" fill="url(#gR)"/><circle cx="666.80" cy="301.50" r="1.95" fill="url(#gR)"/><circle cx="672.20" cy="301.50" r="1.95" fill="url(#gR)"/><circle cx="677.60" cy="301.50" r="1.95" fill="url(#gR)"/><circle cx="683.00" cy="301.50" r="1.95" fill="url(#gR)"/><circle cx="688.40" cy="301.50" r="1.95" fill="url(#gR)"/><circle cx="653.80" cy="307.00" r="1.95" fill="url(#gR)"/><circle cx="659.20" cy="307.00" r="1.95" fill="url(#gR)"/><circle cx="664.60" cy="307.00" r="1.95" fill="url(#gR)"/><circle cx="670.00" cy="307.00" r="1.95" fill="url(#gR)"/><circle cx="675.40" cy="307.00" r="1.95" fill="url(#gR)"/><circle cx="680.80" cy="307.00" r="1.95" fill="url(#gR)"/><circle cx="686.20" cy="307.00" r="1.95" fill="url(#gR)"/><circle cx="651.60" cy="312.10" r="1.95" fill="url(#gR)"/><circle cx="657.00" cy="312.10" r="1.95" fill="url(#gR)"/><circle cx="662.40" cy="312.10" r="1.95" fill="url(#gR)"/><circle cx="667.80" cy="312.10" r="1.95" fill="url(#gR)"/><circle cx="673.20" cy="312.10" r="1.95" fill="url(#gR)"/><circle cx="678.60" cy="312.10" r="1.95" fill="url(#gR)"/><circle cx="684.00" cy="312.10" r="1.95" fill="url(#gR)"/><circle cx="658.20" cy="304.40" r="1.15" fill="#fff"/><circle cx="663.50" cy="304.40" r="1.15" fill="#fff"/><circle cx="668.90" cy="304.40" r="1.15" fill="#fff"/><circle cx="674.30" cy="304.40" r="1.15" fill="#fff"/><circle cx="679.60" cy="304.40" r="1.15" fill="#fff"/><circle cx="656.00" cy="309.50" r="1.15" fill="#fff"/><circle cx="661.40" cy="309.50" r="1.15" fill="#fff"/><circle cx="666.80" cy="309.50" r="1.15" fill="#fff"/><circle cx="672.20" cy="309.50" r="1.15" fill="#fff"/><circle cx="677.60" cy="309.50" r="1.15" fill="#fff"/>
</svg>
</body></html>
